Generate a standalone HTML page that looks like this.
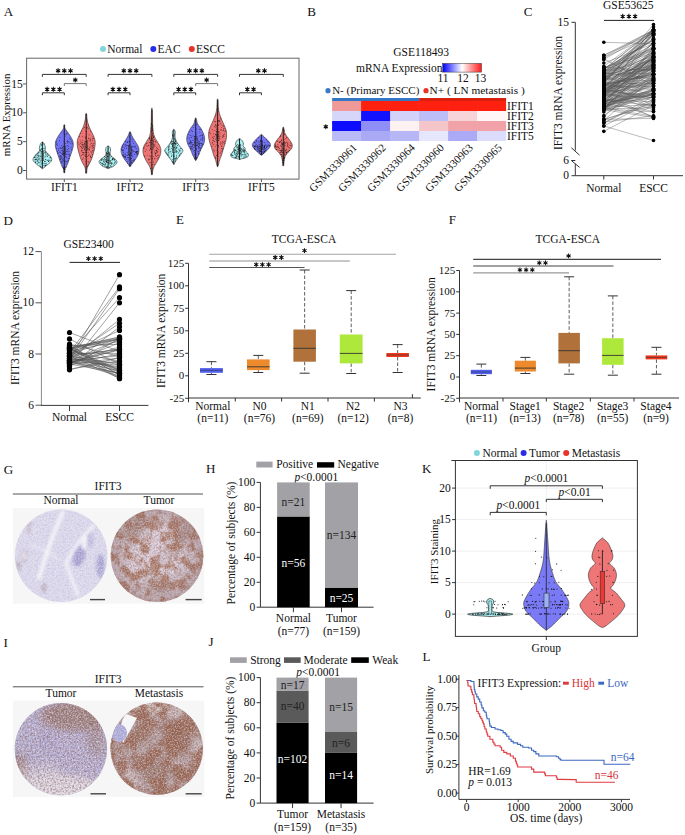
<!DOCTYPE html>
<html><head><meta charset="utf-8"><style>
html,body{margin:0;padding:0;background:#fff;}
svg{display:block;font-family:"Liberation Serif",serif;}
</style></head><body>
<svg width="685" height="835" viewBox="0 0 685 835">
<rect width="685" height="835" fill="#fff"/>
<text x="3.70" y="15.53" font-size="13.06" text-anchor="start" fill="#111" >A</text>
<rect x="26.60" y="58.20" width="272.40" height="120.90" fill="none" stroke="#666" stroke-width="1" />
<line x1="23.10" y1="170.50" x2="26.60" y2="170.50" stroke="#555" stroke-width="1" />
<text x="22.80" y="174.13" font-size="11.49" text-anchor="end" fill="#111" >0</text>
<line x1="23.10" y1="141.65" x2="26.60" y2="141.65" stroke="#555" stroke-width="1" />
<text x="22.80" y="145.28" font-size="11.49" text-anchor="end" fill="#111" >5</text>
<line x1="23.10" y1="112.80" x2="26.60" y2="112.80" stroke="#555" stroke-width="1" />
<text x="22.80" y="116.43" font-size="11.49" text-anchor="end" fill="#111" >10</text>
<line x1="23.10" y1="83.95" x2="26.60" y2="83.95" stroke="#555" stroke-width="1" />
<text x="22.80" y="87.58" font-size="11.49" text-anchor="end" fill="#111" >15</text>
<text transform="translate(10.40,114.90) rotate(-90)" x="0" y="0" font-size="10.97" text-anchor="middle" fill="#111">mRNA Expression</text>
<line x1="64.30" y1="179.10" x2="64.30" y2="182.10" stroke="#555" stroke-width="1" />
<text x="64.30" y="191.23" font-size="11.49" text-anchor="middle" fill="#111" >IFIT1</text>
<line x1="130.00" y1="179.10" x2="130.00" y2="182.10" stroke="#555" stroke-width="1" />
<text x="130.00" y="191.23" font-size="11.49" text-anchor="middle" fill="#111" >IFIT2</text>
<line x1="195.70" y1="179.10" x2="195.70" y2="182.10" stroke="#555" stroke-width="1" />
<text x="195.70" y="191.23" font-size="11.49" text-anchor="middle" fill="#111" >IFIT3</text>
<line x1="261.40" y1="179.10" x2="261.40" y2="182.10" stroke="#555" stroke-width="1" />
<text x="261.40" y="191.23" font-size="11.49" text-anchor="middle" fill="#111" >IFIT5</text>
<circle cx="103.00" cy="49.00" r="3" fill="#7fd6de" stroke="none" stroke-width="0"/>
<text x="107.30" y="52.63" font-size="11.49" text-anchor="start" fill="#111" >Normal</text>
<circle cx="153.30" cy="49.00" r="3" fill="#2b2bea" stroke="none" stroke-width="0"/>
<text x="157.60" y="52.63" font-size="11.49" text-anchor="start" fill="#111" >EAC</text>
<circle cx="191.80" cy="49.00" r="3" fill="#e8332a" stroke="none" stroke-width="0"/>
<text x="196.10" y="52.63" font-size="11.49" text-anchor="start" fill="#111" >ESCC</text>
<path d="M42.70,142.00 C43.08,142.33 43.95,143.00 44.40,144.00 C44.85,145.00 45.23,146.83 45.40,148.00 C45.57,149.17 44.90,150.00 45.40,151.00 C45.90,152.00 47.40,152.83 48.40,154.00 C49.40,155.17 50.90,156.83 51.40,158.00 C51.90,159.17 51.90,160.00 51.40,161.00 C50.90,162.00 49.40,163.08 48.40,164.00 C47.40,164.92 46.35,165.75 45.40,166.50 C44.45,167.25 43.25,168.17 42.70,168.50 C42.15,168.83 42.65,168.83 42.10,168.50 C41.55,168.17 40.35,167.25 39.40,166.50 C38.45,165.75 37.40,164.92 36.40,164.00 C35.40,163.08 33.90,162.00 33.40,161.00 C32.90,160.00 32.90,159.17 33.40,158.00 C33.90,156.83 35.40,155.17 36.40,154.00 C37.40,152.83 38.90,152.00 39.40,151.00 C39.90,150.00 39.23,149.17 39.40,148.00 C39.57,146.83 39.95,145.00 40.40,144.00 C40.85,143.00 41.72,142.33 42.10,142.00 C42.48,141.67 42.32,141.67 42.70,142.00 Z" fill="#a8f0f2" stroke="#333" stroke-width="0.6" />
<g fill="#111"><circle cx="44.7" cy="156.9" r="0.45"/><circle cx="35.1" cy="161.0" r="0.45"/><circle cx="37.9" cy="153.3" r="0.45"/><circle cx="42.5" cy="157.1" r="0.45"/><circle cx="37.3" cy="163.7" r="0.45"/><circle cx="35.4" cy="159.6" r="0.45"/><circle cx="40.3" cy="149.4" r="0.45"/><circle cx="38.6" cy="162.8" r="0.45"/><circle cx="42.8" cy="149.3" r="0.45"/><circle cx="41.8" cy="149.0" r="0.45"/><circle cx="48.5" cy="159.9" r="0.45"/><circle cx="38.8" cy="158.0" r="0.45"/><circle cx="39.1" cy="159.9" r="0.45"/><circle cx="47.8" cy="160.3" r="0.45"/><circle cx="44.7" cy="161.2" r="0.45"/><circle cx="41.1" cy="164.6" r="0.45"/><circle cx="35.9" cy="156.4" r="0.45"/><circle cx="37.5" cy="157.7" r="0.45"/><circle cx="39.8" cy="155.9" r="0.45"/><circle cx="43.2" cy="153.2" r="0.45"/><circle cx="45.7" cy="154.0" r="0.45"/><circle cx="45.8" cy="159.5" r="0.45"/><circle cx="42.8" cy="158.5" r="0.45"/><circle cx="45.7" cy="165.2" r="0.45"/><circle cx="50.4" cy="157.7" r="0.45"/><circle cx="38.1" cy="153.9" r="0.45"/><circle cx="40.4" cy="150.5" r="0.45"/><circle cx="42.2" cy="162.6" r="0.45"/><circle cx="44.3" cy="165.9" r="0.45"/><circle cx="43.6" cy="160.2" r="0.45"/><circle cx="45.5" cy="161.5" r="0.45"/><circle cx="43.6" cy="155.0" r="0.45"/><circle cx="45.7" cy="153.1" r="0.45"/><circle cx="48.4" cy="155.4" r="0.45"/><circle cx="39.9" cy="150.5" r="0.45"/><circle cx="45.8" cy="159.5" r="0.45"/><circle cx="44.2" cy="148.2" r="0.45"/><circle cx="41.5" cy="144.9" r="0.45"/><circle cx="38.5" cy="152.3" r="0.45"/><circle cx="41.9" cy="163.4" r="0.45"/><circle cx="34.9" cy="159.6" r="0.45"/><circle cx="47.0" cy="160.6" r="0.45"/><circle cx="40.5" cy="161.0" r="0.45"/><circle cx="48.6" cy="161.2" r="0.45"/><circle cx="43.0" cy="163.3" r="0.45"/><circle cx="48.9" cy="161.1" r="0.45"/><circle cx="39.3" cy="162.7" r="0.45"/><circle cx="41.9" cy="148.7" r="0.45"/><circle cx="45.3" cy="151.3" r="0.45"/><circle cx="40.7" cy="166.8" r="0.45"/><circle cx="37.8" cy="160.0" r="0.45"/><circle cx="42.2" cy="161.7" r="0.45"/><circle cx="36.2" cy="154.7" r="0.45"/><circle cx="41.2" cy="156.1" r="0.45"/><circle cx="47.2" cy="153.6" r="0.45"/><circle cx="44.8" cy="163.3" r="0.45"/><circle cx="43.4" cy="150.9" r="0.45"/><circle cx="35.1" cy="157.5" r="0.45"/><circle cx="45.2" cy="165.7" r="0.45"/><circle cx="45.1" cy="152.8" r="0.45"/><circle cx="37.8" cy="154.1" r="0.45"/><circle cx="44.5" cy="161.6" r="0.45"/><circle cx="37.4" cy="160.1" r="0.45"/><circle cx="36.6" cy="159.0" r="0.45"/><circle cx="34.3" cy="157.3" r="0.45"/><circle cx="36.4" cy="159.7" r="0.45"/><circle cx="35.5" cy="162.3" r="0.45"/><circle cx="48.6" cy="161.2" r="0.45"/><circle cx="38.9" cy="156.0" r="0.45"/><circle cx="40.2" cy="156.3" r="0.45"/><circle cx="47.6" cy="156.5" r="0.45"/><circle cx="50.8" cy="160.3" r="0.45"/><circle cx="39.0" cy="152.3" r="0.45"/><circle cx="35.6" cy="159.5" r="0.45"/><circle cx="47.1" cy="156.0" r="0.45"/><circle cx="37.1" cy="161.7" r="0.45"/><circle cx="42.9" cy="160.1" r="0.45"/><circle cx="35.4" cy="162.3" r="0.45"/><circle cx="42.7" cy="163.5" r="0.45"/><circle cx="45.4" cy="156.8" r="0.45"/><circle cx="36.8" cy="157.9" r="0.45"/><circle cx="45.9" cy="163.3" r="0.45"/><circle cx="41.4" cy="149.2" r="0.45"/><circle cx="38.3" cy="156.4" r="0.45"/><circle cx="46.4" cy="164.0" r="0.45"/><circle cx="43.6" cy="144.0" r="0.45"/><circle cx="38.2" cy="161.9" r="0.45"/><circle cx="42.5" cy="150.3" r="0.45"/><circle cx="34.7" cy="157.5" r="0.45"/><circle cx="38.6" cy="159.3" r="0.45"/><circle cx="50.1" cy="157.8" r="0.45"/><circle cx="42.1" cy="166.4" r="0.45"/><circle cx="46.0" cy="152.2" r="0.45"/><circle cx="38.6" cy="155.8" r="0.45"/><circle cx="37.2" cy="161.1" r="0.45"/><circle cx="49.2" cy="160.3" r="0.45"/><circle cx="45.2" cy="165.4" r="0.45"/><circle cx="44.1" cy="150.6" r="0.45"/><circle cx="35.3" cy="159.2" r="0.45"/><circle cx="44.6" cy="152.1" r="0.45"/><circle cx="43.8" cy="148.4" r="0.45"/><circle cx="46.1" cy="155.0" r="0.45"/><circle cx="39.5" cy="158.7" r="0.45"/><circle cx="41.0" cy="162.7" r="0.45"/><circle cx="42.0" cy="144.8" r="0.45"/><circle cx="40.4" cy="166.3" r="0.45"/><circle cx="37.4" cy="155.5" r="0.45"/><circle cx="45.2" cy="164.9" r="0.45"/><circle cx="41.4" cy="167.6" r="0.45"/><circle cx="43.8" cy="165.1" r="0.45"/><circle cx="41.8" cy="145.1" r="0.45"/><circle cx="35.8" cy="155.6" r="0.45"/><circle cx="50.1" cy="157.4" r="0.45"/><circle cx="47.6" cy="154.4" r="0.45"/><circle cx="41.8" cy="153.0" r="0.45"/><circle cx="39.8" cy="165.1" r="0.45"/><circle cx="40.9" cy="151.1" r="0.45"/></g>
<line x1="42.40" y1="142.00" x2="42.40" y2="168.50" stroke="#1a1a1a" stroke-width="0.95" />
<rect x="41.10" y="151.57" width="2.60" height="9.00" fill="none" stroke="#222" stroke-width="0.5" />
<path d="M64.70,125.00 C64.87,125.50 64.55,127.00 64.90,128.00 C65.25,129.00 65.90,129.67 66.80,131.00 C67.70,132.33 69.30,134.33 70.30,136.00 C71.30,137.67 72.30,139.42 72.80,141.00 C73.30,142.58 73.38,144.00 73.30,145.50 C73.22,147.00 72.80,148.25 72.30,150.00 C71.80,151.75 70.97,154.00 70.30,156.00 C69.63,158.00 68.97,160.17 68.30,162.00 C67.63,163.83 66.83,165.83 66.30,167.00 C65.77,168.17 65.37,168.07 65.10,169.00 C64.83,169.93 64.90,172.00 64.70,172.60 C64.50,173.20 64.10,173.20 63.90,172.60 C63.70,172.00 63.77,169.93 63.50,169.00 C63.23,168.07 62.83,168.17 62.30,167.00 C61.77,165.83 60.97,163.83 60.30,162.00 C59.63,160.17 58.97,158.00 58.30,156.00 C57.63,154.00 56.80,151.75 56.30,150.00 C55.80,148.25 55.38,147.00 55.30,145.50 C55.22,144.00 55.30,142.58 55.80,141.00 C56.30,139.42 57.30,137.67 58.30,136.00 C59.30,134.33 60.90,132.33 61.80,131.00 C62.70,129.67 63.35,129.00 63.70,128.00 C64.05,127.00 63.73,125.50 63.90,125.00 C64.07,124.50 64.53,124.50 64.70,125.00 Z" fill="#7474f6" stroke="#333" stroke-width="0.6" />
<g fill="#111"><circle cx="65.6" cy="149.9" r="0.45"/><circle cx="62.0" cy="158.6" r="0.45"/><circle cx="71.0" cy="147.4" r="0.45"/><circle cx="62.5" cy="154.3" r="0.45"/><circle cx="70.3" cy="139.6" r="0.45"/><circle cx="63.3" cy="155.1" r="0.45"/><circle cx="64.6" cy="161.6" r="0.45"/><circle cx="64.7" cy="146.2" r="0.45"/><circle cx="61.9" cy="162.0" r="0.45"/><circle cx="57.7" cy="153.0" r="0.45"/><circle cx="64.0" cy="153.6" r="0.45"/><circle cx="68.1" cy="146.2" r="0.45"/><circle cx="64.6" cy="143.9" r="0.45"/><circle cx="65.2" cy="148.9" r="0.45"/><circle cx="65.1" cy="152.8" r="0.45"/><circle cx="60.2" cy="147.4" r="0.45"/><circle cx="64.4" cy="149.0" r="0.45"/><circle cx="64.5" cy="167.9" r="0.45"/><circle cx="63.5" cy="153.1" r="0.45"/><circle cx="64.8" cy="130.8" r="0.45"/><circle cx="67.3" cy="140.4" r="0.45"/><circle cx="63.6" cy="151.4" r="0.45"/><circle cx="71.4" cy="141.2" r="0.45"/><circle cx="67.4" cy="149.5" r="0.45"/><circle cx="63.7" cy="168.0" r="0.45"/><circle cx="65.0" cy="135.9" r="0.45"/><circle cx="63.7" cy="168.9" r="0.45"/><circle cx="57.8" cy="145.4" r="0.45"/><circle cx="60.2" cy="148.3" r="0.45"/><circle cx="58.7" cy="153.1" r="0.45"/><circle cx="70.9" cy="143.7" r="0.45"/><circle cx="60.0" cy="137.2" r="0.45"/><circle cx="58.7" cy="148.8" r="0.45"/><circle cx="69.4" cy="138.1" r="0.45"/><circle cx="68.8" cy="158.4" r="0.45"/><circle cx="62.8" cy="150.4" r="0.45"/><circle cx="68.5" cy="154.1" r="0.45"/><circle cx="64.5" cy="157.1" r="0.45"/><circle cx="62.9" cy="160.4" r="0.45"/><circle cx="67.0" cy="154.6" r="0.45"/><circle cx="59.9" cy="159.7" r="0.45"/><circle cx="56.4" cy="142.1" r="0.45"/><circle cx="61.6" cy="148.4" r="0.45"/><circle cx="57.0" cy="143.7" r="0.45"/><circle cx="72.4" cy="143.8" r="0.45"/><circle cx="60.3" cy="157.9" r="0.45"/><circle cx="64.1" cy="127.1" r="0.45"/><circle cx="63.6" cy="167.8" r="0.45"/><circle cx="60.0" cy="155.9" r="0.45"/><circle cx="66.8" cy="133.3" r="0.45"/><circle cx="62.4" cy="161.6" r="0.45"/><circle cx="64.7" cy="164.4" r="0.45"/><circle cx="64.6" cy="169.0" r="0.45"/><circle cx="66.6" cy="154.6" r="0.45"/><circle cx="63.3" cy="153.5" r="0.45"/><circle cx="64.4" cy="172.0" r="0.45"/><circle cx="66.7" cy="161.7" r="0.45"/><circle cx="63.2" cy="168.0" r="0.45"/><circle cx="67.2" cy="161.2" r="0.45"/><circle cx="65.2" cy="143.5" r="0.45"/><circle cx="69.6" cy="154.3" r="0.45"/><circle cx="64.7" cy="151.2" r="0.45"/><circle cx="61.4" cy="156.8" r="0.45"/><circle cx="59.2" cy="156.2" r="0.45"/><circle cx="60.8" cy="155.4" r="0.45"/><circle cx="68.4" cy="148.7" r="0.45"/><circle cx="62.3" cy="159.3" r="0.45"/><circle cx="61.7" cy="145.8" r="0.45"/><circle cx="57.5" cy="151.8" r="0.45"/><circle cx="67.6" cy="151.8" r="0.45"/><circle cx="65.0" cy="153.5" r="0.45"/><circle cx="69.3" cy="155.8" r="0.45"/><circle cx="61.3" cy="161.8" r="0.45"/><circle cx="64.2" cy="156.1" r="0.45"/><circle cx="69.8" cy="142.6" r="0.45"/><circle cx="67.4" cy="142.9" r="0.45"/><circle cx="68.9" cy="158.8" r="0.45"/><circle cx="67.7" cy="141.9" r="0.45"/><circle cx="64.8" cy="166.8" r="0.45"/><circle cx="56.8" cy="144.5" r="0.45"/><circle cx="60.3" cy="156.8" r="0.45"/><circle cx="63.2" cy="165.9" r="0.45"/><circle cx="61.0" cy="158.5" r="0.45"/><circle cx="65.5" cy="167.6" r="0.45"/><circle cx="65.7" cy="161.0" r="0.45"/><circle cx="61.2" cy="150.4" r="0.45"/><circle cx="63.9" cy="158.7" r="0.45"/><circle cx="61.8" cy="157.5" r="0.45"/><circle cx="68.3" cy="160.4" r="0.45"/><circle cx="62.7" cy="163.6" r="0.45"/><circle cx="71.4" cy="149.7" r="0.45"/><circle cx="56.4" cy="148.5" r="0.45"/><circle cx="63.3" cy="160.1" r="0.45"/><circle cx="59.6" cy="140.7" r="0.45"/><circle cx="64.4" cy="153.6" r="0.45"/><circle cx="60.5" cy="159.3" r="0.45"/><circle cx="62.9" cy="152.0" r="0.45"/><circle cx="61.8" cy="153.8" r="0.45"/><circle cx="60.6" cy="152.3" r="0.45"/><circle cx="68.4" cy="141.8" r="0.45"/><circle cx="67.0" cy="145.8" r="0.45"/><circle cx="62.5" cy="147.7" r="0.45"/><circle cx="63.1" cy="132.7" r="0.45"/><circle cx="66.7" cy="157.2" r="0.45"/><circle cx="66.4" cy="151.3" r="0.45"/><circle cx="64.9" cy="169.2" r="0.45"/><circle cx="65.7" cy="156.7" r="0.45"/><circle cx="58.8" cy="150.0" r="0.45"/><circle cx="64.5" cy="134.5" r="0.45"/><circle cx="66.9" cy="133.7" r="0.45"/><circle cx="69.0" cy="151.3" r="0.45"/><circle cx="66.0" cy="134.4" r="0.45"/><circle cx="67.4" cy="141.7" r="0.45"/><circle cx="59.2" cy="152.1" r="0.45"/><circle cx="62.6" cy="154.2" r="0.45"/><circle cx="64.6" cy="166.1" r="0.45"/><circle cx="65.2" cy="162.9" r="0.45"/><circle cx="64.1" cy="141.7" r="0.45"/><circle cx="56.2" cy="141.6" r="0.45"/></g>
<line x1="64.30" y1="125.00" x2="64.30" y2="172.60" stroke="#1a1a1a" stroke-width="0.95" />
<rect x="63.00" y="146.18" width="2.60" height="9.00" fill="none" stroke="#222" stroke-width="0.5" />
<path d="M86.60,114.00 C86.83,115.00 86.77,117.83 87.20,120.00 C87.63,122.17 88.37,124.83 89.20,127.00 C90.03,129.17 91.28,131.00 92.20,133.00 C93.12,135.00 94.20,137.33 94.70,139.00 C95.20,140.67 95.20,141.50 95.20,143.00 C95.20,144.50 95.03,146.17 94.70,148.00 C94.37,149.83 93.78,152.00 93.20,154.00 C92.62,156.00 91.95,158.17 91.20,160.00 C90.45,161.83 89.37,163.67 88.70,165.00 C88.03,166.33 87.55,166.67 87.20,168.00 C86.85,169.33 86.83,172.17 86.60,173.00 C86.37,173.83 86.03,173.83 85.80,173.00 C85.57,172.17 85.55,169.33 85.20,168.00 C84.85,166.67 84.37,166.33 83.70,165.00 C83.03,163.67 81.95,161.83 81.20,160.00 C80.45,158.17 79.78,156.00 79.20,154.00 C78.62,152.00 78.03,149.83 77.70,148.00 C77.37,146.17 77.20,144.50 77.20,143.00 C77.20,141.50 77.20,140.67 77.70,139.00 C78.20,137.33 79.28,135.00 80.20,133.00 C81.12,131.00 82.37,129.17 83.20,127.00 C84.03,124.83 84.77,122.17 85.20,120.00 C85.63,117.83 85.57,115.00 85.80,114.00 C86.03,113.00 86.37,113.00 86.60,114.00 Z" fill="#f07373" stroke="#333" stroke-width="0.6" />
<g fill="#111"><circle cx="86.2" cy="152.3" r="0.45"/><circle cx="86.4" cy="127.8" r="0.45"/><circle cx="90.2" cy="144.1" r="0.45"/><circle cx="82.0" cy="142.8" r="0.45"/><circle cx="89.1" cy="154.8" r="0.45"/><circle cx="81.8" cy="150.7" r="0.45"/><circle cx="86.1" cy="144.4" r="0.45"/><circle cx="86.1" cy="114.4" r="0.45"/><circle cx="88.2" cy="128.8" r="0.45"/><circle cx="88.0" cy="148.9" r="0.45"/><circle cx="80.2" cy="143.5" r="0.45"/><circle cx="82.0" cy="142.8" r="0.45"/><circle cx="87.3" cy="146.1" r="0.45"/><circle cx="79.3" cy="136.5" r="0.45"/><circle cx="88.4" cy="155.2" r="0.45"/><circle cx="89.1" cy="150.0" r="0.45"/><circle cx="86.5" cy="142.1" r="0.45"/><circle cx="85.7" cy="137.8" r="0.45"/><circle cx="92.7" cy="140.7" r="0.45"/><circle cx="81.3" cy="147.7" r="0.45"/><circle cx="78.0" cy="142.7" r="0.45"/><circle cx="88.5" cy="125.4" r="0.45"/><circle cx="85.5" cy="152.1" r="0.45"/><circle cx="93.6" cy="145.6" r="0.45"/><circle cx="82.5" cy="154.5" r="0.45"/><circle cx="86.6" cy="140.8" r="0.45"/><circle cx="93.9" cy="143.3" r="0.45"/><circle cx="86.3" cy="161.2" r="0.45"/><circle cx="88.9" cy="162.7" r="0.45"/><circle cx="92.9" cy="144.0" r="0.45"/><circle cx="86.0" cy="138.3" r="0.45"/><circle cx="86.1" cy="147.5" r="0.45"/><circle cx="85.4" cy="146.7" r="0.45"/><circle cx="83.6" cy="144.4" r="0.45"/><circle cx="83.6" cy="152.7" r="0.45"/><circle cx="90.3" cy="146.9" r="0.45"/><circle cx="91.8" cy="145.9" r="0.45"/><circle cx="87.0" cy="166.1" r="0.45"/><circle cx="88.1" cy="165.0" r="0.45"/><circle cx="84.4" cy="143.7" r="0.45"/><circle cx="91.7" cy="157.5" r="0.45"/><circle cx="85.1" cy="137.0" r="0.45"/><circle cx="82.5" cy="140.6" r="0.45"/><circle cx="91.0" cy="151.7" r="0.45"/><circle cx="82.8" cy="148.1" r="0.45"/><circle cx="83.2" cy="154.7" r="0.45"/><circle cx="86.4" cy="143.0" r="0.45"/><circle cx="93.0" cy="150.7" r="0.45"/><circle cx="90.6" cy="157.1" r="0.45"/><circle cx="91.9" cy="152.8" r="0.45"/><circle cx="90.4" cy="131.1" r="0.45"/><circle cx="83.0" cy="128.6" r="0.45"/><circle cx="90.1" cy="140.8" r="0.45"/><circle cx="87.1" cy="127.7" r="0.45"/><circle cx="83.2" cy="152.5" r="0.45"/><circle cx="85.8" cy="172.2" r="0.45"/><circle cx="85.8" cy="154.7" r="0.45"/><circle cx="90.2" cy="141.0" r="0.45"/><circle cx="92.3" cy="154.8" r="0.45"/><circle cx="82.9" cy="145.4" r="0.45"/><circle cx="86.5" cy="163.7" r="0.45"/><circle cx="80.6" cy="140.9" r="0.45"/><circle cx="81.9" cy="150.9" r="0.45"/><circle cx="83.2" cy="158.0" r="0.45"/><circle cx="92.7" cy="138.8" r="0.45"/><circle cx="82.6" cy="159.4" r="0.45"/><circle cx="81.1" cy="146.2" r="0.45"/><circle cx="81.2" cy="155.6" r="0.45"/><circle cx="82.5" cy="152.3" r="0.45"/><circle cx="92.6" cy="145.7" r="0.45"/><circle cx="88.1" cy="161.8" r="0.45"/><circle cx="86.5" cy="136.1" r="0.45"/><circle cx="84.5" cy="152.9" r="0.45"/><circle cx="82.4" cy="144.3" r="0.45"/><circle cx="93.3" cy="150.1" r="0.45"/><circle cx="87.7" cy="156.3" r="0.45"/><circle cx="90.5" cy="156.4" r="0.45"/><circle cx="82.2" cy="148.5" r="0.45"/><circle cx="85.0" cy="155.7" r="0.45"/><circle cx="86.8" cy="118.9" r="0.45"/><circle cx="90.6" cy="156.3" r="0.45"/><circle cx="89.4" cy="149.5" r="0.45"/><circle cx="92.7" cy="146.9" r="0.45"/><circle cx="81.4" cy="131.0" r="0.45"/><circle cx="84.5" cy="149.1" r="0.45"/><circle cx="87.5" cy="166.3" r="0.45"/><circle cx="93.0" cy="136.7" r="0.45"/><circle cx="80.5" cy="146.6" r="0.45"/><circle cx="86.5" cy="152.2" r="0.45"/><circle cx="89.1" cy="134.9" r="0.45"/><circle cx="86.6" cy="120.9" r="0.45"/><circle cx="87.0" cy="147.7" r="0.45"/><circle cx="80.8" cy="133.5" r="0.45"/><circle cx="92.9" cy="148.2" r="0.45"/><circle cx="88.4" cy="138.1" r="0.45"/><circle cx="82.0" cy="144.5" r="0.45"/><circle cx="88.1" cy="152.3" r="0.45"/><circle cx="79.0" cy="144.7" r="0.45"/><circle cx="86.6" cy="141.0" r="0.45"/><circle cx="82.3" cy="136.4" r="0.45"/><circle cx="87.9" cy="140.7" r="0.45"/><circle cx="85.7" cy="156.5" r="0.45"/><circle cx="93.7" cy="147.2" r="0.45"/><circle cx="86.0" cy="131.4" r="0.45"/><circle cx="84.6" cy="127.2" r="0.45"/><circle cx="89.5" cy="147.1" r="0.45"/><circle cx="86.2" cy="145.6" r="0.45"/><circle cx="88.9" cy="148.8" r="0.45"/><circle cx="88.8" cy="138.5" r="0.45"/><circle cx="92.5" cy="150.9" r="0.45"/><circle cx="83.6" cy="147.0" r="0.45"/><circle cx="85.0" cy="149.6" r="0.45"/><circle cx="91.3" cy="143.3" r="0.45"/><circle cx="90.1" cy="139.4" r="0.45"/><circle cx="93.6" cy="138.5" r="0.45"/><circle cx="83.1" cy="146.3" r="0.45"/><circle cx="82.0" cy="150.1" r="0.45"/><circle cx="90.4" cy="138.8" r="0.45"/></g>
<line x1="86.20" y1="114.00" x2="86.20" y2="173.00" stroke="#1a1a1a" stroke-width="0.95" />
<rect x="84.90" y="141.45" width="2.60" height="9.00" fill="none" stroke="#222" stroke-width="0.5" />
<path d="M108.40,146.00 C108.78,146.25 109.73,146.83 110.10,147.50 C110.47,148.17 110.60,149.08 110.60,150.00 C110.60,150.92 110.02,152.00 110.10,153.00 C110.18,154.00 110.27,155.00 111.10,156.00 C111.93,157.00 114.10,158.08 115.10,159.00 C116.10,159.92 116.93,160.67 117.10,161.50 C117.27,162.33 116.77,163.17 116.10,164.00 C115.43,164.83 114.38,165.77 113.10,166.50 C111.82,167.23 109.28,168.08 108.40,168.40 C107.52,168.72 108.68,168.72 107.80,168.40 C106.92,168.08 104.38,167.23 103.10,166.50 C101.82,165.77 100.77,164.83 100.10,164.00 C99.43,163.17 98.93,162.33 99.10,161.50 C99.27,160.67 100.10,159.92 101.10,159.00 C102.10,158.08 104.27,157.00 105.10,156.00 C105.93,155.00 106.02,154.00 106.10,153.00 C106.18,152.00 105.60,150.92 105.60,150.00 C105.60,149.08 105.73,148.17 106.10,147.50 C106.47,146.83 107.42,146.25 107.80,146.00 C108.18,145.75 108.02,145.75 108.40,146.00 Z" fill="#a8f0f2" stroke="#333" stroke-width="0.6" />
<g fill="#111"><circle cx="108.1" cy="157.1" r="0.45"/><circle cx="106.7" cy="161.4" r="0.45"/><circle cx="110.7" cy="163.1" r="0.45"/><circle cx="106.4" cy="162.6" r="0.45"/><circle cx="104.1" cy="159.4" r="0.45"/><circle cx="100.8" cy="162.6" r="0.45"/><circle cx="101.7" cy="159.8" r="0.45"/><circle cx="109.6" cy="152.7" r="0.45"/><circle cx="110.5" cy="166.1" r="0.45"/><circle cx="105.6" cy="160.0" r="0.45"/><circle cx="111.7" cy="164.3" r="0.45"/><circle cx="107.1" cy="166.7" r="0.45"/><circle cx="105.9" cy="161.5" r="0.45"/><circle cx="101.7" cy="158.9" r="0.45"/><circle cx="104.5" cy="162.6" r="0.45"/><circle cx="106.5" cy="153.5" r="0.45"/><circle cx="105.8" cy="163.2" r="0.45"/><circle cx="112.6" cy="159.5" r="0.45"/><circle cx="100.7" cy="162.3" r="0.45"/><circle cx="108.0" cy="155.9" r="0.45"/><circle cx="106.9" cy="153.2" r="0.45"/><circle cx="107.4" cy="167.4" r="0.45"/><circle cx="106.6" cy="161.1" r="0.45"/><circle cx="112.5" cy="159.5" r="0.45"/><circle cx="101.0" cy="160.3" r="0.45"/><circle cx="102.4" cy="158.9" r="0.45"/><circle cx="112.0" cy="163.2" r="0.45"/><circle cx="112.9" cy="158.5" r="0.45"/><circle cx="113.4" cy="158.3" r="0.45"/><circle cx="109.9" cy="163.2" r="0.45"/><circle cx="105.5" cy="159.7" r="0.45"/><circle cx="106.8" cy="167.3" r="0.45"/><circle cx="109.7" cy="167.7" r="0.45"/><circle cx="110.2" cy="160.4" r="0.45"/><circle cx="103.7" cy="161.1" r="0.45"/><circle cx="107.7" cy="159.9" r="0.45"/><circle cx="107.1" cy="157.2" r="0.45"/><circle cx="108.0" cy="160.2" r="0.45"/><circle cx="113.7" cy="164.9" r="0.45"/><circle cx="111.8" cy="163.5" r="0.45"/><circle cx="109.6" cy="167.6" r="0.45"/><circle cx="105.3" cy="161.1" r="0.45"/><circle cx="107.3" cy="154.1" r="0.45"/><circle cx="105.9" cy="155.1" r="0.45"/><circle cx="105.0" cy="166.2" r="0.45"/><circle cx="101.5" cy="160.3" r="0.45"/><circle cx="104.5" cy="156.8" r="0.45"/><circle cx="111.4" cy="156.4" r="0.45"/><circle cx="113.1" cy="158.9" r="0.45"/><circle cx="101.7" cy="163.7" r="0.45"/><circle cx="102.2" cy="159.9" r="0.45"/><circle cx="107.9" cy="153.2" r="0.45"/><circle cx="104.1" cy="160.3" r="0.45"/><circle cx="109.0" cy="154.8" r="0.45"/><circle cx="112.0" cy="163.3" r="0.45"/><circle cx="102.3" cy="164.0" r="0.45"/><circle cx="109.8" cy="154.8" r="0.45"/><circle cx="106.5" cy="158.6" r="0.45"/><circle cx="110.8" cy="165.8" r="0.45"/><circle cx="103.8" cy="161.3" r="0.45"/><circle cx="102.7" cy="163.4" r="0.45"/><circle cx="105.7" cy="164.6" r="0.45"/><circle cx="107.4" cy="156.3" r="0.45"/><circle cx="105.0" cy="165.5" r="0.45"/><circle cx="112.6" cy="159.9" r="0.45"/><circle cx="106.5" cy="152.4" r="0.45"/><circle cx="108.0" cy="148.9" r="0.45"/><circle cx="114.5" cy="163.8" r="0.45"/><circle cx="106.3" cy="152.4" r="0.45"/><circle cx="103.7" cy="159.6" r="0.45"/><circle cx="115.9" cy="162.4" r="0.45"/><circle cx="107.5" cy="151.2" r="0.45"/><circle cx="110.0" cy="155.0" r="0.45"/><circle cx="110.3" cy="156.9" r="0.45"/><circle cx="115.6" cy="161.3" r="0.45"/><circle cx="109.7" cy="164.9" r="0.45"/><circle cx="103.8" cy="163.9" r="0.45"/><circle cx="104.5" cy="158.5" r="0.45"/><circle cx="104.0" cy="162.0" r="0.45"/><circle cx="106.6" cy="154.9" r="0.45"/><circle cx="104.8" cy="156.4" r="0.45"/><circle cx="105.5" cy="157.1" r="0.45"/><circle cx="106.2" cy="166.2" r="0.45"/><circle cx="108.9" cy="162.5" r="0.45"/><circle cx="106.7" cy="167.8" r="0.45"/><circle cx="108.9" cy="163.8" r="0.45"/><circle cx="110.3" cy="162.9" r="0.45"/><circle cx="111.3" cy="162.5" r="0.45"/><circle cx="106.6" cy="161.7" r="0.45"/><circle cx="114.4" cy="159.4" r="0.45"/><circle cx="105.2" cy="164.0" r="0.45"/><circle cx="107.5" cy="156.4" r="0.45"/><circle cx="112.5" cy="158.5" r="0.45"/><circle cx="103.8" cy="164.5" r="0.45"/><circle cx="111.5" cy="160.1" r="0.45"/><circle cx="114.3" cy="160.3" r="0.45"/><circle cx="106.9" cy="160.7" r="0.45"/><circle cx="114.5" cy="162.2" r="0.45"/><circle cx="107.9" cy="156.1" r="0.45"/><circle cx="108.9" cy="160.6" r="0.45"/><circle cx="110.4" cy="160.9" r="0.45"/><circle cx="110.2" cy="161.8" r="0.45"/><circle cx="106.4" cy="159.2" r="0.45"/><circle cx="105.9" cy="157.7" r="0.45"/><circle cx="108.4" cy="160.1" r="0.45"/><circle cx="107.9" cy="162.1" r="0.45"/><circle cx="112.3" cy="159.2" r="0.45"/><circle cx="102.2" cy="163.1" r="0.45"/><circle cx="114.4" cy="159.6" r="0.45"/><circle cx="102.6" cy="165.3" r="0.45"/><circle cx="114.0" cy="159.4" r="0.45"/><circle cx="108.6" cy="152.8" r="0.45"/><circle cx="111.2" cy="166.5" r="0.45"/><circle cx="104.1" cy="164.4" r="0.45"/><circle cx="107.3" cy="166.8" r="0.45"/></g>
<line x1="108.10" y1="146.00" x2="108.10" y2="168.40" stroke="#1a1a1a" stroke-width="0.95" />
<rect x="106.80" y="153.32" width="2.60" height="9.00" fill="none" stroke="#222" stroke-width="0.5" />
<path d="M130.40,132.00 C130.80,132.67 131.23,134.50 132.00,136.00 C132.77,137.50 134.00,139.33 135.00,141.00 C136.00,142.67 137.33,144.50 138.00,146.00 C138.67,147.50 139.00,148.50 139.00,150.00 C139.00,151.50 138.67,153.33 138.00,155.00 C137.33,156.67 136.00,158.50 135.00,160.00 C134.00,161.50 132.77,162.93 132.00,164.00 C131.23,165.07 130.80,166.00 130.40,166.40 C130.00,166.80 130.00,166.80 129.60,166.40 C129.20,166.00 128.77,165.07 128.00,164.00 C127.23,162.93 126.00,161.50 125.00,160.00 C124.00,158.50 122.67,156.67 122.00,155.00 C121.33,153.33 121.00,151.50 121.00,150.00 C121.00,148.50 121.33,147.50 122.00,146.00 C122.67,144.50 124.00,142.67 125.00,141.00 C126.00,139.33 127.23,137.50 128.00,136.00 C128.77,134.50 129.20,132.67 129.60,132.00 C130.00,131.33 130.00,131.33 130.40,132.00 Z" fill="#7474f6" stroke="#333" stroke-width="0.6" />
<g fill="#111"><circle cx="126.8" cy="159.6" r="0.45"/><circle cx="127.1" cy="141.6" r="0.45"/><circle cx="128.3" cy="145.5" r="0.45"/><circle cx="125.2" cy="157.1" r="0.45"/><circle cx="136.4" cy="152.4" r="0.45"/><circle cx="127.8" cy="163.3" r="0.45"/><circle cx="125.4" cy="141.5" r="0.45"/><circle cx="135.4" cy="147.8" r="0.45"/><circle cx="130.5" cy="159.1" r="0.45"/><circle cx="131.4" cy="158.5" r="0.45"/><circle cx="131.4" cy="149.7" r="0.45"/><circle cx="129.2" cy="158.9" r="0.45"/><circle cx="129.0" cy="148.1" r="0.45"/><circle cx="122.8" cy="145.9" r="0.45"/><circle cx="125.9" cy="146.3" r="0.45"/><circle cx="134.1" cy="146.8" r="0.45"/><circle cx="125.0" cy="153.6" r="0.45"/><circle cx="129.6" cy="144.7" r="0.45"/><circle cx="128.9" cy="155.0" r="0.45"/><circle cx="123.7" cy="154.4" r="0.45"/><circle cx="123.8" cy="144.5" r="0.45"/><circle cx="132.1" cy="155.1" r="0.45"/><circle cx="131.9" cy="161.9" r="0.45"/><circle cx="130.1" cy="157.7" r="0.45"/><circle cx="128.8" cy="159.9" r="0.45"/><circle cx="136.9" cy="154.9" r="0.45"/><circle cx="133.9" cy="161.1" r="0.45"/><circle cx="131.4" cy="162.4" r="0.45"/><circle cx="137.5" cy="154.0" r="0.45"/><circle cx="129.9" cy="148.1" r="0.45"/><circle cx="124.6" cy="148.1" r="0.45"/><circle cx="123.9" cy="156.0" r="0.45"/><circle cx="129.3" cy="136.8" r="0.45"/><circle cx="136.4" cy="152.4" r="0.45"/><circle cx="126.3" cy="148.2" r="0.45"/><circle cx="130.0" cy="153.7" r="0.45"/><circle cx="136.9" cy="148.7" r="0.45"/><circle cx="130.1" cy="153.6" r="0.45"/><circle cx="127.7" cy="157.4" r="0.45"/><circle cx="125.4" cy="156.4" r="0.45"/><circle cx="136.9" cy="153.2" r="0.45"/><circle cx="125.0" cy="145.9" r="0.45"/><circle cx="132.1" cy="139.0" r="0.45"/><circle cx="131.5" cy="158.5" r="0.45"/><circle cx="128.3" cy="157.8" r="0.45"/><circle cx="130.9" cy="158.3" r="0.45"/><circle cx="135.8" cy="145.9" r="0.45"/><circle cx="130.3" cy="165.4" r="0.45"/><circle cx="127.4" cy="142.5" r="0.45"/><circle cx="134.8" cy="159.8" r="0.45"/><circle cx="134.1" cy="146.5" r="0.45"/><circle cx="129.0" cy="149.2" r="0.45"/><circle cx="124.3" cy="157.2" r="0.45"/><circle cx="132.0" cy="162.4" r="0.45"/><circle cx="137.9" cy="152.0" r="0.45"/><circle cx="130.6" cy="162.0" r="0.45"/><circle cx="121.7" cy="149.1" r="0.45"/><circle cx="122.7" cy="147.1" r="0.45"/><circle cx="129.2" cy="157.8" r="0.45"/><circle cx="130.1" cy="159.9" r="0.45"/><circle cx="125.9" cy="155.1" r="0.45"/><circle cx="132.6" cy="150.0" r="0.45"/><circle cx="127.7" cy="152.7" r="0.45"/><circle cx="123.6" cy="152.3" r="0.45"/><circle cx="131.4" cy="149.1" r="0.45"/><circle cx="131.2" cy="156.0" r="0.45"/><circle cx="129.6" cy="154.9" r="0.45"/><circle cx="127.3" cy="161.4" r="0.45"/><circle cx="125.4" cy="156.9" r="0.45"/><circle cx="123.1" cy="150.2" r="0.45"/><circle cx="133.4" cy="143.2" r="0.45"/><circle cx="129.0" cy="141.6" r="0.45"/><circle cx="132.4" cy="152.1" r="0.45"/><circle cx="131.0" cy="153.2" r="0.45"/><circle cx="129.1" cy="146.4" r="0.45"/><circle cx="134.0" cy="160.2" r="0.45"/><circle cx="136.6" cy="151.7" r="0.45"/><circle cx="122.8" cy="147.0" r="0.45"/><circle cx="126.2" cy="145.3" r="0.45"/><circle cx="122.6" cy="150.8" r="0.45"/><circle cx="130.8" cy="152.4" r="0.45"/><circle cx="137.3" cy="151.1" r="0.45"/><circle cx="131.6" cy="155.1" r="0.45"/><circle cx="130.1" cy="155.8" r="0.45"/><circle cx="125.7" cy="144.3" r="0.45"/><circle cx="127.9" cy="142.4" r="0.45"/><circle cx="136.4" cy="151.5" r="0.45"/><circle cx="134.4" cy="154.3" r="0.45"/><circle cx="135.6" cy="152.0" r="0.45"/><circle cx="134.1" cy="151.4" r="0.45"/><circle cx="129.5" cy="141.1" r="0.45"/><circle cx="125.8" cy="154.7" r="0.45"/><circle cx="123.6" cy="156.1" r="0.45"/><circle cx="127.6" cy="155.3" r="0.45"/><circle cx="135.6" cy="152.2" r="0.45"/><circle cx="132.2" cy="141.6" r="0.45"/><circle cx="128.9" cy="151.3" r="0.45"/><circle cx="132.4" cy="160.9" r="0.45"/><circle cx="132.2" cy="146.9" r="0.45"/><circle cx="137.7" cy="151.4" r="0.45"/><circle cx="122.7" cy="155.1" r="0.45"/><circle cx="129.7" cy="166.1" r="0.45"/><circle cx="137.1" cy="153.2" r="0.45"/><circle cx="131.1" cy="163.5" r="0.45"/><circle cx="127.5" cy="145.6" r="0.45"/><circle cx="129.3" cy="164.8" r="0.45"/><circle cx="131.7" cy="160.3" r="0.45"/><circle cx="132.6" cy="146.9" r="0.45"/><circle cx="133.3" cy="159.9" r="0.45"/><circle cx="133.3" cy="151.2" r="0.45"/><circle cx="132.9" cy="156.8" r="0.45"/><circle cx="131.1" cy="146.4" r="0.45"/><circle cx="132.1" cy="150.5" r="0.45"/><circle cx="124.4" cy="156.6" r="0.45"/><circle cx="123.1" cy="155.5" r="0.45"/><circle cx="123.3" cy="150.2" r="0.45"/><circle cx="125.7" cy="157.9" r="0.45"/><circle cx="122.1" cy="149.5" r="0.45"/></g>
<line x1="130.00" y1="132.00" x2="130.00" y2="166.40" stroke="#1a1a1a" stroke-width="0.95" />
<rect x="128.70" y="145.92" width="2.60" height="9.00" fill="none" stroke="#222" stroke-width="0.5" />
<path d="M152.30,109.80 C152.50,112.33 152.43,120.80 152.70,125.00 C152.97,129.20 153.20,132.33 153.90,135.00 C154.60,137.67 155.90,139.17 156.90,141.00 C157.90,142.83 159.23,144.33 159.90,146.00 C160.57,147.67 160.90,149.33 160.90,151.00 C160.90,152.67 160.57,154.17 159.90,156.00 C159.23,157.83 157.90,160.17 156.90,162.00 C155.90,163.83 154.60,165.50 153.90,167.00 C153.20,168.50 152.97,169.73 152.70,171.00 C152.43,172.27 152.50,174.00 152.30,174.60 C152.10,175.20 151.70,175.20 151.50,174.60 C151.30,174.00 151.37,172.27 151.10,171.00 C150.83,169.73 150.60,168.50 149.90,167.00 C149.20,165.50 147.90,163.83 146.90,162.00 C145.90,160.17 144.57,157.83 143.90,156.00 C143.23,154.17 142.90,152.67 142.90,151.00 C142.90,149.33 143.23,147.67 143.90,146.00 C144.57,144.33 145.90,142.83 146.90,141.00 C147.90,139.17 149.20,137.67 149.90,135.00 C150.60,132.33 150.83,129.20 151.10,125.00 C151.37,120.80 151.30,112.33 151.50,109.80 C151.70,107.27 152.10,107.27 152.30,109.80 Z" fill="#f07373" stroke="#333" stroke-width="0.6" />
<g fill="#111"><circle cx="152.8" cy="164.4" r="0.45"/><circle cx="155.2" cy="150.4" r="0.45"/><circle cx="153.2" cy="144.8" r="0.45"/><circle cx="150.7" cy="140.4" r="0.45"/><circle cx="158.0" cy="155.1" r="0.45"/><circle cx="151.3" cy="123.3" r="0.45"/><circle cx="154.8" cy="164.6" r="0.45"/><circle cx="151.3" cy="124.0" r="0.45"/><circle cx="144.7" cy="146.9" r="0.45"/><circle cx="157.8" cy="151.3" r="0.45"/><circle cx="157.3" cy="152.2" r="0.45"/><circle cx="152.2" cy="128.2" r="0.45"/><circle cx="146.8" cy="143.8" r="0.45"/><circle cx="156.3" cy="151.0" r="0.45"/><circle cx="150.7" cy="148.4" r="0.45"/><circle cx="144.7" cy="156.1" r="0.45"/><circle cx="154.9" cy="144.8" r="0.45"/><circle cx="149.9" cy="155.8" r="0.45"/><circle cx="151.9" cy="130.8" r="0.45"/><circle cx="144.8" cy="155.9" r="0.45"/><circle cx="151.7" cy="130.7" r="0.45"/><circle cx="151.7" cy="124.6" r="0.45"/><circle cx="155.2" cy="153.9" r="0.45"/><circle cx="153.8" cy="136.4" r="0.45"/><circle cx="147.1" cy="143.1" r="0.45"/><circle cx="143.8" cy="148.6" r="0.45"/><circle cx="149.9" cy="138.0" r="0.45"/><circle cx="144.0" cy="147.9" r="0.45"/><circle cx="152.7" cy="130.2" r="0.45"/><circle cx="147.1" cy="146.1" r="0.45"/><circle cx="153.0" cy="133.2" r="0.45"/><circle cx="148.4" cy="145.6" r="0.45"/><circle cx="147.5" cy="155.1" r="0.45"/><circle cx="153.9" cy="141.5" r="0.45"/><circle cx="152.9" cy="138.9" r="0.45"/><circle cx="145.9" cy="145.3" r="0.45"/><circle cx="156.7" cy="149.9" r="0.45"/><circle cx="152.1" cy="125.7" r="0.45"/><circle cx="151.3" cy="137.1" r="0.45"/><circle cx="157.9" cy="155.5" r="0.45"/><circle cx="150.5" cy="168.5" r="0.45"/><circle cx="148.3" cy="159.2" r="0.45"/><circle cx="151.9" cy="142.9" r="0.45"/><circle cx="151.8" cy="173.0" r="0.45"/><circle cx="151.3" cy="152.3" r="0.45"/><circle cx="152.1" cy="138.9" r="0.45"/><circle cx="154.1" cy="145.8" r="0.45"/><circle cx="151.7" cy="123.5" r="0.45"/><circle cx="155.4" cy="141.7" r="0.45"/><circle cx="154.6" cy="151.9" r="0.45"/><circle cx="151.1" cy="144.8" r="0.45"/><circle cx="153.5" cy="137.3" r="0.45"/><circle cx="151.6" cy="139.3" r="0.45"/><circle cx="156.0" cy="142.0" r="0.45"/><circle cx="148.9" cy="145.8" r="0.45"/><circle cx="155.2" cy="153.6" r="0.45"/><circle cx="146.2" cy="149.4" r="0.45"/><circle cx="150.0" cy="139.0" r="0.45"/><circle cx="149.7" cy="137.9" r="0.45"/><circle cx="149.8" cy="159.2" r="0.45"/><circle cx="154.9" cy="158.3" r="0.45"/><circle cx="151.4" cy="171.8" r="0.45"/><circle cx="151.2" cy="165.0" r="0.45"/><circle cx="152.6" cy="168.1" r="0.45"/><circle cx="151.1" cy="142.9" r="0.45"/><circle cx="145.2" cy="151.3" r="0.45"/><circle cx="149.3" cy="162.6" r="0.45"/><circle cx="150.8" cy="142.6" r="0.45"/><circle cx="156.5" cy="147.4" r="0.45"/><circle cx="153.0" cy="139.9" r="0.45"/><circle cx="151.8" cy="130.9" r="0.45"/><circle cx="150.5" cy="156.3" r="0.45"/><circle cx="154.9" cy="158.9" r="0.45"/><circle cx="153.0" cy="156.7" r="0.45"/><circle cx="153.5" cy="137.7" r="0.45"/><circle cx="153.2" cy="137.0" r="0.45"/><circle cx="158.2" cy="149.6" r="0.45"/><circle cx="157.6" cy="148.2" r="0.45"/><circle cx="152.2" cy="125.3" r="0.45"/><circle cx="151.0" cy="136.2" r="0.45"/><circle cx="152.4" cy="134.1" r="0.45"/><circle cx="156.1" cy="156.2" r="0.45"/><circle cx="155.4" cy="153.0" r="0.45"/><circle cx="151.4" cy="138.5" r="0.45"/><circle cx="151.6" cy="138.0" r="0.45"/><circle cx="152.7" cy="135.6" r="0.45"/><circle cx="153.9" cy="136.0" r="0.45"/><circle cx="156.5" cy="152.9" r="0.45"/><circle cx="150.9" cy="162.4" r="0.45"/><circle cx="151.5" cy="110.1" r="0.45"/><circle cx="152.6" cy="147.4" r="0.45"/><circle cx="158.1" cy="157.2" r="0.45"/><circle cx="152.0" cy="164.4" r="0.45"/><circle cx="152.4" cy="158.8" r="0.45"/><circle cx="155.3" cy="155.3" r="0.45"/><circle cx="152.5" cy="126.7" r="0.45"/><circle cx="152.2" cy="143.8" r="0.45"/><circle cx="151.6" cy="118.6" r="0.45"/><circle cx="153.6" cy="162.0" r="0.45"/><circle cx="151.1" cy="128.0" r="0.45"/><circle cx="157.9" cy="158.9" r="0.45"/><circle cx="149.4" cy="142.5" r="0.45"/><circle cx="150.3" cy="148.7" r="0.45"/><circle cx="150.9" cy="158.6" r="0.45"/><circle cx="154.9" cy="146.3" r="0.45"/><circle cx="149.8" cy="139.1" r="0.45"/><circle cx="155.8" cy="153.3" r="0.45"/><circle cx="148.7" cy="159.9" r="0.45"/><circle cx="154.3" cy="139.4" r="0.45"/><circle cx="149.4" cy="138.2" r="0.45"/><circle cx="156.6" cy="150.8" r="0.45"/><circle cx="151.4" cy="151.9" r="0.45"/><circle cx="152.0" cy="128.1" r="0.45"/><circle cx="149.4" cy="150.2" r="0.45"/><circle cx="152.7" cy="129.8" r="0.45"/><circle cx="151.8" cy="126.9" r="0.45"/></g>
<line x1="151.90" y1="109.80" x2="151.90" y2="174.60" stroke="#1a1a1a" stroke-width="0.95" />
<rect x="150.60" y="140.44" width="2.60" height="9.00" fill="none" stroke="#222" stroke-width="0.5" />
<path d="M174.30,129.60 C174.63,130.00 175.18,130.93 175.30,132.00 C175.42,133.07 174.92,134.67 175.00,136.00 C175.08,137.33 175.17,138.50 175.80,140.00 C176.43,141.50 177.63,143.33 178.80,145.00 C179.97,146.67 182.30,148.67 182.80,150.00 C183.30,151.33 182.47,151.83 181.80,153.00 C181.13,154.17 179.80,155.67 178.80,157.00 C177.80,158.33 176.58,159.78 175.80,161.00 C175.02,162.22 174.48,163.75 174.10,164.30 C173.72,164.85 173.88,164.85 173.50,164.30 C173.12,163.75 172.58,162.22 171.80,161.00 C171.02,159.78 169.80,158.33 168.80,157.00 C167.80,155.67 166.47,154.17 165.80,153.00 C165.13,151.83 164.30,151.33 164.80,150.00 C165.30,148.67 167.63,146.67 168.80,145.00 C169.97,143.33 171.17,141.50 171.80,140.00 C172.43,138.50 172.52,137.33 172.60,136.00 C172.68,134.67 172.18,133.07 172.30,132.00 C172.42,130.93 172.97,130.00 173.30,129.60 C173.63,129.20 173.97,129.20 174.30,129.60 Z" fill="#a8f0f2" stroke="#333" stroke-width="0.6" />
<g fill="#111"><circle cx="168.8" cy="147.5" r="0.45"/><circle cx="176.3" cy="158.4" r="0.45"/><circle cx="172.5" cy="141.7" r="0.45"/><circle cx="173.3" cy="160.7" r="0.45"/><circle cx="168.5" cy="149.8" r="0.45"/><circle cx="169.3" cy="157.3" r="0.45"/><circle cx="169.8" cy="149.0" r="0.45"/><circle cx="172.1" cy="144.4" r="0.45"/><circle cx="174.7" cy="142.7" r="0.45"/><circle cx="176.4" cy="150.9" r="0.45"/><circle cx="175.1" cy="139.6" r="0.45"/><circle cx="172.6" cy="162.1" r="0.45"/><circle cx="176.5" cy="157.0" r="0.45"/><circle cx="172.9" cy="136.6" r="0.45"/><circle cx="167.6" cy="154.8" r="0.45"/><circle cx="171.2" cy="141.4" r="0.45"/><circle cx="172.4" cy="159.6" r="0.45"/><circle cx="168.8" cy="146.9" r="0.45"/><circle cx="178.0" cy="153.1" r="0.45"/><circle cx="171.7" cy="153.9" r="0.45"/><circle cx="175.9" cy="158.6" r="0.45"/><circle cx="172.9" cy="162.3" r="0.45"/><circle cx="176.3" cy="157.3" r="0.45"/><circle cx="175.2" cy="143.9" r="0.45"/><circle cx="175.8" cy="159.6" r="0.45"/><circle cx="171.8" cy="142.4" r="0.45"/><circle cx="176.8" cy="146.9" r="0.45"/><circle cx="173.4" cy="142.0" r="0.45"/><circle cx="171.4" cy="156.5" r="0.45"/><circle cx="171.6" cy="144.0" r="0.45"/><circle cx="168.4" cy="155.1" r="0.45"/><circle cx="173.4" cy="156.2" r="0.45"/><circle cx="173.8" cy="154.9" r="0.45"/><circle cx="174.2" cy="156.3" r="0.45"/><circle cx="179.5" cy="150.5" r="0.45"/><circle cx="173.3" cy="149.3" r="0.45"/><circle cx="175.3" cy="140.5" r="0.45"/><circle cx="172.4" cy="146.0" r="0.45"/><circle cx="172.7" cy="134.5" r="0.45"/><circle cx="174.8" cy="158.6" r="0.45"/><circle cx="175.5" cy="148.9" r="0.45"/><circle cx="176.6" cy="148.7" r="0.45"/><circle cx="179.3" cy="155.6" r="0.45"/><circle cx="173.9" cy="147.4" r="0.45"/><circle cx="172.7" cy="135.2" r="0.45"/><circle cx="177.3" cy="151.4" r="0.45"/><circle cx="177.5" cy="145.5" r="0.45"/><circle cx="172.4" cy="145.5" r="0.45"/><circle cx="175.3" cy="141.6" r="0.45"/><circle cx="169.1" cy="151.3" r="0.45"/><circle cx="174.2" cy="143.3" r="0.45"/><circle cx="178.8" cy="152.8" r="0.45"/><circle cx="172.7" cy="146.5" r="0.45"/><circle cx="173.8" cy="162.5" r="0.45"/><circle cx="181.1" cy="148.8" r="0.45"/><circle cx="175.0" cy="158.1" r="0.45"/><circle cx="170.9" cy="151.6" r="0.45"/><circle cx="172.1" cy="143.9" r="0.45"/><circle cx="175.4" cy="141.5" r="0.45"/><circle cx="169.5" cy="144.9" r="0.45"/><circle cx="174.4" cy="147.5" r="0.45"/><circle cx="172.8" cy="135.7" r="0.45"/><circle cx="168.6" cy="149.7" r="0.45"/><circle cx="180.8" cy="150.7" r="0.45"/><circle cx="175.6" cy="142.1" r="0.45"/><circle cx="177.0" cy="143.5" r="0.45"/><circle cx="174.7" cy="142.6" r="0.45"/><circle cx="175.4" cy="143.7" r="0.45"/><circle cx="172.3" cy="141.3" r="0.45"/><circle cx="175.2" cy="144.0" r="0.45"/><circle cx="172.5" cy="138.6" r="0.45"/><circle cx="169.0" cy="153.0" r="0.45"/><circle cx="175.1" cy="161.6" r="0.45"/><circle cx="176.2" cy="152.7" r="0.45"/><circle cx="175.3" cy="141.2" r="0.45"/><circle cx="174.2" cy="159.4" r="0.45"/><circle cx="172.5" cy="149.7" r="0.45"/><circle cx="171.8" cy="155.8" r="0.45"/><circle cx="175.9" cy="140.9" r="0.45"/><circle cx="167.8" cy="154.1" r="0.45"/><circle cx="168.3" cy="148.2" r="0.45"/><circle cx="178.7" cy="149.1" r="0.45"/><circle cx="173.7" cy="136.1" r="0.45"/><circle cx="170.4" cy="142.9" r="0.45"/><circle cx="176.9" cy="142.9" r="0.45"/><circle cx="179.1" cy="156.0" r="0.45"/><circle cx="171.0" cy="142.9" r="0.45"/><circle cx="176.2" cy="151.0" r="0.45"/><circle cx="165.8" cy="150.9" r="0.45"/><circle cx="166.9" cy="153.8" r="0.45"/><circle cx="180.7" cy="148.5" r="0.45"/><circle cx="168.8" cy="146.7" r="0.45"/><circle cx="166.3" cy="152.4" r="0.45"/><circle cx="176.6" cy="147.3" r="0.45"/><circle cx="168.6" cy="150.5" r="0.45"/><circle cx="172.2" cy="161.2" r="0.45"/><circle cx="179.5" cy="151.6" r="0.45"/><circle cx="174.6" cy="139.1" r="0.45"/><circle cx="175.4" cy="158.4" r="0.45"/><circle cx="173.3" cy="154.9" r="0.45"/><circle cx="179.7" cy="154.8" r="0.45"/><circle cx="176.8" cy="147.8" r="0.45"/><circle cx="176.3" cy="151.1" r="0.45"/><circle cx="179.2" cy="150.0" r="0.45"/><circle cx="176.6" cy="155.2" r="0.45"/><circle cx="168.7" cy="152.8" r="0.45"/><circle cx="168.4" cy="155.1" r="0.45"/><circle cx="172.7" cy="143.8" r="0.45"/><circle cx="175.1" cy="143.3" r="0.45"/><circle cx="169.6" cy="146.6" r="0.45"/><circle cx="176.1" cy="151.9" r="0.45"/><circle cx="174.8" cy="143.6" r="0.45"/><circle cx="176.2" cy="144.0" r="0.45"/><circle cx="180.4" cy="153.3" r="0.45"/><circle cx="170.5" cy="151.9" r="0.45"/><circle cx="171.5" cy="141.2" r="0.45"/><circle cx="175.2" cy="160.6" r="0.45"/><circle cx="171.4" cy="148.2" r="0.45"/><circle cx="174.6" cy="134.9" r="0.45"/><circle cx="174.1" cy="138.2" r="0.45"/></g>
<line x1="173.80" y1="129.60" x2="173.80" y2="164.30" stroke="#1a1a1a" stroke-width="0.95" />
<rect x="172.50" y="143.69" width="2.60" height="9.00" fill="none" stroke="#222" stroke-width="0.5" />
<path d="M196.10,118.40 C196.50,119.33 196.93,122.40 197.70,124.00 C198.47,125.60 199.70,126.33 200.70,128.00 C201.70,129.67 203.03,132.17 203.70,134.00 C204.37,135.83 204.70,137.33 204.70,139.00 C204.70,140.67 204.37,142.17 203.70,144.00 C203.03,145.83 201.53,148.17 200.70,150.00 C199.87,151.83 199.28,153.67 198.70,155.00 C198.12,156.33 197.63,157.12 197.20,158.00 C196.77,158.88 196.42,159.92 196.10,160.30 C195.78,160.68 195.62,160.68 195.30,160.30 C194.98,159.92 194.63,158.88 194.20,158.00 C193.77,157.12 193.28,156.33 192.70,155.00 C192.12,153.67 191.53,151.83 190.70,150.00 C189.87,148.17 188.37,145.83 187.70,144.00 C187.03,142.17 186.70,140.67 186.70,139.00 C186.70,137.33 187.03,135.83 187.70,134.00 C188.37,132.17 189.70,129.67 190.70,128.00 C191.70,126.33 192.93,125.60 193.70,124.00 C194.47,122.40 194.90,119.33 195.30,118.40 C195.70,117.47 195.70,117.47 196.10,118.40 Z" fill="#7474f6" stroke="#333" stroke-width="0.6" />
<g fill="#111"><circle cx="202.3" cy="139.2" r="0.45"/><circle cx="194.6" cy="150.6" r="0.45"/><circle cx="202.3" cy="137.8" r="0.45"/><circle cx="199.8" cy="131.9" r="0.45"/><circle cx="191.9" cy="142.2" r="0.45"/><circle cx="194.5" cy="142.8" r="0.45"/><circle cx="199.8" cy="129.2" r="0.45"/><circle cx="188.7" cy="134.4" r="0.45"/><circle cx="199.2" cy="150.0" r="0.45"/><circle cx="196.5" cy="129.1" r="0.45"/><circle cx="200.8" cy="139.9" r="0.45"/><circle cx="196.1" cy="158.5" r="0.45"/><circle cx="191.4" cy="149.0" r="0.45"/><circle cx="196.6" cy="138.4" r="0.45"/><circle cx="199.5" cy="144.0" r="0.45"/><circle cx="202.8" cy="137.0" r="0.45"/><circle cx="198.4" cy="143.5" r="0.45"/><circle cx="195.5" cy="153.7" r="0.45"/><circle cx="199.5" cy="144.1" r="0.45"/><circle cx="198.9" cy="148.5" r="0.45"/><circle cx="200.9" cy="138.9" r="0.45"/><circle cx="199.9" cy="143.2" r="0.45"/><circle cx="201.8" cy="143.5" r="0.45"/><circle cx="198.4" cy="153.3" r="0.45"/><circle cx="197.0" cy="132.9" r="0.45"/><circle cx="190.6" cy="141.0" r="0.45"/><circle cx="198.7" cy="144.2" r="0.45"/><circle cx="194.0" cy="147.3" r="0.45"/><circle cx="196.0" cy="134.5" r="0.45"/><circle cx="189.7" cy="139.0" r="0.45"/><circle cx="194.5" cy="150.3" r="0.45"/><circle cx="198.1" cy="151.7" r="0.45"/><circle cx="192.3" cy="149.7" r="0.45"/><circle cx="196.0" cy="136.0" r="0.45"/><circle cx="187.7" cy="137.9" r="0.45"/><circle cx="200.0" cy="147.7" r="0.45"/><circle cx="192.6" cy="131.5" r="0.45"/><circle cx="200.0" cy="143.3" r="0.45"/><circle cx="196.8" cy="124.2" r="0.45"/><circle cx="198.4" cy="151.4" r="0.45"/><circle cx="190.7" cy="148.6" r="0.45"/><circle cx="190.8" cy="140.9" r="0.45"/><circle cx="188.8" cy="143.8" r="0.45"/><circle cx="196.5" cy="145.5" r="0.45"/><circle cx="200.5" cy="148.7" r="0.45"/><circle cx="202.2" cy="135.6" r="0.45"/><circle cx="194.9" cy="152.8" r="0.45"/><circle cx="190.9" cy="146.8" r="0.45"/><circle cx="196.4" cy="148.6" r="0.45"/><circle cx="198.0" cy="140.7" r="0.45"/><circle cx="195.0" cy="154.4" r="0.45"/><circle cx="194.8" cy="139.0" r="0.45"/><circle cx="198.9" cy="154.0" r="0.45"/><circle cx="191.9" cy="142.8" r="0.45"/><circle cx="193.5" cy="144.7" r="0.45"/><circle cx="196.9" cy="157.2" r="0.45"/><circle cx="189.7" cy="131.9" r="0.45"/><circle cx="197.7" cy="145.3" r="0.45"/><circle cx="201.0" cy="129.5" r="0.45"/><circle cx="198.9" cy="146.8" r="0.45"/><circle cx="202.4" cy="144.0" r="0.45"/><circle cx="197.3" cy="139.2" r="0.45"/><circle cx="199.8" cy="136.0" r="0.45"/><circle cx="193.0" cy="148.2" r="0.45"/><circle cx="191.0" cy="146.9" r="0.45"/><circle cx="191.4" cy="137.3" r="0.45"/><circle cx="190.1" cy="142.9" r="0.45"/><circle cx="199.2" cy="141.8" r="0.45"/><circle cx="190.7" cy="141.2" r="0.45"/><circle cx="192.2" cy="146.7" r="0.45"/><circle cx="196.9" cy="157.7" r="0.45"/><circle cx="190.0" cy="135.6" r="0.45"/><circle cx="203.0" cy="138.8" r="0.45"/><circle cx="201.0" cy="143.6" r="0.45"/><circle cx="193.1" cy="136.0" r="0.45"/><circle cx="200.8" cy="135.7" r="0.45"/><circle cx="191.4" cy="130.7" r="0.45"/><circle cx="191.5" cy="144.0" r="0.45"/><circle cx="196.0" cy="154.8" r="0.45"/><circle cx="191.3" cy="147.0" r="0.45"/><circle cx="194.6" cy="146.9" r="0.45"/><circle cx="190.0" cy="137.6" r="0.45"/><circle cx="192.9" cy="140.2" r="0.45"/><circle cx="194.8" cy="158.2" r="0.45"/><circle cx="202.0" cy="135.0" r="0.45"/><circle cx="189.7" cy="142.8" r="0.45"/><circle cx="201.3" cy="145.2" r="0.45"/><circle cx="198.4" cy="142.0" r="0.45"/><circle cx="192.6" cy="144.7" r="0.45"/><circle cx="193.7" cy="151.6" r="0.45"/><circle cx="202.8" cy="144.7" r="0.45"/><circle cx="200.5" cy="150.0" r="0.45"/><circle cx="192.8" cy="145.7" r="0.45"/><circle cx="202.2" cy="140.6" r="0.45"/><circle cx="194.5" cy="155.0" r="0.45"/><circle cx="201.6" cy="147.1" r="0.45"/><circle cx="195.2" cy="157.5" r="0.45"/><circle cx="190.2" cy="143.9" r="0.45"/><circle cx="195.8" cy="158.2" r="0.45"/><circle cx="190.8" cy="142.5" r="0.45"/><circle cx="194.1" cy="125.4" r="0.45"/><circle cx="196.4" cy="149.7" r="0.45"/><circle cx="199.4" cy="145.8" r="0.45"/><circle cx="198.4" cy="146.4" r="0.45"/><circle cx="189.3" cy="143.5" r="0.45"/><circle cx="197.2" cy="145.6" r="0.45"/><circle cx="191.0" cy="135.6" r="0.45"/><circle cx="197.5" cy="142.5" r="0.45"/><circle cx="197.1" cy="138.3" r="0.45"/><circle cx="193.1" cy="127.6" r="0.45"/><circle cx="195.2" cy="154.8" r="0.45"/><circle cx="198.3" cy="147.8" r="0.45"/><circle cx="195.0" cy="156.7" r="0.45"/><circle cx="199.7" cy="147.6" r="0.45"/><circle cx="190.5" cy="148.8" r="0.45"/><circle cx="202.1" cy="135.0" r="0.45"/></g>
<line x1="195.70" y1="118.40" x2="195.70" y2="160.30" stroke="#1a1a1a" stroke-width="0.95" />
<rect x="194.40" y="136.45" width="2.60" height="9.00" fill="none" stroke="#222" stroke-width="0.5" />
<path d="M218.00,100.00 C218.23,101.67 218.17,107.17 218.60,110.00 C219.03,112.83 219.77,114.67 220.60,117.00 C221.43,119.33 222.68,121.83 223.60,124.00 C224.52,126.17 225.60,128.00 226.10,130.00 C226.60,132.00 226.68,134.00 226.60,136.00 C226.52,138.00 226.10,140.00 225.60,142.00 C225.10,144.00 224.27,145.83 223.60,148.00 C222.93,150.17 222.27,153.00 221.60,155.00 C220.93,157.00 220.10,158.50 219.60,160.00 C219.10,161.50 218.87,162.93 218.60,164.00 C218.33,165.07 218.23,166.00 218.00,166.40 C217.77,166.80 217.43,166.80 217.20,166.40 C216.97,166.00 216.87,165.07 216.60,164.00 C216.33,162.93 216.10,161.50 215.60,160.00 C215.10,158.50 214.27,157.00 213.60,155.00 C212.93,153.00 212.27,150.17 211.60,148.00 C210.93,145.83 210.10,144.00 209.60,142.00 C209.10,140.00 208.68,138.00 208.60,136.00 C208.52,134.00 208.60,132.00 209.10,130.00 C209.60,128.00 210.68,126.17 211.60,124.00 C212.52,121.83 213.77,119.33 214.60,117.00 C215.43,114.67 216.17,112.83 216.60,110.00 C217.03,107.17 216.97,101.67 217.20,100.00 C217.43,98.33 217.77,98.33 218.00,100.00 Z" fill="#f07373" stroke="#333" stroke-width="0.6" />
<g fill="#111"><circle cx="217.2" cy="109.6" r="0.45"/><circle cx="212.6" cy="140.1" r="0.45"/><circle cx="212.6" cy="142.4" r="0.45"/><circle cx="216.0" cy="125.1" r="0.45"/><circle cx="217.9" cy="135.1" r="0.45"/><circle cx="216.7" cy="135.5" r="0.45"/><circle cx="221.0" cy="129.5" r="0.45"/><circle cx="223.0" cy="135.5" r="0.45"/><circle cx="220.5" cy="144.0" r="0.45"/><circle cx="215.9" cy="127.5" r="0.45"/><circle cx="223.9" cy="136.2" r="0.45"/><circle cx="225.0" cy="131.5" r="0.45"/><circle cx="217.9" cy="120.3" r="0.45"/><circle cx="218.2" cy="136.7" r="0.45"/><circle cx="213.3" cy="140.7" r="0.45"/><circle cx="213.5" cy="138.7" r="0.45"/><circle cx="222.4" cy="141.8" r="0.45"/><circle cx="220.6" cy="142.1" r="0.45"/><circle cx="212.5" cy="137.3" r="0.45"/><circle cx="218.2" cy="154.1" r="0.45"/><circle cx="218.0" cy="138.2" r="0.45"/><circle cx="223.8" cy="134.4" r="0.45"/><circle cx="221.1" cy="130.3" r="0.45"/><circle cx="217.5" cy="142.7" r="0.45"/><circle cx="217.6" cy="138.1" r="0.45"/><circle cx="216.0" cy="134.9" r="0.45"/><circle cx="212.3" cy="142.9" r="0.45"/><circle cx="216.1" cy="114.1" r="0.45"/><circle cx="218.3" cy="121.8" r="0.45"/><circle cx="223.2" cy="136.0" r="0.45"/><circle cx="224.1" cy="128.2" r="0.45"/><circle cx="221.9" cy="125.6" r="0.45"/><circle cx="217.9" cy="145.1" r="0.45"/><circle cx="218.3" cy="111.1" r="0.45"/><circle cx="216.4" cy="155.5" r="0.45"/><circle cx="216.5" cy="136.9" r="0.45"/><circle cx="223.0" cy="148.2" r="0.45"/><circle cx="221.6" cy="146.0" r="0.45"/><circle cx="218.2" cy="108.6" r="0.45"/><circle cx="222.0" cy="151.3" r="0.45"/><circle cx="224.3" cy="141.5" r="0.45"/><circle cx="219.9" cy="136.3" r="0.45"/><circle cx="216.2" cy="150.1" r="0.45"/><circle cx="216.5" cy="131.3" r="0.45"/><circle cx="217.7" cy="135.2" r="0.45"/><circle cx="224.3" cy="143.4" r="0.45"/><circle cx="222.2" cy="137.1" r="0.45"/><circle cx="220.2" cy="153.6" r="0.45"/><circle cx="223.5" cy="128.9" r="0.45"/><circle cx="219.9" cy="138.8" r="0.45"/><circle cx="213.7" cy="133.9" r="0.45"/><circle cx="218.3" cy="131.6" r="0.45"/><circle cx="223.3" cy="126.6" r="0.45"/><circle cx="217.9" cy="128.9" r="0.45"/><circle cx="216.6" cy="129.2" r="0.45"/><circle cx="215.2" cy="146.6" r="0.45"/><circle cx="220.0" cy="132.9" r="0.45"/><circle cx="222.5" cy="149.2" r="0.45"/><circle cx="217.8" cy="148.4" r="0.45"/><circle cx="218.2" cy="134.5" r="0.45"/><circle cx="214.2" cy="151.0" r="0.45"/><circle cx="214.4" cy="141.2" r="0.45"/><circle cx="216.2" cy="141.1" r="0.45"/><circle cx="210.7" cy="133.8" r="0.45"/><circle cx="218.2" cy="145.8" r="0.45"/><circle cx="218.5" cy="145.9" r="0.45"/><circle cx="218.9" cy="120.8" r="0.45"/><circle cx="217.0" cy="142.5" r="0.45"/><circle cx="217.9" cy="156.1" r="0.45"/><circle cx="215.3" cy="124.9" r="0.45"/><circle cx="214.2" cy="126.5" r="0.45"/><circle cx="215.7" cy="139.0" r="0.45"/><circle cx="218.4" cy="151.9" r="0.45"/><circle cx="221.6" cy="148.6" r="0.45"/><circle cx="213.2" cy="137.1" r="0.45"/><circle cx="215.5" cy="121.7" r="0.45"/><circle cx="225.5" cy="130.8" r="0.45"/><circle cx="212.2" cy="129.8" r="0.45"/><circle cx="215.3" cy="158.1" r="0.45"/><circle cx="212.1" cy="146.1" r="0.45"/><circle cx="216.2" cy="125.9" r="0.45"/><circle cx="215.6" cy="116.1" r="0.45"/><circle cx="213.8" cy="144.2" r="0.45"/><circle cx="215.6" cy="157.2" r="0.45"/><circle cx="214.9" cy="130.7" r="0.45"/><circle cx="218.9" cy="124.2" r="0.45"/><circle cx="220.8" cy="152.1" r="0.45"/><circle cx="221.1" cy="143.1" r="0.45"/><circle cx="219.9" cy="121.7" r="0.45"/><circle cx="222.4" cy="137.1" r="0.45"/><circle cx="219.5" cy="121.1" r="0.45"/><circle cx="223.2" cy="142.2" r="0.45"/><circle cx="209.4" cy="132.7" r="0.45"/><circle cx="217.6" cy="137.9" r="0.45"/><circle cx="220.9" cy="118.7" r="0.45"/><circle cx="220.8" cy="123.8" r="0.45"/><circle cx="223.6" cy="130.2" r="0.45"/><circle cx="217.0" cy="126.1" r="0.45"/><circle cx="217.0" cy="128.1" r="0.45"/><circle cx="215.8" cy="134.3" r="0.45"/><circle cx="218.3" cy="125.3" r="0.45"/><circle cx="221.7" cy="127.4" r="0.45"/><circle cx="222.5" cy="144.0" r="0.45"/><circle cx="214.6" cy="121.8" r="0.45"/><circle cx="214.3" cy="136.2" r="0.45"/><circle cx="218.6" cy="146.9" r="0.45"/><circle cx="213.3" cy="149.9" r="0.45"/><circle cx="221.8" cy="146.5" r="0.45"/><circle cx="223.1" cy="130.6" r="0.45"/><circle cx="216.6" cy="144.9" r="0.45"/><circle cx="224.5" cy="133.9" r="0.45"/><circle cx="218.6" cy="140.3" r="0.45"/><circle cx="217.6" cy="136.5" r="0.45"/><circle cx="217.9" cy="156.3" r="0.45"/><circle cx="223.8" cy="125.2" r="0.45"/><circle cx="219.1" cy="120.3" r="0.45"/><circle cx="215.7" cy="134.4" r="0.45"/><circle cx="215.8" cy="125.0" r="0.45"/><circle cx="222.2" cy="150.1" r="0.45"/></g>
<line x1="217.60" y1="100.00" x2="217.60" y2="166.40" stroke="#1a1a1a" stroke-width="0.95" />
<rect x="216.30" y="131.52" width="2.60" height="9.00" fill="none" stroke="#222" stroke-width="0.5" />
<path d="M240.00,138.80 C240.58,139.17 241.92,140.13 242.50,141.00 C243.08,141.87 243.42,143.17 243.50,144.00 C243.58,144.83 242.75,145.33 243.00,146.00 C243.25,146.67 244.58,147.17 245.00,148.00 C245.42,148.83 245.08,150.17 245.50,151.00 C245.92,151.83 247.00,152.25 247.50,153.00 C248.00,153.75 248.67,154.75 248.50,155.50 C248.33,156.25 247.95,156.88 246.50,157.50 C245.05,158.12 241.02,158.92 239.80,159.20 C238.58,159.48 240.42,159.48 239.20,159.20 C237.98,158.92 233.95,158.12 232.50,157.50 C231.05,156.88 230.67,156.25 230.50,155.50 C230.33,154.75 231.00,153.75 231.50,153.00 C232.00,152.25 233.08,151.83 233.50,151.00 C233.92,150.17 233.58,148.83 234.00,148.00 C234.42,147.17 235.75,146.67 236.00,146.00 C236.25,145.33 235.42,144.83 235.50,144.00 C235.58,143.17 235.92,141.87 236.50,141.00 C237.08,140.13 238.42,139.17 239.00,138.80 C239.58,138.43 239.42,138.43 240.00,138.80 Z" fill="#a8f0f2" stroke="#333" stroke-width="0.6" />
<g fill="#111"><circle cx="235.1" cy="149.8" r="0.45"/><circle cx="238.3" cy="147.5" r="0.45"/><circle cx="240.2" cy="147.7" r="0.45"/><circle cx="245.9" cy="155.1" r="0.45"/><circle cx="238.6" cy="156.6" r="0.45"/><circle cx="240.9" cy="151.0" r="0.45"/><circle cx="240.0" cy="155.7" r="0.45"/><circle cx="243.6" cy="151.9" r="0.45"/><circle cx="247.0" cy="153.7" r="0.45"/><circle cx="245.0" cy="155.1" r="0.45"/><circle cx="243.9" cy="150.0" r="0.45"/><circle cx="242.0" cy="151.8" r="0.45"/><circle cx="244.8" cy="157.3" r="0.45"/><circle cx="239.1" cy="140.8" r="0.45"/><circle cx="239.7" cy="153.9" r="0.45"/><circle cx="239.6" cy="154.8" r="0.45"/><circle cx="241.5" cy="153.0" r="0.45"/><circle cx="241.2" cy="154.4" r="0.45"/><circle cx="240.5" cy="144.2" r="0.45"/><circle cx="244.1" cy="156.1" r="0.45"/><circle cx="236.5" cy="153.1" r="0.45"/><circle cx="236.9" cy="151.9" r="0.45"/><circle cx="243.8" cy="151.7" r="0.45"/><circle cx="237.0" cy="146.8" r="0.45"/><circle cx="239.5" cy="148.9" r="0.45"/><circle cx="241.1" cy="149.0" r="0.45"/><circle cx="239.9" cy="150.9" r="0.45"/><circle cx="238.3" cy="157.3" r="0.45"/><circle cx="234.5" cy="151.9" r="0.45"/><circle cx="233.0" cy="155.8" r="0.45"/><circle cx="234.9" cy="157.7" r="0.45"/><circle cx="244.7" cy="154.4" r="0.45"/><circle cx="241.2" cy="156.4" r="0.45"/><circle cx="232.5" cy="152.5" r="0.45"/><circle cx="242.6" cy="150.6" r="0.45"/><circle cx="237.9" cy="149.1" r="0.45"/><circle cx="235.9" cy="157.8" r="0.45"/><circle cx="244.7" cy="151.8" r="0.45"/><circle cx="240.8" cy="153.9" r="0.45"/><circle cx="238.3" cy="149.4" r="0.45"/><circle cx="232.0" cy="155.6" r="0.45"/><circle cx="246.8" cy="156.2" r="0.45"/><circle cx="238.9" cy="148.6" r="0.45"/><circle cx="234.5" cy="149.7" r="0.45"/><circle cx="244.3" cy="149.9" r="0.45"/><circle cx="245.9" cy="154.2" r="0.45"/><circle cx="242.9" cy="149.2" r="0.45"/><circle cx="244.6" cy="150.2" r="0.45"/><circle cx="239.4" cy="157.2" r="0.45"/><circle cx="237.7" cy="154.9" r="0.45"/><circle cx="242.0" cy="151.1" r="0.45"/><circle cx="244.9" cy="152.6" r="0.45"/><circle cx="239.2" cy="155.5" r="0.45"/><circle cx="234.7" cy="152.8" r="0.45"/><circle cx="238.0" cy="149.1" r="0.45"/><circle cx="236.2" cy="156.2" r="0.45"/><circle cx="239.9" cy="150.1" r="0.45"/><circle cx="238.1" cy="151.2" r="0.45"/><circle cx="235.2" cy="150.8" r="0.45"/><circle cx="244.4" cy="152.9" r="0.45"/><circle cx="236.1" cy="150.2" r="0.45"/><circle cx="236.0" cy="154.5" r="0.45"/><circle cx="241.7" cy="152.1" r="0.45"/><circle cx="237.1" cy="153.1" r="0.45"/><circle cx="232.6" cy="155.6" r="0.45"/><circle cx="236.3" cy="157.3" r="0.45"/><circle cx="238.6" cy="153.1" r="0.45"/><circle cx="243.2" cy="150.2" r="0.45"/><circle cx="237.3" cy="152.8" r="0.45"/><circle cx="241.9" cy="149.7" r="0.45"/><circle cx="237.4" cy="144.6" r="0.45"/><circle cx="239.8" cy="159.2" r="0.45"/><circle cx="239.0" cy="149.1" r="0.45"/><circle cx="234.7" cy="151.9" r="0.45"/><circle cx="244.2" cy="151.1" r="0.45"/><circle cx="240.4" cy="148.9" r="0.45"/><circle cx="240.7" cy="149.9" r="0.45"/><circle cx="234.9" cy="154.3" r="0.45"/><circle cx="239.7" cy="153.5" r="0.45"/><circle cx="240.0" cy="150.5" r="0.45"/><circle cx="238.2" cy="151.1" r="0.45"/><circle cx="239.9" cy="159.0" r="0.45"/><circle cx="238.3" cy="148.8" r="0.45"/><circle cx="234.8" cy="150.5" r="0.45"/><circle cx="236.4" cy="155.5" r="0.45"/><circle cx="239.7" cy="159.1" r="0.45"/><circle cx="237.3" cy="156.1" r="0.45"/><circle cx="239.5" cy="155.3" r="0.45"/><circle cx="237.1" cy="151.6" r="0.45"/><circle cx="235.2" cy="153.4" r="0.45"/><circle cx="236.2" cy="156.5" r="0.45"/><circle cx="238.1" cy="156.6" r="0.45"/><circle cx="243.4" cy="157.9" r="0.45"/><circle cx="243.3" cy="148.2" r="0.45"/><circle cx="231.9" cy="154.2" r="0.45"/><circle cx="242.4" cy="154.4" r="0.45"/><circle cx="238.5" cy="150.0" r="0.45"/><circle cx="241.2" cy="148.7" r="0.45"/><circle cx="243.5" cy="151.0" r="0.45"/><circle cx="237.9" cy="149.1" r="0.45"/><circle cx="235.2" cy="150.2" r="0.45"/><circle cx="244.1" cy="150.1" r="0.45"/><circle cx="234.0" cy="151.4" r="0.45"/><circle cx="236.4" cy="145.6" r="0.45"/><circle cx="236.4" cy="153.4" r="0.45"/><circle cx="237.6" cy="154.3" r="0.45"/><circle cx="241.9" cy="155.4" r="0.45"/><circle cx="234.7" cy="152.9" r="0.45"/><circle cx="243.1" cy="154.8" r="0.45"/><circle cx="237.2" cy="147.5" r="0.45"/><circle cx="238.4" cy="146.3" r="0.45"/><circle cx="231.4" cy="154.5" r="0.45"/><circle cx="235.9" cy="155.6" r="0.45"/><circle cx="236.4" cy="145.9" r="0.45"/><circle cx="231.8" cy="155.4" r="0.45"/><circle cx="237.0" cy="147.6" r="0.45"/><circle cx="235.7" cy="157.5" r="0.45"/><circle cx="245.7" cy="156.6" r="0.45"/></g>
<line x1="239.50" y1="138.80" x2="239.50" y2="159.20" stroke="#1a1a1a" stroke-width="0.95" />
<rect x="238.20" y="145.02" width="2.60" height="9.00" fill="none" stroke="#222" stroke-width="0.5" />
<path d="M261.80,134.70 C262.37,135.08 263.47,136.12 264.40,137.00 C265.33,137.88 266.48,139.00 267.40,140.00 C268.32,141.00 269.40,142.00 269.90,143.00 C270.40,144.00 270.65,145.00 270.40,146.00 C270.15,147.00 269.23,148.00 268.40,149.00 C267.57,150.00 266.48,151.00 265.40,152.00 C264.32,153.00 262.65,154.50 261.90,155.00 C261.15,155.50 261.65,155.50 260.90,155.00 C260.15,154.50 258.48,153.00 257.40,152.00 C256.32,151.00 255.23,150.00 254.40,149.00 C253.57,148.00 252.65,147.00 252.40,146.00 C252.15,145.00 252.40,144.00 252.90,143.00 C253.40,142.00 254.48,141.00 255.40,140.00 C256.32,139.00 257.47,137.88 258.40,137.00 C259.33,136.12 260.43,135.08 261.00,134.70 C261.57,134.32 261.23,134.32 261.80,134.70 Z" fill="#7474f6" stroke="#333" stroke-width="0.6" />
<g fill="#111"><circle cx="264.3" cy="147.8" r="0.45"/><circle cx="259.6" cy="146.1" r="0.45"/><circle cx="258.1" cy="147.7" r="0.45"/><circle cx="256.6" cy="140.2" r="0.45"/><circle cx="264.8" cy="151.9" r="0.45"/><circle cx="264.6" cy="146.4" r="0.45"/><circle cx="263.4" cy="147.3" r="0.45"/><circle cx="260.8" cy="140.2" r="0.45"/><circle cx="261.1" cy="153.8" r="0.45"/><circle cx="261.5" cy="150.0" r="0.45"/><circle cx="264.5" cy="149.8" r="0.45"/><circle cx="254.1" cy="146.9" r="0.45"/><circle cx="257.3" cy="145.7" r="0.45"/><circle cx="262.0" cy="140.8" r="0.45"/><circle cx="261.6" cy="153.5" r="0.45"/><circle cx="257.4" cy="146.7" r="0.45"/><circle cx="260.6" cy="151.4" r="0.45"/><circle cx="257.6" cy="149.2" r="0.45"/><circle cx="264.7" cy="147.0" r="0.45"/><circle cx="263.4" cy="149.9" r="0.45"/><circle cx="261.6" cy="148.1" r="0.45"/><circle cx="260.9" cy="150.9" r="0.45"/><circle cx="259.6" cy="151.3" r="0.45"/><circle cx="267.8" cy="146.4" r="0.45"/><circle cx="259.9" cy="151.1" r="0.45"/><circle cx="263.8" cy="151.9" r="0.45"/><circle cx="256.9" cy="141.3" r="0.45"/><circle cx="264.2" cy="145.8" r="0.45"/><circle cx="265.8" cy="144.2" r="0.45"/><circle cx="267.0" cy="145.2" r="0.45"/><circle cx="259.9" cy="150.4" r="0.45"/><circle cx="258.1" cy="150.1" r="0.45"/><circle cx="258.5" cy="150.9" r="0.45"/><circle cx="264.1" cy="149.1" r="0.45"/><circle cx="258.4" cy="146.0" r="0.45"/><circle cx="261.0" cy="148.5" r="0.45"/><circle cx="254.2" cy="146.2" r="0.45"/><circle cx="255.6" cy="149.7" r="0.45"/><circle cx="260.6" cy="154.6" r="0.45"/><circle cx="264.7" cy="147.5" r="0.45"/><circle cx="259.3" cy="153.0" r="0.45"/><circle cx="261.2" cy="147.2" r="0.45"/><circle cx="262.1" cy="145.4" r="0.45"/><circle cx="254.8" cy="148.9" r="0.45"/><circle cx="262.1" cy="153.0" r="0.45"/><circle cx="268.7" cy="145.0" r="0.45"/><circle cx="257.1" cy="146.1" r="0.45"/><circle cx="255.3" cy="145.3" r="0.45"/><circle cx="261.9" cy="154.8" r="0.45"/><circle cx="258.7" cy="149.1" r="0.45"/><circle cx="265.3" cy="150.1" r="0.45"/><circle cx="263.5" cy="153.2" r="0.45"/><circle cx="264.3" cy="151.3" r="0.45"/><circle cx="262.1" cy="154.1" r="0.45"/><circle cx="266.7" cy="146.6" r="0.45"/><circle cx="259.4" cy="150.1" r="0.45"/><circle cx="259.2" cy="144.4" r="0.45"/><circle cx="264.2" cy="151.6" r="0.45"/><circle cx="262.4" cy="147.9" r="0.45"/><circle cx="263.1" cy="149.0" r="0.45"/><circle cx="265.6" cy="150.5" r="0.45"/><circle cx="268.0" cy="142.1" r="0.45"/><circle cx="255.9" cy="143.1" r="0.45"/><circle cx="258.5" cy="148.0" r="0.45"/><circle cx="264.5" cy="146.4" r="0.45"/><circle cx="256.1" cy="147.0" r="0.45"/><circle cx="258.4" cy="137.8" r="0.45"/><circle cx="257.6" cy="151.6" r="0.45"/><circle cx="265.2" cy="145.4" r="0.45"/><circle cx="254.7" cy="148.8" r="0.45"/><circle cx="263.5" cy="152.2" r="0.45"/><circle cx="260.4" cy="141.1" r="0.45"/><circle cx="261.6" cy="146.6" r="0.45"/><circle cx="261.1" cy="153.7" r="0.45"/><circle cx="264.2" cy="145.5" r="0.45"/><circle cx="264.2" cy="151.6" r="0.45"/><circle cx="259.0" cy="149.9" r="0.45"/><circle cx="260.5" cy="146.5" r="0.45"/><circle cx="256.3" cy="144.4" r="0.45"/><circle cx="254.5" cy="146.4" r="0.45"/><circle cx="269.4" cy="145.8" r="0.45"/><circle cx="264.6" cy="151.9" r="0.45"/><circle cx="266.3" cy="139.6" r="0.45"/><circle cx="254.7" cy="142.4" r="0.45"/><circle cx="264.2" cy="142.8" r="0.45"/><circle cx="262.6" cy="145.2" r="0.45"/><circle cx="269.1" cy="145.7" r="0.45"/><circle cx="258.5" cy="142.0" r="0.45"/><circle cx="259.2" cy="148.6" r="0.45"/><circle cx="257.1" cy="148.6" r="0.45"/><circle cx="264.2" cy="147.2" r="0.45"/><circle cx="264.1" cy="146.2" r="0.45"/><circle cx="259.6" cy="148.4" r="0.45"/><circle cx="261.9" cy="144.2" r="0.45"/><circle cx="262.5" cy="145.8" r="0.45"/><circle cx="256.0" cy="146.3" r="0.45"/><circle cx="266.5" cy="149.1" r="0.45"/><circle cx="267.6" cy="146.0" r="0.45"/><circle cx="257.6" cy="147.3" r="0.45"/><circle cx="259.5" cy="152.0" r="0.45"/><circle cx="261.3" cy="150.7" r="0.45"/><circle cx="262.6" cy="145.1" r="0.45"/><circle cx="255.2" cy="146.9" r="0.45"/><circle cx="255.0" cy="142.5" r="0.45"/><circle cx="260.0" cy="147.4" r="0.45"/><circle cx="264.3" cy="151.8" r="0.45"/><circle cx="262.0" cy="149.8" r="0.45"/><circle cx="255.0" cy="146.3" r="0.45"/><circle cx="267.9" cy="141.2" r="0.45"/><circle cx="266.4" cy="147.5" r="0.45"/><circle cx="259.6" cy="146.0" r="0.45"/><circle cx="261.8" cy="152.7" r="0.45"/><circle cx="265.4" cy="148.2" r="0.45"/><circle cx="253.9" cy="145.7" r="0.45"/><circle cx="254.4" cy="148.2" r="0.45"/><circle cx="262.2" cy="151.8" r="0.45"/><circle cx="264.3" cy="148.6" r="0.45"/><circle cx="260.7" cy="151.2" r="0.45"/></g>
<line x1="261.40" y1="134.70" x2="261.40" y2="155.00" stroke="#1a1a1a" stroke-width="0.95" />
<rect x="260.10" y="140.87" width="2.60" height="9.00" fill="none" stroke="#222" stroke-width="0.5" />
<path d="M283.70,127.60 C284.02,128.50 284.20,131.43 284.80,133.00 C285.40,134.57 286.38,135.67 287.30,137.00 C288.22,138.33 289.47,139.67 290.30,141.00 C291.13,142.33 292.13,143.67 292.30,145.00 C292.47,146.33 291.97,147.83 291.30,149.00 C290.63,150.17 289.30,150.83 288.30,152.00 C287.30,153.17 285.97,154.67 285.30,156.00 C284.63,157.33 284.57,158.43 284.30,160.00 C284.03,161.57 283.93,164.50 283.70,165.40 C283.47,166.30 283.13,166.30 282.90,165.40 C282.67,164.50 282.57,161.57 282.30,160.00 C282.03,158.43 281.97,157.33 281.30,156.00 C280.63,154.67 279.30,153.17 278.30,152.00 C277.30,150.83 275.97,150.17 275.30,149.00 C274.63,147.83 274.13,146.33 274.30,145.00 C274.47,143.67 275.47,142.33 276.30,141.00 C277.13,139.67 278.38,138.33 279.30,137.00 C280.22,135.67 281.20,134.57 281.80,133.00 C282.40,131.43 282.58,128.50 282.90,127.60 C283.22,126.70 283.38,126.70 283.70,127.60 Z" fill="#f07373" stroke="#333" stroke-width="0.6" />
<g fill="#111"><circle cx="284.4" cy="157.6" r="0.45"/><circle cx="284.2" cy="142.7" r="0.45"/><circle cx="282.9" cy="162.8" r="0.45"/><circle cx="286.8" cy="141.9" r="0.45"/><circle cx="286.0" cy="142.5" r="0.45"/><circle cx="283.9" cy="160.3" r="0.45"/><circle cx="284.6" cy="154.7" r="0.45"/><circle cx="285.9" cy="154.6" r="0.45"/><circle cx="284.9" cy="149.1" r="0.45"/><circle cx="276.9" cy="147.3" r="0.45"/><circle cx="280.6" cy="136.5" r="0.45"/><circle cx="290.5" cy="145.4" r="0.45"/><circle cx="278.3" cy="146.9" r="0.45"/><circle cx="282.4" cy="144.3" r="0.45"/><circle cx="281.1" cy="154.7" r="0.45"/><circle cx="276.9" cy="141.0" r="0.45"/><circle cx="282.7" cy="159.9" r="0.45"/><circle cx="283.4" cy="158.2" r="0.45"/><circle cx="281.4" cy="146.6" r="0.45"/><circle cx="282.7" cy="160.7" r="0.45"/><circle cx="284.0" cy="156.2" r="0.45"/><circle cx="287.9" cy="142.9" r="0.45"/><circle cx="281.4" cy="150.7" r="0.45"/><circle cx="278.1" cy="149.1" r="0.45"/><circle cx="284.6" cy="134.1" r="0.45"/><circle cx="276.5" cy="149.3" r="0.45"/><circle cx="284.2" cy="155.3" r="0.45"/><circle cx="283.1" cy="162.2" r="0.45"/><circle cx="289.2" cy="145.1" r="0.45"/><circle cx="281.9" cy="150.2" r="0.45"/><circle cx="281.8" cy="156.8" r="0.45"/><circle cx="280.9" cy="142.1" r="0.45"/><circle cx="284.0" cy="152.9" r="0.45"/><circle cx="282.9" cy="165.2" r="0.45"/><circle cx="283.0" cy="153.0" r="0.45"/><circle cx="283.6" cy="155.8" r="0.45"/><circle cx="275.3" cy="144.1" r="0.45"/><circle cx="283.8" cy="154.1" r="0.45"/><circle cx="282.7" cy="148.7" r="0.45"/><circle cx="289.0" cy="150.8" r="0.45"/><circle cx="284.5" cy="153.6" r="0.45"/><circle cx="280.6" cy="150.7" r="0.45"/><circle cx="279.6" cy="148.2" r="0.45"/><circle cx="283.5" cy="158.3" r="0.45"/><circle cx="284.3" cy="130.8" r="0.45"/><circle cx="275.6" cy="146.2" r="0.45"/><circle cx="286.4" cy="137.5" r="0.45"/><circle cx="287.9" cy="144.7" r="0.45"/><circle cx="281.3" cy="142.3" r="0.45"/><circle cx="280.3" cy="141.5" r="0.45"/><circle cx="286.3" cy="153.8" r="0.45"/><circle cx="284.2" cy="134.8" r="0.45"/><circle cx="287.4" cy="145.2" r="0.45"/><circle cx="283.3" cy="161.6" r="0.45"/><circle cx="284.2" cy="144.9" r="0.45"/><circle cx="281.8" cy="144.2" r="0.45"/><circle cx="282.6" cy="155.9" r="0.45"/><circle cx="287.9" cy="152.0" r="0.45"/><circle cx="279.6" cy="142.3" r="0.45"/><circle cx="279.9" cy="150.3" r="0.45"/><circle cx="275.4" cy="147.1" r="0.45"/><circle cx="286.4" cy="152.8" r="0.45"/><circle cx="284.3" cy="141.6" r="0.45"/><circle cx="281.4" cy="151.9" r="0.45"/><circle cx="281.0" cy="150.9" r="0.45"/><circle cx="281.5" cy="151.9" r="0.45"/><circle cx="290.1" cy="148.1" r="0.45"/><circle cx="281.4" cy="140.0" r="0.45"/><circle cx="282.2" cy="158.3" r="0.45"/><circle cx="277.9" cy="144.7" r="0.45"/><circle cx="283.1" cy="129.9" r="0.45"/><circle cx="286.0" cy="138.7" r="0.45"/><circle cx="280.6" cy="135.8" r="0.45"/><circle cx="283.2" cy="156.1" r="0.45"/><circle cx="281.8" cy="154.4" r="0.45"/><circle cx="275.3" cy="145.9" r="0.45"/><circle cx="285.1" cy="152.6" r="0.45"/><circle cx="281.7" cy="154.6" r="0.45"/><circle cx="285.0" cy="145.4" r="0.45"/><circle cx="286.5" cy="152.5" r="0.45"/><circle cx="287.1" cy="146.5" r="0.45"/><circle cx="291.1" cy="145.5" r="0.45"/><circle cx="288.3" cy="147.0" r="0.45"/><circle cx="289.2" cy="147.7" r="0.45"/><circle cx="278.3" cy="147.3" r="0.45"/><circle cx="283.6" cy="152.9" r="0.45"/><circle cx="284.7" cy="157.2" r="0.45"/><circle cx="279.2" cy="141.9" r="0.45"/><circle cx="285.7" cy="143.7" r="0.45"/><circle cx="283.1" cy="160.6" r="0.45"/><circle cx="276.1" cy="146.5" r="0.45"/><circle cx="282.0" cy="143.3" r="0.45"/><circle cx="283.0" cy="159.7" r="0.45"/><circle cx="283.3" cy="152.5" r="0.45"/><circle cx="282.7" cy="144.7" r="0.45"/><circle cx="275.2" cy="146.1" r="0.45"/><circle cx="284.6" cy="158.2" r="0.45"/><circle cx="275.7" cy="145.1" r="0.45"/><circle cx="281.2" cy="140.3" r="0.45"/><circle cx="277.7" cy="141.5" r="0.45"/><circle cx="285.9" cy="151.8" r="0.45"/><circle cx="280.0" cy="153.0" r="0.45"/><circle cx="283.6" cy="152.6" r="0.45"/><circle cx="284.6" cy="142.2" r="0.45"/><circle cx="284.4" cy="139.1" r="0.45"/><circle cx="280.5" cy="145.8" r="0.45"/><circle cx="286.4" cy="149.2" r="0.45"/><circle cx="287.5" cy="143.7" r="0.45"/><circle cx="286.6" cy="150.6" r="0.45"/><circle cx="290.6" cy="143.1" r="0.45"/><circle cx="283.7" cy="143.7" r="0.45"/><circle cx="288.1" cy="151.3" r="0.45"/><circle cx="283.0" cy="150.2" r="0.45"/><circle cx="285.3" cy="150.3" r="0.45"/><circle cx="289.3" cy="150.6" r="0.45"/><circle cx="279.3" cy="142.4" r="0.45"/><circle cx="276.7" cy="149.6" r="0.45"/><circle cx="277.3" cy="146.2" r="0.45"/><circle cx="283.5" cy="157.8" r="0.45"/><circle cx="280.6" cy="152.8" r="0.45"/></g>
<line x1="283.30" y1="127.60" x2="283.30" y2="165.40" stroke="#1a1a1a" stroke-width="0.95" />
<rect x="282.00" y="143.39" width="2.60" height="9.00" fill="none" stroke="#222" stroke-width="0.5" />
<path d="M42.40,76.80 L42.40,74.40 L86.20,74.40 L86.20,76.80" fill="none" stroke="#333" stroke-width="1" />
<path d="M42.40,95.20 L42.40,92.80 L64.30,92.80 L64.30,95.20" fill="none" stroke="#333" stroke-width="1" />
<path d="M58.10,68.35L58.10,73.25M55.98,69.58L60.22,72.02M55.98,72.02L60.22,69.58M64.30,68.35L64.30,73.25M62.18,69.58L66.42,72.02M62.18,72.02L66.42,69.58M70.50,68.35L70.50,73.25M68.38,69.58L72.62,72.02M68.38,72.02L72.62,69.58" stroke="#111" stroke-width="1.05" fill="none"/><circle cx="58.10" cy="70.80" r="1.15" fill="#111"/><circle cx="64.30" cy="70.80" r="1.15" fill="#111"/><circle cx="70.50" cy="70.80" r="1.15" fill="#111"/>
<path d="M47.15,86.75L47.15,91.65M45.03,87.98L49.27,90.42M45.03,90.42L49.27,87.98M53.35,86.75L53.35,91.65M51.23,87.98L55.47,90.42M51.23,90.42L55.47,87.98M59.55,86.75L59.55,91.65M57.43,87.98L61.67,90.42M57.43,90.42L61.67,87.98" stroke="#111" stroke-width="1.05" fill="none"/><circle cx="47.15" cy="89.20" r="1.15" fill="#111"/><circle cx="53.35" cy="89.20" r="1.15" fill="#111"/><circle cx="59.55" cy="89.20" r="1.15" fill="#111"/>
<path d="M64.30,86.00 L64.30,83.60 L86.20,83.60 L86.20,86.00" fill="none" stroke="#777" stroke-width="1" />
<path d="M75.25,77.55L75.25,82.45M73.13,78.78L77.37,81.22M73.13,81.22L77.37,78.78" stroke="#111" stroke-width="1.05" fill="none"/><circle cx="75.25" cy="80.00" r="1.15" fill="#111"/>
<path d="M108.10,76.80 L108.10,74.40 L151.90,74.40 L151.90,76.80" fill="none" stroke="#333" stroke-width="1" />
<path d="M108.10,95.20 L108.10,92.80 L130.00,92.80 L130.00,95.20" fill="none" stroke="#333" stroke-width="1" />
<path d="M123.80,68.35L123.80,73.25M121.68,69.58L125.92,72.02M121.68,72.02L125.92,69.58M130.00,68.35L130.00,73.25M127.88,69.58L132.12,72.02M127.88,72.02L132.12,69.58M136.20,68.35L136.20,73.25M134.08,69.58L138.32,72.02M134.08,72.02L138.32,69.58" stroke="#111" stroke-width="1.05" fill="none"/><circle cx="123.80" cy="70.80" r="1.15" fill="#111"/><circle cx="130.00" cy="70.80" r="1.15" fill="#111"/><circle cx="136.20" cy="70.80" r="1.15" fill="#111"/>
<path d="M112.85,86.75L112.85,91.65M110.73,87.98L114.97,90.42M110.73,90.42L114.97,87.98M119.05,86.75L119.05,91.65M116.93,87.98L121.17,90.42M116.93,90.42L121.17,87.98M125.25,86.75L125.25,91.65M123.13,87.98L127.37,90.42M123.13,90.42L127.37,87.98" stroke="#111" stroke-width="1.05" fill="none"/><circle cx="112.85" cy="89.20" r="1.15" fill="#111"/><circle cx="119.05" cy="89.20" r="1.15" fill="#111"/><circle cx="125.25" cy="89.20" r="1.15" fill="#111"/>
<path d="M173.80,76.80 L173.80,74.40 L217.60,74.40 L217.60,76.80" fill="none" stroke="#333" stroke-width="1" />
<path d="M173.80,95.20 L173.80,92.80 L195.70,92.80 L195.70,95.20" fill="none" stroke="#333" stroke-width="1" />
<path d="M189.50,68.35L189.50,73.25M187.38,69.58L191.62,72.02M187.38,72.02L191.62,69.58M195.70,68.35L195.70,73.25M193.58,69.58L197.82,72.02M193.58,72.02L197.82,69.58M201.90,68.35L201.90,73.25M199.78,69.58L204.02,72.02M199.78,72.02L204.02,69.58" stroke="#111" stroke-width="1.05" fill="none"/><circle cx="189.50" cy="70.80" r="1.15" fill="#111"/><circle cx="195.70" cy="70.80" r="1.15" fill="#111"/><circle cx="201.90" cy="70.80" r="1.15" fill="#111"/>
<path d="M178.55,86.75L178.55,91.65M176.43,87.98L180.67,90.42M176.43,90.42L180.67,87.98M184.75,86.75L184.75,91.65M182.63,87.98L186.87,90.42M182.63,90.42L186.87,87.98M190.95,86.75L190.95,91.65M188.83,87.98L193.07,90.42M188.83,90.42L193.07,87.98" stroke="#111" stroke-width="1.05" fill="none"/><circle cx="178.55" cy="89.20" r="1.15" fill="#111"/><circle cx="184.75" cy="89.20" r="1.15" fill="#111"/><circle cx="190.95" cy="89.20" r="1.15" fill="#111"/>
<path d="M195.70,86.00 L195.70,83.60 L217.60,83.60 L217.60,86.00" fill="none" stroke="#777" stroke-width="1" />
<path d="M206.65,77.55L206.65,82.45M204.53,78.78L208.77,81.22M204.53,81.22L208.77,78.78" stroke="#111" stroke-width="1.05" fill="none"/><circle cx="206.65" cy="80.00" r="1.15" fill="#111"/>
<path d="M239.50,76.80 L239.50,74.40 L283.30,74.40 L283.30,76.80" fill="none" stroke="#333" stroke-width="1" />
<path d="M239.50,95.20 L239.50,92.80 L261.40,92.80 L261.40,95.20" fill="none" stroke="#333" stroke-width="1" />
<path d="M258.30,68.35L258.30,73.25M256.18,69.58L260.42,72.02M256.18,72.02L260.42,69.58M264.50,68.35L264.50,73.25M262.38,69.58L266.62,72.02M262.38,72.02L266.62,69.58" stroke="#111" stroke-width="1.05" fill="none"/><circle cx="258.30" cy="70.80" r="1.15" fill="#111"/><circle cx="264.50" cy="70.80" r="1.15" fill="#111"/>
<path d="M247.35,86.75L247.35,91.65M245.23,87.98L249.47,90.42M245.23,90.42L249.47,87.98M253.55,86.75L253.55,91.65M251.43,87.98L255.67,90.42M251.43,90.42L255.67,87.98" stroke="#111" stroke-width="1.05" fill="none"/><circle cx="247.35" cy="89.20" r="1.15" fill="#111"/><circle cx="253.55" cy="89.20" r="1.15" fill="#111"/>
<text x="307.20" y="15.78" font-size="13.06" text-anchor="start" fill="#111" >B</text>
<text x="421.20" y="55.53" font-size="11.49" text-anchor="middle" fill="#111" >GSE118493</text>
<text x="356.00" y="71.93" font-size="11.49" text-anchor="start" fill="#111" >mRNA Expression</text>
<defs><linearGradient id="hm" x1="0" x2="1" y1="0" y2="0"><stop offset="0" stop-color="#0000ff"/><stop offset="0.5" stop-color="#ffffff"/><stop offset="1" stop-color="#ff1a1a"/></linearGradient></defs>
<rect x="442.70" y="63.40" width="38.80" height="8.70" fill="url(#hm)" stroke="#333" stroke-width="0.5" />
<text x="443.00" y="82.13" font-size="11.49" text-anchor="middle" fill="#111" >11</text>
<text x="462.90" y="82.13" font-size="11.49" text-anchor="middle" fill="#111" >12</text>
<text x="480.60" y="82.13" font-size="11.49" text-anchor="middle" fill="#111" >13</text>
<circle cx="328.00" cy="90.70" r="2.6" fill="#3b78c6" stroke="none" stroke-width="0"/>
<text x="332.20" y="94.17" font-size="10.97" text-anchor="start" fill="#111" >N- (Primary ESCC)</text>
<circle cx="426.00" cy="90.70" r="2.6" fill="#e8332a" stroke="none" stroke-width="0"/>
<text x="429.60" y="94.28" font-size="11.34" text-anchor="start" fill="#111" >N+ ( LN metastasis )</text>
<rect x="332.10" y="98.00" width="87.00" height="3.00" fill="#3377c4" stroke="none" stroke-width="0" />
<rect x="419.10" y="98.00" width="87.00" height="3.00" fill="#d8200f" stroke="none" stroke-width="0" />
<rect x="332.10" y="101.00" width="29.60" height="10.50" fill="#f09999" stroke="none" stroke-width="0" />
<rect x="361.10" y="101.00" width="29.60" height="10.50" fill="#ff2010" stroke="none" stroke-width="0" />
<rect x="390.10" y="101.00" width="29.60" height="10.50" fill="#ff2010" stroke="none" stroke-width="0" />
<rect x="419.10" y="101.00" width="29.60" height="10.50" fill="#ff2010" stroke="none" stroke-width="0" />
<rect x="448.10" y="101.00" width="29.60" height="10.50" fill="#ff2010" stroke="none" stroke-width="0" />
<rect x="477.10" y="101.00" width="29.00" height="10.50" fill="#ff2010" stroke="none" stroke-width="0" />
<rect x="332.10" y="111.00" width="29.60" height="10.50" fill="#d6d6fb" stroke="none" stroke-width="0" />
<rect x="361.10" y="111.00" width="29.60" height="10.50" fill="#1212ff" stroke="none" stroke-width="0" />
<rect x="390.10" y="111.00" width="29.60" height="10.50" fill="#d2d2fb" stroke="none" stroke-width="0" />
<rect x="419.10" y="111.00" width="29.60" height="10.50" fill="#bdbdf8" stroke="none" stroke-width="0" />
<rect x="448.10" y="111.00" width="29.60" height="10.50" fill="#f6d4d8" stroke="none" stroke-width="0" />
<rect x="477.10" y="111.00" width="29.00" height="10.50" fill="#fff7f7" stroke="none" stroke-width="0" />
<rect x="332.10" y="121.00" width="29.60" height="10.50" fill="#0c0cff" stroke="none" stroke-width="0" />
<rect x="361.10" y="121.00" width="29.60" height="10.50" fill="#8e8ef6" stroke="none" stroke-width="0" />
<rect x="390.10" y="121.00" width="29.60" height="10.50" fill="#fcf2f2" stroke="none" stroke-width="0" />
<rect x="419.10" y="121.00" width="29.60" height="10.50" fill="#f4c6ca" stroke="none" stroke-width="0" />
<rect x="448.10" y="121.00" width="29.60" height="10.50" fill="#f0a2a8" stroke="none" stroke-width="0" />
<rect x="477.10" y="121.00" width="29.00" height="10.50" fill="#f0a2a8" stroke="none" stroke-width="0" />
<rect x="332.10" y="131.00" width="29.60" height="10.00" fill="#babaf8" stroke="none" stroke-width="0" />
<rect x="361.10" y="131.00" width="29.60" height="10.00" fill="#a9a9f6" stroke="none" stroke-width="0" />
<rect x="390.10" y="131.00" width="29.60" height="10.00" fill="#b7b7f7" stroke="none" stroke-width="0" />
<rect x="419.10" y="131.00" width="29.60" height="10.00" fill="#e6e6fd" stroke="none" stroke-width="0" />
<rect x="448.10" y="131.00" width="29.60" height="10.00" fill="#aaaaf6" stroke="none" stroke-width="0" />
<rect x="477.10" y="131.00" width="29.00" height="10.00" fill="#dcdcfc" stroke="none" stroke-width="0" />
<text x="507.00" y="109.63" font-size="11.49" text-anchor="start" fill="#111" >IFIT1</text>
<text x="507.00" y="119.63" font-size="11.49" text-anchor="start" fill="#111" >IFIT2</text>
<text x="507.00" y="129.63" font-size="11.49" text-anchor="start" fill="#111" >IFIT3</text>
<text x="507.00" y="139.63" font-size="11.49" text-anchor="start" fill="#111" >IFIT5</text>
<path d="M325.80,124.25L325.80,129.15M323.68,125.48L327.92,127.92M323.68,127.92L327.92,125.48" stroke="#111" stroke-width="1.05" fill="none"/><circle cx="325.80" cy="126.70" r="1.15" fill="#111"/>
<text transform="translate(357.60,148.30) rotate(-45)" font-size="11" text-anchor="end" fill="#111">GSM3330961</text>
<text transform="translate(386.60,148.30) rotate(-45)" font-size="11" text-anchor="end" fill="#111">GSM3330962</text>
<text transform="translate(415.60,148.30) rotate(-45)" font-size="11" text-anchor="end" fill="#111">GSM3330964</text>
<text transform="translate(444.60,148.30) rotate(-45)" font-size="11" text-anchor="end" fill="#111">GSM3330960</text>
<text transform="translate(473.60,148.30) rotate(-45)" font-size="11" text-anchor="end" fill="#111">GSM3330963</text>
<text transform="translate(502.60,148.30) rotate(-45)" font-size="11" text-anchor="end" fill="#111">GSM3330965</text>
<text x="523.70" y="16.23" font-size="13.06" text-anchor="start" fill="#111" >C</text>
<text x="628.20" y="9.13" font-size="11.49" text-anchor="middle" fill="#111" >GSE53625</text>
<path d="M622.70,13.85L622.70,18.75M620.58,15.08L624.82,17.53M620.58,17.53L624.82,15.08M628.90,13.85L628.90,18.75M626.78,15.08L631.02,17.53M626.78,17.53L631.02,15.08M635.10,13.85L635.10,18.75M632.98,15.08L637.22,17.53M632.98,17.53L637.22,15.08" stroke="#111" stroke-width="1.05" fill="none"/><circle cx="622.70" cy="16.30" r="1.15" fill="#111"/><circle cx="628.90" cy="16.30" r="1.15" fill="#111"/><circle cx="635.10" cy="16.30" r="1.15" fill="#111"/>
<line x1="604.00" y1="20.40" x2="654.00" y2="20.40" stroke="#222" stroke-width="1" />
<line x1="575.30" y1="22.30" x2="575.30" y2="150.50" stroke="#333" stroke-width="1" />
<line x1="571.30" y1="147.70" x2="579.60" y2="155.20" stroke="#333" stroke-width="1" />
<line x1="571.30" y1="160.50" x2="579.60" y2="167.40" stroke="#333" stroke-width="1" />
<line x1="575.30" y1="163.80" x2="575.30" y2="175.70" stroke="#333" stroke-width="1" />
<line x1="571.50" y1="22.30" x2="575.30" y2="22.30" stroke="#333" stroke-width="1" />
<line x1="571.50" y1="160.50" x2="575.30" y2="160.50" stroke="#333" stroke-width="1" />
<line x1="571.50" y1="175.70" x2="575.30" y2="175.70" stroke="#333" stroke-width="1" />
<text x="569.00" y="25.93" font-size="11.49" text-anchor="end" fill="#111" >15</text>
<text x="569.00" y="164.13" font-size="11.49" text-anchor="end" fill="#111" >6</text>
<text x="569.00" y="179.33" font-size="11.49" text-anchor="end" fill="#111" >0</text>
<line x1="575.30" y1="175.70" x2="683.00" y2="175.70" stroke="#333" stroke-width="1" />
<line x1="603.80" y1="175.70" x2="603.80" y2="179.50" stroke="#333" stroke-width="1" />
<line x1="653.50" y1="175.70" x2="653.50" y2="179.50" stroke="#333" stroke-width="1" />
<text x="603.80" y="191.73" font-size="11.49" text-anchor="middle" fill="#111" >Normal</text>
<text x="653.50" y="191.73" font-size="11.49" text-anchor="middle" fill="#111" >ESCC</text>
<text transform="translate(561.80,93.00) rotate(-90)" x="0" y="0" font-size="11.49" text-anchor="middle" fill="#111">IFIT3 mRNA expression</text>
<g stroke="#5a5a5a" stroke-width="0.42"><line x1="603.8" y1="77.80" x2="653.5" y2="64.61"/><line x1="603.8" y1="85.74" x2="653.5" y2="56.10"/><line x1="603.8" y1="94.08" x2="653.5" y2="117.30"/><line x1="603.8" y1="89.46" x2="653.5" y2="65.53"/><line x1="603.8" y1="89.41" x2="653.5" y2="83.53"/><line x1="603.8" y1="73.47" x2="653.5" y2="56.01"/><line x1="603.8" y1="100.68" x2="653.5" y2="94.02"/><line x1="603.8" y1="86.10" x2="653.5" y2="86.38"/><line x1="603.8" y1="106.28" x2="653.5" y2="49.18"/><line x1="603.8" y1="71.96" x2="653.5" y2="32.42"/><line x1="603.8" y1="71.14" x2="653.5" y2="40.12"/><line x1="603.8" y1="116.45" x2="653.5" y2="74.30"/><line x1="603.8" y1="73.01" x2="653.5" y2="43.94"/><line x1="603.8" y1="120.50" x2="653.5" y2="77.44"/><line x1="603.8" y1="71.12" x2="653.5" y2="60.30"/><line x1="603.8" y1="89.52" x2="653.5" y2="55.12"/><line x1="603.8" y1="92.69" x2="653.5" y2="52.30"/><line x1="603.8" y1="90.21" x2="653.5" y2="57.39"/><line x1="603.8" y1="90.15" x2="653.5" y2="97.68"/><line x1="603.8" y1="106.23" x2="653.5" y2="29.98"/><line x1="603.8" y1="87.27" x2="653.5" y2="42.92"/><line x1="603.8" y1="74.48" x2="653.5" y2="29.98"/><line x1="603.8" y1="83.17" x2="653.5" y2="74.29"/><line x1="603.8" y1="91.14" x2="653.5" y2="106.89"/><line x1="603.8" y1="94.22" x2="653.5" y2="57.38"/><line x1="603.8" y1="122.91" x2="653.5" y2="99.28"/><line x1="603.8" y1="79.15" x2="653.5" y2="34.46"/><line x1="603.8" y1="105.22" x2="653.5" y2="97.39"/><line x1="603.8" y1="119.37" x2="653.5" y2="118.39"/><line x1="603.8" y1="83.46" x2="653.5" y2="29.98"/><line x1="603.8" y1="108.50" x2="653.5" y2="62.84"/><line x1="603.8" y1="85.05" x2="653.5" y2="74.30"/><line x1="603.8" y1="58.71" x2="653.5" y2="85.73"/><line x1="603.8" y1="92.43" x2="653.5" y2="68.38"/><line x1="603.8" y1="59.65" x2="653.5" y2="29.98"/><line x1="603.8" y1="57.65" x2="653.5" y2="35.17"/><line x1="603.8" y1="76.79" x2="653.5" y2="31.38"/><line x1="603.8" y1="83.78" x2="653.5" y2="57.10"/><line x1="603.8" y1="94.16" x2="653.5" y2="81.81"/><line x1="603.8" y1="109.77" x2="653.5" y2="53.43"/><line x1="603.8" y1="98.08" x2="653.5" y2="116.92"/><line x1="603.8" y1="87.48" x2="653.5" y2="68.14"/><line x1="603.8" y1="88.79" x2="653.5" y2="34.95"/><line x1="603.8" y1="93.00" x2="653.5" y2="77.99"/><line x1="603.8" y1="102.57" x2="653.5" y2="83.02"/><line x1="603.8" y1="97.97" x2="653.5" y2="74.18"/><line x1="603.8" y1="55.32" x2="653.5" y2="29.98"/><line x1="603.8" y1="104.22" x2="653.5" y2="48.21"/><line x1="603.8" y1="78.51" x2="653.5" y2="43.30"/><line x1="603.8" y1="80.74" x2="653.5" y2="45.47"/><line x1="603.8" y1="81.34" x2="653.5" y2="35.03"/><line x1="603.8" y1="76.38" x2="653.5" y2="31.22"/><line x1="603.8" y1="98.92" x2="653.5" y2="78.99"/><line x1="603.8" y1="102.32" x2="653.5" y2="64.46"/><line x1="603.8" y1="79.00" x2="653.5" y2="67.73"/><line x1="603.8" y1="82.68" x2="653.5" y2="29.98"/><line x1="603.8" y1="72.93" x2="653.5" y2="73.82"/><line x1="603.8" y1="92.80" x2="653.5" y2="60.96"/><line x1="603.8" y1="91.95" x2="653.5" y2="64.76"/><line x1="603.8" y1="73.78" x2="653.5" y2="47.67"/><line x1="603.8" y1="107.84" x2="653.5" y2="74.50"/><line x1="603.8" y1="92.88" x2="653.5" y2="70.78"/><line x1="603.8" y1="99.89" x2="653.5" y2="105.78"/><line x1="603.8" y1="110.06" x2="653.5" y2="96.70"/><line x1="603.8" y1="107.41" x2="653.5" y2="104.30"/><line x1="603.8" y1="94.54" x2="653.5" y2="93.56"/><line x1="603.8" y1="98.08" x2="653.5" y2="59.91"/><line x1="603.8" y1="76.44" x2="653.5" y2="59.69"/><line x1="603.8" y1="103.28" x2="653.5" y2="70.31"/><line x1="603.8" y1="57.18" x2="653.5" y2="29.98"/><line x1="603.8" y1="70.42" x2="653.5" y2="49.58"/><line x1="603.8" y1="80.88" x2="653.5" y2="67.49"/><line x1="603.8" y1="102.88" x2="653.5" y2="94.90"/><line x1="603.8" y1="90.83" x2="653.5" y2="58.11"/><line x1="603.8" y1="69.39" x2="653.5" y2="29.98"/><line x1="603.8" y1="84.30" x2="653.5" y2="105.38"/><line x1="603.8" y1="68.91" x2="653.5" y2="39.90"/><line x1="603.8" y1="101.39" x2="653.5" y2="56.72"/><line x1="603.8" y1="104.17" x2="653.5" y2="89.26"/><line x1="603.8" y1="90.77" x2="653.5" y2="70.95"/><line x1="603.8" y1="92.14" x2="653.5" y2="109.79"/><line x1="603.8" y1="111.95" x2="653.5" y2="93.62"/><line x1="603.8" y1="80.20" x2="653.5" y2="60.69"/><line x1="603.8" y1="108.82" x2="653.5" y2="111.86"/><line x1="603.8" y1="108.97" x2="653.5" y2="68.10"/><line x1="603.8" y1="106.15" x2="653.5" y2="71.62"/><line x1="603.8" y1="108.95" x2="653.5" y2="107.78"/><line x1="603.8" y1="100.89" x2="653.5" y2="56.62"/><line x1="603.8" y1="101.94" x2="653.5" y2="85.62"/><line x1="603.8" y1="100.58" x2="653.5" y2="90.40"/><line x1="603.8" y1="76.81" x2="653.5" y2="68.63"/><line x1="603.8" y1="94.74" x2="653.5" y2="97.73"/><line x1="603.8" y1="102.16" x2="653.5" y2="80.21"/><line x1="603.8" y1="69.36" x2="653.5" y2="29.98"/><line x1="603.8" y1="109.83" x2="653.5" y2="94.06"/><line x1="603.8" y1="119.14" x2="653.5" y2="105.22"/><line x1="603.8" y1="90.75" x2="653.5" y2="59.00"/><line x1="603.8" y1="83.97" x2="653.5" y2="83.19"/><line x1="603.8" y1="109.70" x2="653.5" y2="117.54"/><line x1="603.8" y1="67.12" x2="653.5" y2="71.01"/><line x1="603.8" y1="76.92" x2="653.5" y2="51.90"/><line x1="603.8" y1="77.44" x2="653.5" y2="88.28"/><line x1="603.8" y1="85.06" x2="653.5" y2="57.35"/><line x1="603.8" y1="91.49" x2="653.5" y2="62.58"/><line x1="603.8" y1="108.62" x2="653.5" y2="61.52"/><line x1="603.8" y1="108.14" x2="653.5" y2="90.99"/><line x1="603.8" y1="78.30" x2="653.5" y2="48.22"/><line x1="603.8" y1="67.75" x2="653.5" y2="48.35"/><line x1="603.8" y1="108.06" x2="653.5" y2="81.24"/><line x1="603.8" y1="83.68" x2="653.5" y2="94.62"/><line x1="603.8" y1="77.77" x2="653.5" y2="34.36"/><line x1="603.8" y1="103.91" x2="653.5" y2="66.66"/><line x1="603.8" y1="90.27" x2="653.5" y2="51.88"/><line x1="603.8" y1="99.49" x2="653.5" y2="63.65"/><line x1="603.8" y1="81.20" x2="653.5" y2="59.80"/><line x1="603.8" y1="96.21" x2="653.5" y2="79.08"/><line x1="603.8" y1="80.79" x2="653.5" y2="33.31"/><line x1="603.8" y1="93.51" x2="653.5" y2="56.76"/><line x1="603.8" y1="89.93" x2="653.5" y2="33.61"/><line x1="603.8" y1="73.08" x2="653.5" y2="38.29"/><line x1="603.8" y1="84.90" x2="653.5" y2="74.92"/><line x1="603.8" y1="115.54" x2="653.5" y2="79.76"/><line x1="603.8" y1="102.35" x2="653.5" y2="94.87"/><line x1="603.8" y1="75.44" x2="653.5" y2="49.82"/><line x1="603.8" y1="107.71" x2="653.5" y2="65.27"/><line x1="603.8" y1="95.83" x2="653.5" y2="56.99"/><line x1="603.8" y1="108.15" x2="653.5" y2="116.29"/><line x1="603.8" y1="100.51" x2="653.5" y2="65.38"/><line x1="603.8" y1="122.18" x2="653.5" y2="115.83"/><line x1="603.8" y1="67.58" x2="653.5" y2="53.03"/><line x1="603.8" y1="107.23" x2="653.5" y2="66.83"/><line x1="603.8" y1="94.24" x2="653.5" y2="67.81"/><line x1="603.8" y1="90.85" x2="653.5" y2="89.62"/><line x1="603.8" y1="109.18" x2="653.5" y2="92.84"/><line x1="603.8" y1="70.39" x2="653.5" y2="69.19"/><line x1="603.8" y1="71.10" x2="653.5" y2="47.01"/><line x1="603.8" y1="108.06" x2="653.5" y2="83.10"/><line x1="603.8" y1="82.93" x2="653.5" y2="79.78"/><line x1="603.8" y1="122.91" x2="653.5" y2="96.27"/><line x1="603.8" y1="108.02" x2="653.5" y2="79.81"/><line x1="603.8" y1="120.00" x2="653.5" y2="102.69"/><line x1="603.8" y1="103.52" x2="653.5" y2="111.22"/><line x1="603.8" y1="95.02" x2="653.5" y2="71.85"/><line x1="603.8" y1="99.75" x2="653.5" y2="101.84"/><line x1="603.8" y1="88.25" x2="653.5" y2="100.95"/><line x1="603.8" y1="83.43" x2="653.5" y2="54.29"/><line x1="603.8" y1="66.35" x2="653.5" y2="29.98"/><line x1="603.8" y1="86.12" x2="653.5" y2="61.23"/><line x1="603.8" y1="91.01" x2="653.5" y2="95.79"/><line x1="603.8" y1="69.57" x2="653.5" y2="39.77"/><line x1="603.8" y1="95.69" x2="653.5" y2="97.12"/><line x1="603.8" y1="69.26" x2="653.5" y2="39.36"/><line x1="603.8" y1="109.12" x2="653.5" y2="76.61"/><line x1="603.8" y1="63.12" x2="653.5" y2="43.58"/><line x1="603.8" y1="85.45" x2="653.5" y2="73.24"/><line x1="603.8" y1="100.80" x2="653.5" y2="60.81"/><line x1="603.8" y1="55.32" x2="653.5" y2="33.18"/><line x1="603.8" y1="93.27" x2="653.5" y2="58.50"/><line x1="603.8" y1="95.97" x2="653.5" y2="62.41"/><line x1="603.8" y1="79.06" x2="653.5" y2="78.04"/><line x1="603.8" y1="107.42" x2="653.5" y2="88.83"/><line x1="603.8" y1="79.00" x2="653.5" y2="53.86"/><line x1="603.8" y1="72.91" x2="653.5" y2="78.60"/><line x1="603.8" y1="84.07" x2="653.5" y2="75.70"/><line x1="603.8" y1="89.93" x2="653.5" y2="63.96"/><line x1="603.8" y1="105.89" x2="653.5" y2="90.18"/><line x1="603.8" y1="108.77" x2="653.5" y2="83.84"/><line x1="603.8" y1="104.09" x2="653.5" y2="93.33"/><line x1="603.8" y1="88.16" x2="653.5" y2="80.36"/><line x1="603.8" y1="74.30" x2="653.5" y2="66.21"/><line x1="603.8" y1="78.76" x2="653.5" y2="53.52"/><line x1="603.8" y1="106.83" x2="653.5" y2="90.93"/><line x1="603.8" y1="103.89" x2="653.5" y2="90.65"/><line x1="603.8" y1="95.46" x2="653.5" y2="41.63"/><line x1="603.8" y1="97.66" x2="653.5" y2="48.48"/><line x1="603.8" y1="84.76" x2="653.5" y2="89.12"/><line x1="603.8" y1="42.27" x2="653.5" y2="43.80"/><line x1="603.8" y1="125.98" x2="653.5" y2="100.64"/><line x1="603.8" y1="131.36" x2="653.5" y2="105.24"/><line x1="603.8" y1="125.98" x2="653.5" y2="140.57"/><line x1="603.8" y1="83.74" x2="653.5" y2="24.60"/><line x1="603.8" y1="96.03" x2="653.5" y2="26.91"/></g>
<g fill="#000"><circle cx="603.8" cy="77.80" r="1.8"/><circle cx="653.5" cy="64.61" r="1.8"/><circle cx="603.8" cy="85.74" r="1.8"/><circle cx="653.5" cy="56.10" r="1.8"/><circle cx="603.8" cy="94.08" r="1.8"/><circle cx="653.5" cy="117.30" r="1.8"/><circle cx="603.8" cy="89.46" r="1.8"/><circle cx="653.5" cy="65.53" r="1.8"/><circle cx="603.8" cy="89.41" r="1.8"/><circle cx="653.5" cy="83.53" r="1.8"/><circle cx="603.8" cy="73.47" r="1.8"/><circle cx="653.5" cy="56.01" r="1.8"/><circle cx="603.8" cy="100.68" r="1.8"/><circle cx="653.5" cy="94.02" r="1.8"/><circle cx="603.8" cy="86.10" r="1.8"/><circle cx="653.5" cy="86.38" r="1.8"/><circle cx="603.8" cy="106.28" r="1.8"/><circle cx="653.5" cy="49.18" r="1.8"/><circle cx="603.8" cy="71.96" r="1.8"/><circle cx="653.5" cy="32.42" r="1.8"/><circle cx="603.8" cy="71.14" r="1.8"/><circle cx="653.5" cy="40.12" r="1.8"/><circle cx="603.8" cy="116.45" r="1.8"/><circle cx="653.5" cy="74.30" r="1.8"/><circle cx="603.8" cy="73.01" r="1.8"/><circle cx="653.5" cy="43.94" r="1.8"/><circle cx="603.8" cy="120.50" r="1.8"/><circle cx="653.5" cy="77.44" r="1.8"/><circle cx="603.8" cy="71.12" r="1.8"/><circle cx="653.5" cy="60.30" r="1.8"/><circle cx="603.8" cy="89.52" r="1.8"/><circle cx="653.5" cy="55.12" r="1.8"/><circle cx="603.8" cy="92.69" r="1.8"/><circle cx="653.5" cy="52.30" r="1.8"/><circle cx="603.8" cy="90.21" r="1.8"/><circle cx="653.5" cy="57.39" r="1.8"/><circle cx="603.8" cy="90.15" r="1.8"/><circle cx="653.5" cy="97.68" r="1.8"/><circle cx="603.8" cy="106.23" r="1.8"/><circle cx="653.5" cy="29.98" r="1.8"/><circle cx="603.8" cy="87.27" r="1.8"/><circle cx="653.5" cy="42.92" r="1.8"/><circle cx="603.8" cy="74.48" r="1.8"/><circle cx="653.5" cy="29.98" r="1.8"/><circle cx="603.8" cy="83.17" r="1.8"/><circle cx="653.5" cy="74.29" r="1.8"/><circle cx="603.8" cy="91.14" r="1.8"/><circle cx="653.5" cy="106.89" r="1.8"/><circle cx="603.8" cy="94.22" r="1.8"/><circle cx="653.5" cy="57.38" r="1.8"/><circle cx="603.8" cy="122.91" r="1.8"/><circle cx="653.5" cy="99.28" r="1.8"/><circle cx="603.8" cy="79.15" r="1.8"/><circle cx="653.5" cy="34.46" r="1.8"/><circle cx="603.8" cy="105.22" r="1.8"/><circle cx="653.5" cy="97.39" r="1.8"/><circle cx="603.8" cy="119.37" r="1.8"/><circle cx="653.5" cy="118.39" r="1.8"/><circle cx="603.8" cy="83.46" r="1.8"/><circle cx="653.5" cy="29.98" r="1.8"/><circle cx="603.8" cy="108.50" r="1.8"/><circle cx="653.5" cy="62.84" r="1.8"/><circle cx="603.8" cy="85.05" r="1.8"/><circle cx="653.5" cy="74.30" r="1.8"/><circle cx="603.8" cy="58.71" r="1.8"/><circle cx="653.5" cy="85.73" r="1.8"/><circle cx="603.8" cy="92.43" r="1.8"/><circle cx="653.5" cy="68.38" r="1.8"/><circle cx="603.8" cy="59.65" r="1.8"/><circle cx="653.5" cy="29.98" r="1.8"/><circle cx="603.8" cy="57.65" r="1.8"/><circle cx="653.5" cy="35.17" r="1.8"/><circle cx="603.8" cy="76.79" r="1.8"/><circle cx="653.5" cy="31.38" r="1.8"/><circle cx="603.8" cy="83.78" r="1.8"/><circle cx="653.5" cy="57.10" r="1.8"/><circle cx="603.8" cy="94.16" r="1.8"/><circle cx="653.5" cy="81.81" r="1.8"/><circle cx="603.8" cy="109.77" r="1.8"/><circle cx="653.5" cy="53.43" r="1.8"/><circle cx="603.8" cy="98.08" r="1.8"/><circle cx="653.5" cy="116.92" r="1.8"/><circle cx="603.8" cy="87.48" r="1.8"/><circle cx="653.5" cy="68.14" r="1.8"/><circle cx="603.8" cy="88.79" r="1.8"/><circle cx="653.5" cy="34.95" r="1.8"/><circle cx="603.8" cy="93.00" r="1.8"/><circle cx="653.5" cy="77.99" r="1.8"/><circle cx="603.8" cy="102.57" r="1.8"/><circle cx="653.5" cy="83.02" r="1.8"/><circle cx="603.8" cy="97.97" r="1.8"/><circle cx="653.5" cy="74.18" r="1.8"/><circle cx="603.8" cy="55.32" r="1.8"/><circle cx="653.5" cy="29.98" r="1.8"/><circle cx="603.8" cy="104.22" r="1.8"/><circle cx="653.5" cy="48.21" r="1.8"/><circle cx="603.8" cy="78.51" r="1.8"/><circle cx="653.5" cy="43.30" r="1.8"/><circle cx="603.8" cy="80.74" r="1.8"/><circle cx="653.5" cy="45.47" r="1.8"/><circle cx="603.8" cy="81.34" r="1.8"/><circle cx="653.5" cy="35.03" r="1.8"/><circle cx="603.8" cy="76.38" r="1.8"/><circle cx="653.5" cy="31.22" r="1.8"/><circle cx="603.8" cy="98.92" r="1.8"/><circle cx="653.5" cy="78.99" r="1.8"/><circle cx="603.8" cy="102.32" r="1.8"/><circle cx="653.5" cy="64.46" r="1.8"/><circle cx="603.8" cy="79.00" r="1.8"/><circle cx="653.5" cy="67.73" r="1.8"/><circle cx="603.8" cy="82.68" r="1.8"/><circle cx="653.5" cy="29.98" r="1.8"/><circle cx="603.8" cy="72.93" r="1.8"/><circle cx="653.5" cy="73.82" r="1.8"/><circle cx="603.8" cy="92.80" r="1.8"/><circle cx="653.5" cy="60.96" r="1.8"/><circle cx="603.8" cy="91.95" r="1.8"/><circle cx="653.5" cy="64.76" r="1.8"/><circle cx="603.8" cy="73.78" r="1.8"/><circle cx="653.5" cy="47.67" r="1.8"/><circle cx="603.8" cy="107.84" r="1.8"/><circle cx="653.5" cy="74.50" r="1.8"/><circle cx="603.8" cy="92.88" r="1.8"/><circle cx="653.5" cy="70.78" r="1.8"/><circle cx="603.8" cy="99.89" r="1.8"/><circle cx="653.5" cy="105.78" r="1.8"/><circle cx="603.8" cy="110.06" r="1.8"/><circle cx="653.5" cy="96.70" r="1.8"/><circle cx="603.8" cy="107.41" r="1.8"/><circle cx="653.5" cy="104.30" r="1.8"/><circle cx="603.8" cy="94.54" r="1.8"/><circle cx="653.5" cy="93.56" r="1.8"/><circle cx="603.8" cy="98.08" r="1.8"/><circle cx="653.5" cy="59.91" r="1.8"/><circle cx="603.8" cy="76.44" r="1.8"/><circle cx="653.5" cy="59.69" r="1.8"/><circle cx="603.8" cy="103.28" r="1.8"/><circle cx="653.5" cy="70.31" r="1.8"/><circle cx="603.8" cy="57.18" r="1.8"/><circle cx="653.5" cy="29.98" r="1.8"/><circle cx="603.8" cy="70.42" r="1.8"/><circle cx="653.5" cy="49.58" r="1.8"/><circle cx="603.8" cy="80.88" r="1.8"/><circle cx="653.5" cy="67.49" r="1.8"/><circle cx="603.8" cy="102.88" r="1.8"/><circle cx="653.5" cy="94.90" r="1.8"/><circle cx="603.8" cy="90.83" r="1.8"/><circle cx="653.5" cy="58.11" r="1.8"/><circle cx="603.8" cy="69.39" r="1.8"/><circle cx="653.5" cy="29.98" r="1.8"/><circle cx="603.8" cy="84.30" r="1.8"/><circle cx="653.5" cy="105.38" r="1.8"/><circle cx="603.8" cy="68.91" r="1.8"/><circle cx="653.5" cy="39.90" r="1.8"/><circle cx="603.8" cy="101.39" r="1.8"/><circle cx="653.5" cy="56.72" r="1.8"/><circle cx="603.8" cy="104.17" r="1.8"/><circle cx="653.5" cy="89.26" r="1.8"/><circle cx="603.8" cy="90.77" r="1.8"/><circle cx="653.5" cy="70.95" r="1.8"/><circle cx="603.8" cy="92.14" r="1.8"/><circle cx="653.5" cy="109.79" r="1.8"/><circle cx="603.8" cy="111.95" r="1.8"/><circle cx="653.5" cy="93.62" r="1.8"/><circle cx="603.8" cy="80.20" r="1.8"/><circle cx="653.5" cy="60.69" r="1.8"/><circle cx="603.8" cy="108.82" r="1.8"/><circle cx="653.5" cy="111.86" r="1.8"/><circle cx="603.8" cy="108.97" r="1.8"/><circle cx="653.5" cy="68.10" r="1.8"/><circle cx="603.8" cy="106.15" r="1.8"/><circle cx="653.5" cy="71.62" r="1.8"/><circle cx="603.8" cy="108.95" r="1.8"/><circle cx="653.5" cy="107.78" r="1.8"/><circle cx="603.8" cy="100.89" r="1.8"/><circle cx="653.5" cy="56.62" r="1.8"/><circle cx="603.8" cy="101.94" r="1.8"/><circle cx="653.5" cy="85.62" r="1.8"/><circle cx="603.8" cy="100.58" r="1.8"/><circle cx="653.5" cy="90.40" r="1.8"/><circle cx="603.8" cy="76.81" r="1.8"/><circle cx="653.5" cy="68.63" r="1.8"/><circle cx="603.8" cy="94.74" r="1.8"/><circle cx="653.5" cy="97.73" r="1.8"/><circle cx="603.8" cy="102.16" r="1.8"/><circle cx="653.5" cy="80.21" r="1.8"/><circle cx="603.8" cy="69.36" r="1.8"/><circle cx="653.5" cy="29.98" r="1.8"/><circle cx="603.8" cy="109.83" r="1.8"/><circle cx="653.5" cy="94.06" r="1.8"/><circle cx="603.8" cy="119.14" r="1.8"/><circle cx="653.5" cy="105.22" r="1.8"/><circle cx="603.8" cy="90.75" r="1.8"/><circle cx="653.5" cy="59.00" r="1.8"/><circle cx="603.8" cy="83.97" r="1.8"/><circle cx="653.5" cy="83.19" r="1.8"/><circle cx="603.8" cy="109.70" r="1.8"/><circle cx="653.5" cy="117.54" r="1.8"/><circle cx="603.8" cy="67.12" r="1.8"/><circle cx="653.5" cy="71.01" r="1.8"/><circle cx="603.8" cy="76.92" r="1.8"/><circle cx="653.5" cy="51.90" r="1.8"/><circle cx="603.8" cy="77.44" r="1.8"/><circle cx="653.5" cy="88.28" r="1.8"/><circle cx="603.8" cy="85.06" r="1.8"/><circle cx="653.5" cy="57.35" r="1.8"/><circle cx="603.8" cy="91.49" r="1.8"/><circle cx="653.5" cy="62.58" r="1.8"/><circle cx="603.8" cy="108.62" r="1.8"/><circle cx="653.5" cy="61.52" r="1.8"/><circle cx="603.8" cy="108.14" r="1.8"/><circle cx="653.5" cy="90.99" r="1.8"/><circle cx="603.8" cy="78.30" r="1.8"/><circle cx="653.5" cy="48.22" r="1.8"/><circle cx="603.8" cy="67.75" r="1.8"/><circle cx="653.5" cy="48.35" r="1.8"/><circle cx="603.8" cy="108.06" r="1.8"/><circle cx="653.5" cy="81.24" r="1.8"/><circle cx="603.8" cy="83.68" r="1.8"/><circle cx="653.5" cy="94.62" r="1.8"/><circle cx="603.8" cy="77.77" r="1.8"/><circle cx="653.5" cy="34.36" r="1.8"/><circle cx="603.8" cy="103.91" r="1.8"/><circle cx="653.5" cy="66.66" r="1.8"/><circle cx="603.8" cy="90.27" r="1.8"/><circle cx="653.5" cy="51.88" r="1.8"/><circle cx="603.8" cy="99.49" r="1.8"/><circle cx="653.5" cy="63.65" r="1.8"/><circle cx="603.8" cy="81.20" r="1.8"/><circle cx="653.5" cy="59.80" r="1.8"/><circle cx="603.8" cy="96.21" r="1.8"/><circle cx="653.5" cy="79.08" r="1.8"/><circle cx="603.8" cy="80.79" r="1.8"/><circle cx="653.5" cy="33.31" r="1.8"/><circle cx="603.8" cy="93.51" r="1.8"/><circle cx="653.5" cy="56.76" r="1.8"/><circle cx="603.8" cy="89.93" r="1.8"/><circle cx="653.5" cy="33.61" r="1.8"/><circle cx="603.8" cy="73.08" r="1.8"/><circle cx="653.5" cy="38.29" r="1.8"/><circle cx="603.8" cy="84.90" r="1.8"/><circle cx="653.5" cy="74.92" r="1.8"/><circle cx="603.8" cy="115.54" r="1.8"/><circle cx="653.5" cy="79.76" r="1.8"/><circle cx="603.8" cy="102.35" r="1.8"/><circle cx="653.5" cy="94.87" r="1.8"/><circle cx="603.8" cy="75.44" r="1.8"/><circle cx="653.5" cy="49.82" r="1.8"/><circle cx="603.8" cy="107.71" r="1.8"/><circle cx="653.5" cy="65.27" r="1.8"/><circle cx="603.8" cy="95.83" r="1.8"/><circle cx="653.5" cy="56.99" r="1.8"/><circle cx="603.8" cy="108.15" r="1.8"/><circle cx="653.5" cy="116.29" r="1.8"/><circle cx="603.8" cy="100.51" r="1.8"/><circle cx="653.5" cy="65.38" r="1.8"/><circle cx="603.8" cy="122.18" r="1.8"/><circle cx="653.5" cy="115.83" r="1.8"/><circle cx="603.8" cy="67.58" r="1.8"/><circle cx="653.5" cy="53.03" r="1.8"/><circle cx="603.8" cy="107.23" r="1.8"/><circle cx="653.5" cy="66.83" r="1.8"/><circle cx="603.8" cy="94.24" r="1.8"/><circle cx="653.5" cy="67.81" r="1.8"/><circle cx="603.8" cy="90.85" r="1.8"/><circle cx="653.5" cy="89.62" r="1.8"/><circle cx="603.8" cy="109.18" r="1.8"/><circle cx="653.5" cy="92.84" r="1.8"/><circle cx="603.8" cy="70.39" r="1.8"/><circle cx="653.5" cy="69.19" r="1.8"/><circle cx="603.8" cy="71.10" r="1.8"/><circle cx="653.5" cy="47.01" r="1.8"/><circle cx="603.8" cy="108.06" r="1.8"/><circle cx="653.5" cy="83.10" r="1.8"/><circle cx="603.8" cy="82.93" r="1.8"/><circle cx="653.5" cy="79.78" r="1.8"/><circle cx="603.8" cy="122.91" r="1.8"/><circle cx="653.5" cy="96.27" r="1.8"/><circle cx="603.8" cy="108.02" r="1.8"/><circle cx="653.5" cy="79.81" r="1.8"/><circle cx="603.8" cy="120.00" r="1.8"/><circle cx="653.5" cy="102.69" r="1.8"/><circle cx="603.8" cy="103.52" r="1.8"/><circle cx="653.5" cy="111.22" r="1.8"/><circle cx="603.8" cy="95.02" r="1.8"/><circle cx="653.5" cy="71.85" r="1.8"/><circle cx="603.8" cy="99.75" r="1.8"/><circle cx="653.5" cy="101.84" r="1.8"/><circle cx="603.8" cy="88.25" r="1.8"/><circle cx="653.5" cy="100.95" r="1.8"/><circle cx="603.8" cy="83.43" r="1.8"/><circle cx="653.5" cy="54.29" r="1.8"/><circle cx="603.8" cy="66.35" r="1.8"/><circle cx="653.5" cy="29.98" r="1.8"/><circle cx="603.8" cy="86.12" r="1.8"/><circle cx="653.5" cy="61.23" r="1.8"/><circle cx="603.8" cy="91.01" r="1.8"/><circle cx="653.5" cy="95.79" r="1.8"/><circle cx="603.8" cy="69.57" r="1.8"/><circle cx="653.5" cy="39.77" r="1.8"/><circle cx="603.8" cy="95.69" r="1.8"/><circle cx="653.5" cy="97.12" r="1.8"/><circle cx="603.8" cy="69.26" r="1.8"/><circle cx="653.5" cy="39.36" r="1.8"/><circle cx="603.8" cy="109.12" r="1.8"/><circle cx="653.5" cy="76.61" r="1.8"/><circle cx="603.8" cy="63.12" r="1.8"/><circle cx="653.5" cy="43.58" r="1.8"/><circle cx="603.8" cy="85.45" r="1.8"/><circle cx="653.5" cy="73.24" r="1.8"/><circle cx="603.8" cy="100.80" r="1.8"/><circle cx="653.5" cy="60.81" r="1.8"/><circle cx="603.8" cy="55.32" r="1.8"/><circle cx="653.5" cy="33.18" r="1.8"/><circle cx="603.8" cy="93.27" r="1.8"/><circle cx="653.5" cy="58.50" r="1.8"/><circle cx="603.8" cy="95.97" r="1.8"/><circle cx="653.5" cy="62.41" r="1.8"/><circle cx="603.8" cy="79.06" r="1.8"/><circle cx="653.5" cy="78.04" r="1.8"/><circle cx="603.8" cy="107.42" r="1.8"/><circle cx="653.5" cy="88.83" r="1.8"/><circle cx="603.8" cy="79.00" r="1.8"/><circle cx="653.5" cy="53.86" r="1.8"/><circle cx="603.8" cy="72.91" r="1.8"/><circle cx="653.5" cy="78.60" r="1.8"/><circle cx="603.8" cy="84.07" r="1.8"/><circle cx="653.5" cy="75.70" r="1.8"/><circle cx="603.8" cy="89.93" r="1.8"/><circle cx="653.5" cy="63.96" r="1.8"/><circle cx="603.8" cy="105.89" r="1.8"/><circle cx="653.5" cy="90.18" r="1.8"/><circle cx="603.8" cy="108.77" r="1.8"/><circle cx="653.5" cy="83.84" r="1.8"/><circle cx="603.8" cy="104.09" r="1.8"/><circle cx="653.5" cy="93.33" r="1.8"/><circle cx="603.8" cy="88.16" r="1.8"/><circle cx="653.5" cy="80.36" r="1.8"/><circle cx="603.8" cy="74.30" r="1.8"/><circle cx="653.5" cy="66.21" r="1.8"/><circle cx="603.8" cy="78.76" r="1.8"/><circle cx="653.5" cy="53.52" r="1.8"/><circle cx="603.8" cy="106.83" r="1.8"/><circle cx="653.5" cy="90.93" r="1.8"/><circle cx="603.8" cy="103.89" r="1.8"/><circle cx="653.5" cy="90.65" r="1.8"/><circle cx="603.8" cy="95.46" r="1.8"/><circle cx="653.5" cy="41.63" r="1.8"/><circle cx="603.8" cy="97.66" r="1.8"/><circle cx="653.5" cy="48.48" r="1.8"/><circle cx="603.8" cy="84.76" r="1.8"/><circle cx="653.5" cy="89.12" r="1.8"/><circle cx="603.8" cy="42.27" r="1.8"/><circle cx="653.5" cy="43.80" r="1.8"/><circle cx="603.8" cy="125.98" r="1.8"/><circle cx="653.5" cy="100.64" r="1.8"/><circle cx="603.8" cy="131.36" r="1.8"/><circle cx="653.5" cy="105.24" r="1.8"/><circle cx="603.8" cy="125.98" r="1.8"/><circle cx="653.5" cy="140.57" r="1.8"/><circle cx="603.8" cy="83.74" r="1.8"/><circle cx="653.5" cy="24.60" r="1.8"/><circle cx="603.8" cy="96.03" r="1.8"/><circle cx="653.5" cy="26.91" r="1.8"/></g>
<text x="3.60" y="225.03" font-size="13.06" text-anchor="start" fill="#111" >D</text>
<text x="88.60" y="248.23" font-size="11.49" text-anchor="middle" fill="#111" >GSE23400</text>
<path d="M88.40,256.15L88.40,261.05M86.28,257.38L90.52,259.83M86.28,259.83L90.52,257.38M94.60,256.15L94.60,261.05M92.48,257.38L96.72,259.83M92.48,259.83L96.72,257.38M100.80,256.15L100.80,261.05M98.68,257.38L102.92,259.83M98.68,259.83L102.92,257.38" stroke="#111" stroke-width="1.05" fill="none"/><circle cx="88.40" cy="258.60" r="1.15" fill="#111"/><circle cx="94.60" cy="258.60" r="1.15" fill="#111"/><circle cx="100.80" cy="258.60" r="1.15" fill="#111"/>
<line x1="69.60" y1="262.40" x2="120.00" y2="262.40" stroke="#222" stroke-width="1" />
<line x1="41.40" y1="252.10" x2="41.40" y2="405.00" stroke="#8a8a8a" stroke-width="1" />
<line x1="35.50" y1="251.60" x2="41.40" y2="251.60" stroke="#555" stroke-width="1" />
<text x="34.00" y="255.23" font-size="11.49" text-anchor="end" fill="#111" >12</text>
<line x1="35.50" y1="302.80" x2="41.40" y2="302.80" stroke="#555" stroke-width="1" />
<text x="34.00" y="306.43" font-size="11.49" text-anchor="end" fill="#111" >10</text>
<line x1="35.50" y1="354.00" x2="41.40" y2="354.00" stroke="#555" stroke-width="1" />
<text x="34.00" y="357.63" font-size="11.49" text-anchor="end" fill="#111" >8</text>
<line x1="35.50" y1="405.20" x2="41.40" y2="405.20" stroke="#555" stroke-width="1" />
<text x="34.00" y="408.83" font-size="11.49" text-anchor="end" fill="#111" >6</text>
<line x1="40.90" y1="405.40" x2="148.40" y2="405.40" stroke="#3a3a3a" stroke-width="1" />
<line x1="69.50" y1="405.40" x2="69.50" y2="411.00" stroke="#3a3a3a" stroke-width="1" />
<line x1="119.50" y1="405.40" x2="119.50" y2="411.00" stroke="#3a3a3a" stroke-width="1" />
<text x="69.50" y="420.63" font-size="11.49" text-anchor="middle" fill="#111" >Normal</text>
<text x="119.50" y="420.63" font-size="11.49" text-anchor="middle" fill="#111" >ESCC</text>
<text transform="translate(19.20,328.00) rotate(-90)" x="0" y="0" font-size="11.49" text-anchor="middle" fill="#111">IFIT3 mRNA expression</text>
<g stroke="#555" stroke-width="0.55"><line x1="69.5" y1="359.82" x2="119.5" y2="274.64"/><line x1="69.5" y1="352.44" x2="119.5" y2="286.93"/><line x1="69.5" y1="359.97" x2="119.5" y2="288.72"/><line x1="69.5" y1="353.31" x2="119.5" y2="297.68"/><line x1="69.5" y1="365.91" x2="119.5" y2="302.80"/><line x1="69.5" y1="360.14" x2="119.5" y2="319.44"/><line x1="69.5" y1="356.98" x2="119.5" y2="323.28"/><line x1="69.5" y1="366.05" x2="119.5" y2="326.86"/><line x1="69.5" y1="353.55" x2="119.5" y2="330.45"/><line x1="69.5" y1="349.15" x2="119.5" y2="372.04"/><line x1="69.5" y1="353.62" x2="119.5" y2="338.79"/><line x1="69.5" y1="369.78" x2="119.5" y2="357.79"/><line x1="69.5" y1="362.66" x2="119.5" y2="349.92"/><line x1="69.5" y1="360.56" x2="119.5" y2="370.66"/><line x1="69.5" y1="363.18" x2="119.5" y2="342.56"/><line x1="69.5" y1="348.08" x2="119.5" y2="370.84"/><line x1="69.5" y1="345.13" x2="119.5" y2="375.59"/><line x1="69.5" y1="347.47" x2="119.5" y2="337.51"/><line x1="69.5" y1="350.77" x2="119.5" y2="361.53"/><line x1="69.5" y1="360.84" x2="119.5" y2="339.53"/><line x1="69.5" y1="362.49" x2="119.5" y2="349.38"/><line x1="69.5" y1="356.46" x2="119.5" y2="348.94"/><line x1="69.5" y1="355.82" x2="119.5" y2="378.24"/><line x1="69.5" y1="354.76" x2="119.5" y2="369.69"/><line x1="69.5" y1="362.96" x2="119.5" y2="354.04"/><line x1="69.5" y1="361.69" x2="119.5" y2="373.21"/><line x1="69.5" y1="349.49" x2="119.5" y2="339.26"/><line x1="69.5" y1="364.04" x2="119.5" y2="373.31"/><line x1="69.5" y1="345.56" x2="119.5" y2="344.30"/><line x1="69.5" y1="350.75" x2="119.5" y2="378.64"/><line x1="69.5" y1="358.73" x2="119.5" y2="363.09"/><line x1="69.5" y1="361.07" x2="119.5" y2="355.66"/><line x1="69.5" y1="361.78" x2="119.5" y2="375.92"/><line x1="69.5" y1="369.12" x2="119.5" y2="360.85"/><line x1="69.5" y1="355.28" x2="119.5" y2="349.70"/><line x1="69.5" y1="347.71" x2="119.5" y2="374.64"/><line x1="69.5" y1="348.98" x2="119.5" y2="338.75"/><line x1="69.5" y1="344.02" x2="119.5" y2="356.53"/><line x1="69.5" y1="358.25" x2="119.5" y2="367.09"/><line x1="69.5" y1="364.73" x2="119.5" y2="357.87"/><line x1="69.5" y1="348.09" x2="119.5" y2="338.46"/><line x1="69.5" y1="350.95" x2="119.5" y2="341.41"/><line x1="69.5" y1="353.29" x2="119.5" y2="353.33"/><line x1="69.5" y1="360.82" x2="119.5" y2="373.85"/><line x1="69.5" y1="358.62" x2="119.5" y2="367.96"/><line x1="69.5" y1="347.00" x2="119.5" y2="369.93"/><line x1="69.5" y1="366.46" x2="119.5" y2="338.69"/><line x1="69.5" y1="348.35" x2="119.5" y2="336.77"/><line x1="69.5" y1="355.88" x2="119.5" y2="364.69"/><line x1="69.5" y1="347.99" x2="119.5" y2="377.87"/><line x1="69.5" y1="361.43" x2="119.5" y2="365.19"/><line x1="69.5" y1="362.98" x2="119.5" y2="346.85"/><line x1="69.5" y1="356.16" x2="119.5" y2="372.10"/><line x1="69.5" y1="332.50" x2="119.5" y2="351.44"/><line x1="69.5" y1="338.90" x2="119.5" y2="364.24"/></g>
<g fill="#000"><circle cx="69.5" cy="359.82" r="2.6"/><circle cx="119.5" cy="274.64" r="2.6"/><circle cx="69.5" cy="352.44" r="2.6"/><circle cx="119.5" cy="286.93" r="2.6"/><circle cx="69.5" cy="359.97" r="2.6"/><circle cx="119.5" cy="288.72" r="2.6"/><circle cx="69.5" cy="353.31" r="2.6"/><circle cx="119.5" cy="297.68" r="2.6"/><circle cx="69.5" cy="365.91" r="2.6"/><circle cx="119.5" cy="302.80" r="2.6"/><circle cx="69.5" cy="360.14" r="2.6"/><circle cx="119.5" cy="319.44" r="2.6"/><circle cx="69.5" cy="356.98" r="2.6"/><circle cx="119.5" cy="323.28" r="2.6"/><circle cx="69.5" cy="366.05" r="2.6"/><circle cx="119.5" cy="326.86" r="2.6"/><circle cx="69.5" cy="353.55" r="2.6"/><circle cx="119.5" cy="330.45" r="2.6"/><circle cx="69.5" cy="349.15" r="2.6"/><circle cx="119.5" cy="372.04" r="2.6"/><circle cx="69.5" cy="353.62" r="2.6"/><circle cx="119.5" cy="338.79" r="2.6"/><circle cx="69.5" cy="369.78" r="2.6"/><circle cx="119.5" cy="357.79" r="2.6"/><circle cx="69.5" cy="362.66" r="2.6"/><circle cx="119.5" cy="349.92" r="2.6"/><circle cx="69.5" cy="360.56" r="2.6"/><circle cx="119.5" cy="370.66" r="2.6"/><circle cx="69.5" cy="363.18" r="2.6"/><circle cx="119.5" cy="342.56" r="2.6"/><circle cx="69.5" cy="348.08" r="2.6"/><circle cx="119.5" cy="370.84" r="2.6"/><circle cx="69.5" cy="345.13" r="2.6"/><circle cx="119.5" cy="375.59" r="2.6"/><circle cx="69.5" cy="347.47" r="2.6"/><circle cx="119.5" cy="337.51" r="2.6"/><circle cx="69.5" cy="350.77" r="2.6"/><circle cx="119.5" cy="361.53" r="2.6"/><circle cx="69.5" cy="360.84" r="2.6"/><circle cx="119.5" cy="339.53" r="2.6"/><circle cx="69.5" cy="362.49" r="2.6"/><circle cx="119.5" cy="349.38" r="2.6"/><circle cx="69.5" cy="356.46" r="2.6"/><circle cx="119.5" cy="348.94" r="2.6"/><circle cx="69.5" cy="355.82" r="2.6"/><circle cx="119.5" cy="378.24" r="2.6"/><circle cx="69.5" cy="354.76" r="2.6"/><circle cx="119.5" cy="369.69" r="2.6"/><circle cx="69.5" cy="362.96" r="2.6"/><circle cx="119.5" cy="354.04" r="2.6"/><circle cx="69.5" cy="361.69" r="2.6"/><circle cx="119.5" cy="373.21" r="2.6"/><circle cx="69.5" cy="349.49" r="2.6"/><circle cx="119.5" cy="339.26" r="2.6"/><circle cx="69.5" cy="364.04" r="2.6"/><circle cx="119.5" cy="373.31" r="2.6"/><circle cx="69.5" cy="345.56" r="2.6"/><circle cx="119.5" cy="344.30" r="2.6"/><circle cx="69.5" cy="350.75" r="2.6"/><circle cx="119.5" cy="378.64" r="2.6"/><circle cx="69.5" cy="358.73" r="2.6"/><circle cx="119.5" cy="363.09" r="2.6"/><circle cx="69.5" cy="361.07" r="2.6"/><circle cx="119.5" cy="355.66" r="2.6"/><circle cx="69.5" cy="361.78" r="2.6"/><circle cx="119.5" cy="375.92" r="2.6"/><circle cx="69.5" cy="369.12" r="2.6"/><circle cx="119.5" cy="360.85" r="2.6"/><circle cx="69.5" cy="355.28" r="2.6"/><circle cx="119.5" cy="349.70" r="2.6"/><circle cx="69.5" cy="347.71" r="2.6"/><circle cx="119.5" cy="374.64" r="2.6"/><circle cx="69.5" cy="348.98" r="2.6"/><circle cx="119.5" cy="338.75" r="2.6"/><circle cx="69.5" cy="344.02" r="2.6"/><circle cx="119.5" cy="356.53" r="2.6"/><circle cx="69.5" cy="358.25" r="2.6"/><circle cx="119.5" cy="367.09" r="2.6"/><circle cx="69.5" cy="364.73" r="2.6"/><circle cx="119.5" cy="357.87" r="2.6"/><circle cx="69.5" cy="348.09" r="2.6"/><circle cx="119.5" cy="338.46" r="2.6"/><circle cx="69.5" cy="350.95" r="2.6"/><circle cx="119.5" cy="341.41" r="2.6"/><circle cx="69.5" cy="353.29" r="2.6"/><circle cx="119.5" cy="353.33" r="2.6"/><circle cx="69.5" cy="360.82" r="2.6"/><circle cx="119.5" cy="373.85" r="2.6"/><circle cx="69.5" cy="358.62" r="2.6"/><circle cx="119.5" cy="367.96" r="2.6"/><circle cx="69.5" cy="347.00" r="2.6"/><circle cx="119.5" cy="369.93" r="2.6"/><circle cx="69.5" cy="366.46" r="2.6"/><circle cx="119.5" cy="338.69" r="2.6"/><circle cx="69.5" cy="348.35" r="2.6"/><circle cx="119.5" cy="336.77" r="2.6"/><circle cx="69.5" cy="355.88" r="2.6"/><circle cx="119.5" cy="364.69" r="2.6"/><circle cx="69.5" cy="347.99" r="2.6"/><circle cx="119.5" cy="377.87" r="2.6"/><circle cx="69.5" cy="361.43" r="2.6"/><circle cx="119.5" cy="365.19" r="2.6"/><circle cx="69.5" cy="362.98" r="2.6"/><circle cx="119.5" cy="346.85" r="2.6"/><circle cx="69.5" cy="356.16" r="2.6"/><circle cx="119.5" cy="372.10" r="2.6"/><circle cx="69.5" cy="332.50" r="2.6"/><circle cx="119.5" cy="351.44" r="2.6"/><circle cx="69.5" cy="338.90" r="2.6"/><circle cx="119.5" cy="364.24" r="2.6"/></g>
<text x="175.90" y="224.22" font-size="13.06" text-anchor="start" fill="#111" >E</text>
<text x="304.00" y="242.63" font-size="11.49" text-anchor="middle" fill="#111" >TCGA-ESCA</text>
<line x1="188.50" y1="263.30" x2="188.50" y2="402.30" stroke="#333" stroke-width="1" />
<line x1="185.20" y1="263.30" x2="188.50" y2="263.30" stroke="#333" stroke-width="1" />
<text x="184.20" y="266.76" font-size="10.97" text-anchor="end" fill="#111" >125</text>
<line x1="185.20" y1="285.80" x2="188.50" y2="285.80" stroke="#333" stroke-width="1" />
<text x="184.20" y="289.26" font-size="10.97" text-anchor="end" fill="#111" >100</text>
<line x1="185.20" y1="308.30" x2="188.50" y2="308.30" stroke="#333" stroke-width="1" />
<text x="184.20" y="311.76" font-size="10.97" text-anchor="end" fill="#111" >75</text>
<line x1="185.20" y1="330.80" x2="188.50" y2="330.80" stroke="#333" stroke-width="1" />
<text x="184.20" y="334.26" font-size="10.97" text-anchor="end" fill="#111" >50</text>
<line x1="185.20" y1="353.30" x2="188.50" y2="353.30" stroke="#333" stroke-width="1" />
<text x="184.20" y="356.76" font-size="10.97" text-anchor="end" fill="#111" >25</text>
<line x1="185.20" y1="375.80" x2="188.50" y2="375.80" stroke="#333" stroke-width="1" />
<text x="184.20" y="379.26" font-size="10.97" text-anchor="end" fill="#111" >0</text>
<line x1="185.20" y1="398.30" x2="188.50" y2="398.30" stroke="#333" stroke-width="1" />
<text x="184.20" y="401.76" font-size="10.97" text-anchor="end" fill="#111" >-25</text>
<line x1="188.50" y1="398.00" x2="420.80" y2="398.00" stroke="#333" stroke-width="1" />
<line x1="235.30" y1="398.00" x2="235.30" y2="401.50" stroke="#333" stroke-width="1" />
<line x1="281.60" y1="398.00" x2="281.60" y2="401.50" stroke="#333" stroke-width="1" />
<line x1="328.00" y1="398.00" x2="328.00" y2="401.50" stroke="#333" stroke-width="1" />
<line x1="374.40" y1="398.00" x2="374.40" y2="401.50" stroke="#333" stroke-width="1" />
<text x="212.80" y="410.33" font-size="11.49" text-anchor="middle" fill="#111" >Normal</text>
<text x="212.80" y="422.43" font-size="11.49" text-anchor="middle" fill="#111" >(n=11)</text>
<text x="259.50" y="410.33" font-size="11.49" text-anchor="middle" fill="#111" >N0</text>
<text x="259.50" y="422.43" font-size="11.49" text-anchor="middle" fill="#111" >(n=76)</text>
<text x="307.80" y="410.33" font-size="11.49" text-anchor="middle" fill="#111" >N1</text>
<text x="307.80" y="422.43" font-size="11.49" text-anchor="middle" fill="#111" >(n=69)</text>
<text x="353.10" y="410.33" font-size="11.49" text-anchor="middle" fill="#111" >N2</text>
<text x="353.10" y="422.43" font-size="11.49" text-anchor="middle" fill="#111" >(n=12)</text>
<text x="400.60" y="410.33" font-size="11.49" text-anchor="middle" fill="#111" >N3</text>
<text x="400.60" y="422.43" font-size="11.49" text-anchor="middle" fill="#111" >(n=8)</text>
<text transform="translate(164.80,330.80) rotate(-90)" x="0" y="0" font-size="11.49" text-anchor="middle" fill="#111">IFIT3 mRNA expression</text>
<line x1="211.45" y1="361.70" x2="211.45" y2="368.10" stroke="#333" stroke-width="0.8" stroke-dasharray="3.5,2"/>
<line x1="211.45" y1="372.80" x2="211.45" y2="374.50" stroke="#333" stroke-width="0.8" stroke-dasharray="3.5,2"/>
<line x1="206.45" y1="361.70" x2="216.45" y2="361.70" stroke="#333" stroke-width="1" />
<line x1="206.45" y1="374.50" x2="216.45" y2="374.50" stroke="#333" stroke-width="1" />
<rect x="200.00" y="368.10" width="22.90" height="4.70" fill="#4f5ff2" stroke="none" stroke-width="0" />
<line x1="200.00" y1="370.30" x2="222.90" y2="370.30" stroke="#333" stroke-width="0.6" />
<line x1="258.30" y1="355.40" x2="258.30" y2="359.40" stroke="#333" stroke-width="0.8" stroke-dasharray="3.5,2"/>
<line x1="258.30" y1="370.10" x2="258.30" y2="372.50" stroke="#333" stroke-width="0.8" stroke-dasharray="3.5,2"/>
<line x1="253.30" y1="355.40" x2="263.30" y2="355.40" stroke="#333" stroke-width="1" />
<line x1="253.30" y1="372.50" x2="263.30" y2="372.50" stroke="#333" stroke-width="1" />
<rect x="247.00" y="359.40" width="22.60" height="10.70" fill="#ec8a2c" stroke="none" stroke-width="0" />
<line x1="247.00" y1="366.80" x2="269.60" y2="366.80" stroke="#333" stroke-width="0.9" />
<line x1="304.65" y1="270.00" x2="304.65" y2="329.50" stroke="#333" stroke-width="0.8" stroke-dasharray="3.5,2"/>
<line x1="304.65" y1="361.70" x2="304.65" y2="373.20" stroke="#333" stroke-width="0.8" stroke-dasharray="3.5,2"/>
<line x1="299.65" y1="270.00" x2="309.65" y2="270.00" stroke="#333" stroke-width="1" />
<line x1="299.65" y1="373.20" x2="309.65" y2="373.20" stroke="#333" stroke-width="1" />
<rect x="293.40" y="329.50" width="22.50" height="32.20" fill="#b0713a" stroke="none" stroke-width="0" />
<line x1="293.40" y1="348.30" x2="315.90" y2="348.30" stroke="#333" stroke-width="0.9" />
<line x1="351.20" y1="290.60" x2="351.20" y2="334.50" stroke="#333" stroke-width="0.8" stroke-dasharray="3.5,2"/>
<line x1="351.20" y1="363.40" x2="351.20" y2="373.50" stroke="#333" stroke-width="0.8" stroke-dasharray="3.5,2"/>
<line x1="346.20" y1="290.60" x2="356.20" y2="290.60" stroke="#333" stroke-width="1" />
<line x1="346.20" y1="373.50" x2="356.20" y2="373.50" stroke="#333" stroke-width="1" />
<rect x="339.80" y="334.50" width="22.80" height="28.90" fill="#aee83a" stroke="none" stroke-width="0" />
<line x1="339.80" y1="353.40" x2="362.60" y2="353.40" stroke="#333" stroke-width="0.9" />
<line x1="397.65" y1="344.60" x2="397.65" y2="353.00" stroke="#333" stroke-width="0.8" stroke-dasharray="3.5,2"/>
<line x1="397.65" y1="357.00" x2="397.65" y2="372.50" stroke="#333" stroke-width="0.8" stroke-dasharray="3.5,2"/>
<line x1="392.65" y1="344.60" x2="402.65" y2="344.60" stroke="#333" stroke-width="1" />
<line x1="392.65" y1="372.50" x2="402.65" y2="372.50" stroke="#333" stroke-width="1" />
<rect x="386.40" y="353.00" width="22.50" height="4.00" fill="#f03a1e" stroke="none" stroke-width="0" />
<line x1="386.40" y1="355.00" x2="408.90" y2="355.00" stroke="#333" stroke-width="0.6" />
<line x1="209.30" y1="254.20" x2="396.00" y2="254.20" stroke="#a3a3a3" stroke-width="1.1" />
<path d="M304.50,248.15L304.50,253.05M302.38,249.38L306.62,251.82M302.38,251.82L306.62,249.38" stroke="#111" stroke-width="1.05" fill="none"/><circle cx="304.50" cy="250.60" r="1.15" fill="#111"/>
<line x1="209.30" y1="261.00" x2="349.80" y2="261.00" stroke="#8f8f8f" stroke-width="1.1" />
<path d="M275.20,255.05L275.20,259.95M273.08,256.27L277.32,258.73M273.08,258.73L277.32,256.27M281.40,255.05L281.40,259.95M279.28,256.27L283.52,258.73M279.28,258.73L283.52,256.27" stroke="#111" stroke-width="1.05" fill="none"/><circle cx="275.20" cy="257.50" r="1.15" fill="#111"/><circle cx="281.40" cy="257.50" r="1.15" fill="#111"/>
<line x1="209.30" y1="267.50" x2="304.50" y2="267.50" stroke="#555" stroke-width="1.1" />
<path d="M256.20,262.15L256.20,267.05M254.08,263.38L258.32,265.83M254.08,265.83L258.32,263.38M262.40,262.15L262.40,267.05M260.28,263.38L264.52,265.83M260.28,265.83L264.52,263.38M268.60,262.15L268.60,267.05M266.48,263.38L270.72,265.83M266.48,265.83L270.72,263.38" stroke="#111" stroke-width="1.05" fill="none"/><circle cx="256.20" cy="264.60" r="1.15" fill="#111"/><circle cx="262.40" cy="264.60" r="1.15" fill="#111"/><circle cx="268.60" cy="264.60" r="1.15" fill="#111"/>
<line x1="412.40" y1="394.20" x2="412.40" y2="398.00" stroke="#333" stroke-width="1" />
<text x="448.70" y="223.93" font-size="13.06" text-anchor="start" fill="#111" >F</text>
<text x="567.80" y="242.63" font-size="11.49" text-anchor="middle" fill="#111" >TCGA-ESCA</text>
<line x1="459.50" y1="270.50" x2="459.50" y2="402.30" stroke="#333" stroke-width="1" />
<line x1="456.20" y1="270.50" x2="459.50" y2="270.50" stroke="#333" stroke-width="1" />
<text x="455.20" y="273.96" font-size="10.97" text-anchor="end" fill="#111" >125</text>
<line x1="456.20" y1="291.80" x2="459.50" y2="291.80" stroke="#333" stroke-width="1" />
<text x="455.20" y="295.26" font-size="10.97" text-anchor="end" fill="#111" >100</text>
<line x1="456.20" y1="313.10" x2="459.50" y2="313.10" stroke="#333" stroke-width="1" />
<text x="455.20" y="316.56" font-size="10.97" text-anchor="end" fill="#111" >75</text>
<line x1="456.20" y1="334.40" x2="459.50" y2="334.40" stroke="#333" stroke-width="1" />
<text x="455.20" y="337.86" font-size="10.97" text-anchor="end" fill="#111" >50</text>
<line x1="456.20" y1="355.70" x2="459.50" y2="355.70" stroke="#333" stroke-width="1" />
<text x="455.20" y="359.16" font-size="10.97" text-anchor="end" fill="#111" >25</text>
<line x1="456.20" y1="377.00" x2="459.50" y2="377.00" stroke="#333" stroke-width="1" />
<text x="455.20" y="380.46" font-size="10.97" text-anchor="end" fill="#111" >0</text>
<line x1="456.20" y1="398.30" x2="459.50" y2="398.30" stroke="#333" stroke-width="1" />
<text x="455.20" y="401.76" font-size="10.97" text-anchor="end" fill="#111" >-25</text>
<line x1="459.50" y1="398.00" x2="679.00" y2="398.00" stroke="#333" stroke-width="1" />
<line x1="503.00" y1="398.00" x2="503.00" y2="401.50" stroke="#333" stroke-width="1" />
<line x1="546.30" y1="398.00" x2="546.30" y2="401.50" stroke="#333" stroke-width="1" />
<line x1="590.30" y1="398.00" x2="590.30" y2="401.50" stroke="#333" stroke-width="1" />
<line x1="634.00" y1="398.00" x2="634.00" y2="401.50" stroke="#333" stroke-width="1" />
<text x="481.50" y="410.33" font-size="11.49" text-anchor="middle" fill="#111" >Normal</text>
<text x="481.50" y="422.43" font-size="11.49" text-anchor="middle" fill="#111" >(n=11)</text>
<text x="525.20" y="410.33" font-size="11.49" text-anchor="middle" fill="#111" >Stage1</text>
<text x="525.20" y="422.43" font-size="11.49" text-anchor="middle" fill="#111" >(n=13)</text>
<text x="568.60" y="410.33" font-size="11.49" text-anchor="middle" fill="#111" >Stage2</text>
<text x="568.60" y="422.43" font-size="11.49" text-anchor="middle" fill="#111" >(n=78)</text>
<text x="612.70" y="410.33" font-size="11.49" text-anchor="middle" fill="#111" >Stage3</text>
<text x="612.70" y="422.43" font-size="11.49" text-anchor="middle" fill="#111" >(n=55)</text>
<text x="656.00" y="410.33" font-size="11.49" text-anchor="middle" fill="#111" >Stage4</text>
<text x="656.00" y="422.43" font-size="11.49" text-anchor="middle" fill="#111" >(n=9)</text>
<text transform="translate(434.90,334.30) rotate(-90)" x="0" y="0" font-size="11.49" text-anchor="middle" fill="#111">IFIT3 mRNA expression</text>
<line x1="481.35" y1="364.10" x2="481.35" y2="369.80" stroke="#333" stroke-width="0.8" stroke-dasharray="3.5,2"/>
<line x1="481.35" y1="374.20" x2="481.35" y2="375.50" stroke="#333" stroke-width="0.8" stroke-dasharray="3.5,2"/>
<line x1="476.35" y1="364.10" x2="486.35" y2="364.10" stroke="#333" stroke-width="1" />
<line x1="476.35" y1="375.50" x2="486.35" y2="375.50" stroke="#333" stroke-width="1" />
<rect x="470.80" y="369.80" width="21.10" height="4.40" fill="#4f5ff2" stroke="none" stroke-width="0" />
<line x1="470.80" y1="372.00" x2="491.90" y2="372.00" stroke="#333" stroke-width="0.6" />
<line x1="525.35" y1="357.40" x2="525.35" y2="360.70" stroke="#333" stroke-width="0.8" stroke-dasharray="3.5,2"/>
<line x1="525.35" y1="371.50" x2="525.35" y2="373.50" stroke="#333" stroke-width="0.8" stroke-dasharray="3.5,2"/>
<line x1="520.35" y1="357.40" x2="530.35" y2="357.40" stroke="#333" stroke-width="1" />
<line x1="520.35" y1="373.50" x2="530.35" y2="373.50" stroke="#333" stroke-width="1" />
<rect x="514.80" y="360.70" width="21.10" height="10.80" fill="#ec8a2c" stroke="none" stroke-width="0" />
<line x1="514.80" y1="368.10" x2="535.90" y2="368.10" stroke="#333" stroke-width="0.9" />
<line x1="569.15" y1="276.80" x2="569.15" y2="332.90" stroke="#333" stroke-width="0.8" stroke-dasharray="3.5,2"/>
<line x1="569.15" y1="363.40" x2="569.15" y2="374.20" stroke="#333" stroke-width="0.8" stroke-dasharray="3.5,2"/>
<line x1="564.15" y1="276.80" x2="574.15" y2="276.80" stroke="#333" stroke-width="1" />
<line x1="564.15" y1="374.20" x2="574.15" y2="374.20" stroke="#333" stroke-width="1" />
<rect x="558.40" y="332.90" width="21.50" height="30.50" fill="#b0713a" stroke="none" stroke-width="0" />
<line x1="558.40" y1="350.70" x2="579.90" y2="350.70" stroke="#333" stroke-width="0.9" />
<line x1="612.85" y1="295.90" x2="612.85" y2="338.20" stroke="#333" stroke-width="0.8" stroke-dasharray="3.5,2"/>
<line x1="612.85" y1="364.80" x2="612.85" y2="375.20" stroke="#333" stroke-width="0.8" stroke-dasharray="3.5,2"/>
<line x1="607.85" y1="295.90" x2="617.85" y2="295.90" stroke="#333" stroke-width="1" />
<line x1="607.85" y1="375.20" x2="617.85" y2="375.20" stroke="#333" stroke-width="1" />
<rect x="602.10" y="338.20" width="21.50" height="26.60" fill="#aee83a" stroke="none" stroke-width="0" />
<line x1="602.10" y1="355.40" x2="623.60" y2="355.40" stroke="#333" stroke-width="0.9" />
<line x1="656.45" y1="347.30" x2="656.45" y2="355.40" stroke="#333" stroke-width="0.8" stroke-dasharray="3.5,2"/>
<line x1="656.45" y1="359.40" x2="656.45" y2="374.20" stroke="#333" stroke-width="0.8" stroke-dasharray="3.5,2"/>
<line x1="651.45" y1="347.30" x2="661.45" y2="347.30" stroke="#333" stroke-width="1" />
<line x1="651.45" y1="374.20" x2="661.45" y2="374.20" stroke="#333" stroke-width="1" />
<rect x="645.70" y="355.40" width="21.50" height="4.00" fill="#f03a1e" stroke="none" stroke-width="0" />
<line x1="645.70" y1="357.40" x2="667.20" y2="357.40" stroke="#333" stroke-width="0.6" />
<line x1="473.20" y1="259.40" x2="661.00" y2="259.40" stroke="#444" stroke-width="1.1" />
<path d="M568.60,253.45L568.60,258.35M566.48,254.68L570.72,257.12M566.48,257.12L570.72,254.68" stroke="#111" stroke-width="1.05" fill="none"/><circle cx="568.60" cy="255.90" r="1.15" fill="#111"/>
<line x1="473.20" y1="266.00" x2="613.50" y2="266.00" stroke="#444" stroke-width="1.1" />
<path d="M539.30,260.45L539.30,265.35M537.18,261.67L541.42,264.12M537.18,264.12L541.42,261.67M545.50,260.45L545.50,265.35M543.38,261.67L547.62,264.12M543.38,264.12L547.62,261.67" stroke="#111" stroke-width="1.05" fill="none"/><circle cx="539.30" cy="262.90" r="1.15" fill="#111"/><circle cx="545.50" cy="262.90" r="1.15" fill="#111"/>
<line x1="473.20" y1="272.90" x2="569.00" y2="272.90" stroke="#999" stroke-width="1.1" />
<path d="M519.90,267.45L519.90,272.35M517.78,268.67L522.02,271.12M517.78,271.12L522.02,268.67M526.10,267.45L526.10,272.35M523.98,268.67L528.22,271.12M523.98,271.12L528.22,268.67M532.30,267.45L532.30,272.35M530.18,268.67L534.42,271.12M530.18,271.12L534.42,268.67" stroke="#111" stroke-width="1.05" fill="none"/><circle cx="519.90" cy="269.90" r="1.15" fill="#111"/><circle cx="526.10" cy="269.90" r="1.15" fill="#111"/><circle cx="532.30" cy="269.90" r="1.15" fill="#111"/>
<defs><filter id="sb" x="0" y="0" width="100%" height="100%" color-interpolation-filters="sRGB"><feTurbulence type="fractalNoise" baseFrequency="0.55" numOctaves="2" seed="41"/><feColorMatrix type="matrix" values="0 0 0 0 0.549  0 0 0 0 0.392  0 0 0 0 0.361  2.6 0 0 0 -1.05"/></filter><filter id="sb2" x="0" y="0" width="100%" height="100%" color-interpolation-filters="sRGB"><feTurbulence type="fractalNoise" baseFrequency="0.55" numOctaves="2" seed="44"/><feColorMatrix type="matrix" values="0 0 0 0 0.549  0 0 0 0 0.392  0 0 0 0 0.361  2.6 0 0 0 -0.95"/></filter><filter id="sw" x="0" y="0" width="100%" height="100%" color-interpolation-filters="sRGB"><feTurbulence type="fractalNoise" baseFrequency="0.65" numOctaves="2" seed="42"/><feColorMatrix type="matrix" values="0 0 0 0 0.941  0 0 0 0 0.925  0 0 0 0 0.949  2.6 0 0 0 -1.05"/></filter><filter id="sp" x="0" y="0" width="100%" height="100%" color-interpolation-filters="sRGB"><feTurbulence type="fractalNoise" baseFrequency="0.6" numOctaves="2" seed="43"/><feColorMatrix type="matrix" values="0 0 0 0 0.549  0 0 0 0 0.529  0 0 0 0 0.765  2.6 0 0 0 -1.1"/></filter><filter id="tp" x="0" y="0" width="100%" height="100%" color-interpolation-filters="sRGB"><feTurbulence type="fractalNoise" baseFrequency="0.1" numOctaves="3" seed="51"/><feColorMatrix type="matrix" values="0 0 0 0 0.635  0 0 0 0 0.424  0 0 0 0 0.337  4.5 0 0 0 -1.9"/></filter><filter id="mp" x="0" y="0" width="100%" height="100%" color-interpolation-filters="sRGB"><feTurbulence type="fractalNoise" baseFrequency="0.06" numOctaves="3" seed="52"/><feColorMatrix type="matrix" values="0 0 0 0 0.588  0 0 0 0 0.384  0 0 0 0 0.306  4.5 0 0 0 -1.7"/></filter><filter id="ipb" x="0" y="0" width="100%" height="100%" color-interpolation-filters="sRGB"><feTurbulence type="fractalNoise" baseFrequency="0.12" numOctaves="2" seed="53"/><feColorMatrix type="matrix" values="0 0 0 0 0.620  0 0 0 0 0.416  0 0 0 0 0.345  5.5 0 0 0 -2.7"/></filter><radialGradient id="ringb" cx="0.5" cy="0.5" r="0.5"><stop offset="0.55" stop-color="#8a6660" stop-opacity="0"/><stop offset="1" stop-color="#8a6660" stop-opacity="0.3"/></radialGradient><filter id="bl4" x="-20%" y="-20%" width="140%" height="140%"><feGaussianBlur stdDeviation="3.5"/></filter><filter id="bl2" x="-20%" y="-20%" width="140%" height="140%"><feGaussianBlur stdDeviation="1.6"/></filter></defs>
<text x="3.70" y="473.52" font-size="13.06" text-anchor="start" fill="#111" >G</text>
<text x="108.00" y="490.23" font-size="11.49" text-anchor="middle" fill="#111" >IFIT3</text>
<line x1="12.80" y1="494.00" x2="203.00" y2="494.00" stroke="#555" stroke-width="1" />
<text x="61.00" y="504.03" font-size="11.49" text-anchor="middle" fill="#111" >Normal</text>
<text x="159.00" y="504.03" font-size="11.49" text-anchor="middle" fill="#111" >Tumor</text>
<rect x="12.90" y="508.20" width="191.30" height="95.40" fill="#f6f6f6" stroke="none" stroke-width="0" />
<clipPath id="clip61_555"><circle cx="61.2" cy="555.8" r="46.3"/></clipPath><g clip-path="url(#clip61_555)"><rect x="13.900000000000006" y="508.49999999999994" width="94.6" height="94.6" fill="#dcd9ec"/><g filter="url(#bl2)"><ellipse cx="79" cy="556" rx="6" ry="11" fill="#8e88c4" opacity="0.7" transform="rotate(15 79 556)"/><ellipse cx="100.5" cy="566" rx="4" ry="12" fill="#8e88c4" opacity="0.65"/><ellipse cx="90" cy="540" rx="4" ry="8" fill="#b4aed6" opacity="0.6"/><ellipse cx="24.6" cy="556" rx="3" ry="6" fill="#a08890" opacity="0.5"/><ellipse cx="19" cy="566" rx="2.5" ry="5" fill="#a08890" opacity="0.5"/><ellipse cx="44" cy="588" rx="3" ry="5" fill="#a08890" opacity="0.45"/><ellipse cx="30" cy="528" rx="3" ry="6" fill="#a08890" opacity="0.35"/><ellipse cx="24.6" cy="556" rx="1.8" ry="4" fill="#f4f0ee" opacity="0.9"/><ellipse cx="33" cy="530" rx="1.5" ry="3" fill="#f4f0ee" opacity="0.9"/></g><rect x="13.900000000000006" y="508.49999999999994" width="94.6" height="94.6" filter="url(#sp)" opacity="0.25"/><rect x="13.900000000000006" y="508.49999999999994" width="94.6" height="94.6" filter="url(#sw)" opacity="0.55"/><g filter="url(#bl2)" fill="none" stroke="#f7f6f9" stroke-linecap="round"><path d="M63,512 Q50,540 39,578" stroke-width="4" opacity="0.9"/><path d="M93,526 Q75,545 66,563 Q72,580 78,595" stroke-width="3.2" opacity="0.85"/><path d="M85,538 L84,548" stroke-width="4" opacity="0.9"/><path d="M30,545 Q45,548 58,560" stroke-width="1.5" opacity="0.7"/></g></g>
<clipPath id="clip157_555"><circle cx="157" cy="555.8" r="46.3"/></clipPath><g clip-path="url(#clip157_555)"><rect x="109.7" y="508.49999999999994" width="94.6" height="94.6" fill="#cdbfcc"/><g filter="url(#bl4)"><ellipse cx="150" cy="550" rx="12" ry="40" fill="#ddd0dc" opacity="0.8" transform="rotate(35 150 550)"/><ellipse cx="170" cy="565" rx="6" ry="30" fill="#ddd0dc" opacity="0.7" transform="rotate(40 170 565)"/><ellipse cx="135" cy="530" rx="8" ry="16" fill="#957066" opacity="0.6" transform="rotate(30 135 530)"/><ellipse cx="180" cy="540" rx="8" ry="18" fill="#957066" opacity="0.6" transform="rotate(30 180 540)"/><ellipse cx="160" cy="585" rx="12" ry="8" fill="#957066" opacity="0.6"/></g><rect x="109.7" y="508.49999999999994" width="94.6" height="94.6" filter="url(#tp)" opacity="0.85"/><rect x="109.7" y="508.49999999999994" width="94.6" height="94.6" filter="url(#sb)" opacity="0.5"/><rect x="109.7" y="508.49999999999994" width="94.6" height="94.6" filter="url(#sw)" opacity="0.5"/><circle cx="157" cy="555.8" r="46.3" fill="url(#ringb)"/></g>
<line x1="90.00" y1="599.60" x2="105.00" y2="599.60" stroke="#444" stroke-width="1.4" />
<line x1="185.60" y1="599.60" x2="201.70" y2="599.60" stroke="#444" stroke-width="1.4" />
<text x="3.40" y="646.62" font-size="13.06" text-anchor="start" fill="#111" >I</text>
<text x="108.20" y="683.43" font-size="11.49" text-anchor="middle" fill="#111" >IFIT3</text>
<line x1="12.80" y1="686.80" x2="203.50" y2="686.80" stroke="#555" stroke-width="1" />
<text x="61.00" y="696.93" font-size="11.49" text-anchor="middle" fill="#111" >Tumor</text>
<text x="159.00" y="696.93" font-size="11.49" text-anchor="middle" fill="#111" >Metastasis</text>
<rect x="12.90" y="700.60" width="191.30" height="96.40" fill="#f6f6f6" stroke="none" stroke-width="0" />
<clipPath id="clip60_749"><circle cx="60.9" cy="749.1" r="46.2"/></clipPath><g clip-path="url(#clip60_749)"><rect x="13.699999999999996" y="701.9" width="94.4" height="94.4" fill="#b4b0da"/><g filter="url(#bl4)"><ellipse cx="74" cy="716" rx="34" ry="15" fill="#957066" opacity="0.75"/><ellipse cx="96" cy="738" rx="9" ry="18" fill="#957066" opacity="0.45"/><ellipse cx="20" cy="768" rx="8" ry="14" fill="#957066" opacity="0.7"/><ellipse cx="58" cy="789" rx="46" ry="14" fill="#e6e0ea" opacity="0.9"/><ellipse cx="40" cy="772" rx="22" ry="8" fill="#e6e0ea" opacity="0.5"/><ellipse cx="48" cy="740" rx="10" ry="8" fill="#a49cd0" opacity="0.6"/></g><rect x="13.699999999999996" y="701.9" width="94.4" height="94.4" filter="url(#sb2)" opacity="0.6"/><rect x="13.699999999999996" y="701.9" width="94.4" height="94.4" filter="url(#sw)" opacity="0.6"/></g>
<clipPath id="clip156_748"><circle cx="156.7" cy="748.6" r="46.2"/></clipPath><g clip-path="url(#clip156_748)"><rect x="109.49999999999999" y="701.4" width="94.4" height="94.4" fill="#b6a2a6"/><g filter="url(#bl4)"><ellipse cx="180" cy="742" rx="16" ry="14" fill="#8a5a48" opacity="0.6"/><ellipse cx="152" cy="770" rx="20" ry="13" fill="#8a5a48" opacity="0.5"/><ellipse cx="140" cy="735" rx="12" ry="10" fill="#8a5a48" opacity="0.45"/><ellipse cx="170" cy="725" rx="16" ry="8" fill="#8a5a48" opacity="0.4"/><ellipse cx="126" cy="780" rx="14" ry="12" fill="#d6c8cc" opacity="0.7"/><ellipse cx="197" cy="760" rx="7" ry="26" fill="#d6c8cc" opacity="0.6"/><ellipse cx="170" cy="712" rx="18" ry="6" fill="#d6c8cc" opacity="0.6"/><ellipse cx="150" cy="706" rx="16" ry="5" fill="#f6f2f2" opacity="0.9"/></g><rect x="109.49999999999999" y="701.4" width="94.4" height="94.4" filter="url(#mp)" opacity="0.9"/><rect x="109.49999999999999" y="701.4" width="94.4" height="94.4" filter="url(#sb)" opacity="0.6"/><rect x="109.49999999999999" y="701.4" width="94.4" height="94.4" filter="url(#sw)" opacity="0.5"/><path d="M126,714 Q118,724 123,743 Q130,731 137,718 Z" fill="#f6f6f8"/><ellipse cx="119" cy="733" rx="8" ry="9" fill="#aaa8d6"/><ellipse cx="119" cy="733" rx="8" ry="9" fill="#ffffff" filter="url(#sw)" opacity="0.5"/></g>
<line x1="90.50" y1="793.80" x2="106.00" y2="793.80" stroke="#444" stroke-width="1.4" />
<line x1="185.60" y1="793.80" x2="201.70" y2="793.80" stroke="#444" stroke-width="1.4" />
<text x="206.00" y="472.52" font-size="13.06" text-anchor="start" fill="#111" >H</text>
<rect x="256.30" y="461.60" width="16.30" height="5.90" fill="#a2a2a6" stroke="none" stroke-width="0" />
<text x="276.20" y="468.13" font-size="11.49" text-anchor="start" fill="#111" >Positive</text>
<rect x="317.00" y="462.20" width="17.20" height="5.40" fill="#000" stroke="none" stroke-width="0" />
<text x="337.50" y="468.13" font-size="11.49" text-anchor="start" fill="#111" >Negative</text>
<text x="316.30" y="480.63" font-size="11.49" text-anchor="middle" fill="#111" ><tspan font-style="italic">p</tspan>&lt;0.0001</text>
<line x1="260.40" y1="482.40" x2="260.40" y2="607.20" stroke="#333" stroke-width="1" />
<line x1="256.60" y1="607.20" x2="260.40" y2="607.20" stroke="#333" stroke-width="1" />
<text x="255.30" y="610.83" font-size="11.49" text-anchor="end" fill="#111" >0</text>
<line x1="256.60" y1="582.24" x2="260.40" y2="582.24" stroke="#333" stroke-width="1" />
<text x="255.30" y="585.87" font-size="11.49" text-anchor="end" fill="#111" >20</text>
<line x1="256.60" y1="557.28" x2="260.40" y2="557.28" stroke="#333" stroke-width="1" />
<text x="255.30" y="560.91" font-size="11.49" text-anchor="end" fill="#111" >40</text>
<line x1="256.60" y1="532.32" x2="260.40" y2="532.32" stroke="#333" stroke-width="1" />
<text x="255.30" y="535.95" font-size="11.49" text-anchor="end" fill="#111" >60</text>
<line x1="256.60" y1="507.36" x2="260.40" y2="507.36" stroke="#333" stroke-width="1" />
<text x="255.30" y="510.99" font-size="11.49" text-anchor="end" fill="#111" >80</text>
<line x1="256.60" y1="482.40" x2="260.40" y2="482.40" stroke="#333" stroke-width="1" />
<text x="255.30" y="486.03" font-size="11.49" text-anchor="end" fill="#111" >100</text>
<line x1="260.40" y1="607.20" x2="373.60" y2="607.20" stroke="#333" stroke-width="1" />
<rect x="277.10" y="516.47" width="32.60" height="90.73" fill="#000" stroke="none" stroke-width="0" />
<rect x="277.10" y="482.40" width="32.60" height="34.07" fill="#a2a2a6" stroke="none" stroke-width="0" />
<text x="293.40" y="506.43" font-size="11.49" text-anchor="middle" fill="#222" >n=21</text>
<text x="293.40" y="567.03" font-size="11.49" text-anchor="middle" fill="#fff" >n=56</text>
<line x1="293.40" y1="607.20" x2="293.40" y2="612.20" stroke="#333" stroke-width="1" />
<text x="293.40" y="622.03" font-size="11.49" text-anchor="middle" fill="#111" >Normal</text>
<text x="293.40" y="635.23" font-size="11.49" text-anchor="middle" fill="#111" >(n=77)</text>
<rect x="325.00" y="587.61" width="33.00" height="19.59" fill="#000" stroke="none" stroke-width="0" />
<rect x="325.00" y="482.40" width="33.00" height="105.21" fill="#a2a2a6" stroke="none" stroke-width="0" />
<text x="341.50" y="538.63" font-size="11.49" text-anchor="middle" fill="#222" >n=134</text>
<text x="341.50" y="601.63" font-size="11.49" text-anchor="middle" fill="#fff" >n=25</text>
<line x1="341.50" y1="607.20" x2="341.50" y2="612.20" stroke="#333" stroke-width="1" />
<text x="341.50" y="622.03" font-size="11.49" text-anchor="middle" fill="#111" >Tumor</text>
<text x="341.50" y="635.23" font-size="11.49" text-anchor="middle" fill="#111" >(n=159)</text>
<text transform="translate(234.60,543.00) rotate(-90)" x="0" y="0" font-size="11.49" text-anchor="middle" fill="#111">Percentage of subjects (%)</text>
<text x="208.40" y="645.62" font-size="13.06" text-anchor="start" fill="#111" >J</text>
<rect x="230.00" y="657.30" width="16.70" height="5.60" fill="#a2a2a6" stroke="none" stroke-width="0" />
<text x="250.20" y="663.63" font-size="11.49" text-anchor="start" fill="#111" >Strong</text>
<rect x="284.00" y="657.30" width="16.70" height="5.60" fill="#5a5a5a" stroke="none" stroke-width="0" />
<text x="303.60" y="663.63" font-size="11.49" text-anchor="start" fill="#111" >Moderate</text>
<rect x="351.20" y="657.30" width="17.60" height="5.60" fill="#000" stroke="none" stroke-width="0" />
<text x="372.30" y="663.63" font-size="11.49" text-anchor="start" fill="#111" >Weak</text>
<text x="318.20" y="675.93" font-size="11.49" text-anchor="middle" fill="#111" ><tspan font-style="italic">p</tspan>&lt;0.0001</text>
<line x1="260.40" y1="677.60" x2="260.40" y2="803.10" stroke="#333" stroke-width="1" />
<line x1="256.60" y1="803.10" x2="260.40" y2="803.10" stroke="#333" stroke-width="1" />
<text x="255.30" y="806.73" font-size="11.49" text-anchor="end" fill="#111" >0</text>
<line x1="256.60" y1="778.00" x2="260.40" y2="778.00" stroke="#333" stroke-width="1" />
<text x="255.30" y="781.63" font-size="11.49" text-anchor="end" fill="#111" >20</text>
<line x1="256.60" y1="752.90" x2="260.40" y2="752.90" stroke="#333" stroke-width="1" />
<text x="255.30" y="756.53" font-size="11.49" text-anchor="end" fill="#111" >40</text>
<line x1="256.60" y1="727.80" x2="260.40" y2="727.80" stroke="#333" stroke-width="1" />
<text x="255.30" y="731.43" font-size="11.49" text-anchor="end" fill="#111" >60</text>
<line x1="256.60" y1="702.70" x2="260.40" y2="702.70" stroke="#333" stroke-width="1" />
<text x="255.30" y="706.33" font-size="11.49" text-anchor="end" fill="#111" >80</text>
<line x1="256.60" y1="677.60" x2="260.40" y2="677.60" stroke="#333" stroke-width="1" />
<text x="255.30" y="681.23" font-size="11.49" text-anchor="end" fill="#111" >100</text>
<line x1="260.40" y1="803.10" x2="373.60" y2="803.10" stroke="#333" stroke-width="1" />
<rect x="276.50" y="722.53" width="32.10" height="80.57" fill="#000" stroke="none" stroke-width="0" />
<rect x="276.50" y="690.90" width="32.10" height="31.63" fill="#5a5a5a" stroke="none" stroke-width="0" />
<rect x="276.50" y="677.60" width="32.10" height="13.30" fill="#a2a2a6" stroke="none" stroke-width="0" />
<text x="292.55" y="689.13" font-size="11.49" text-anchor="middle" fill="#222" >n=17</text>
<text x="292.55" y="710.13" font-size="11.49" text-anchor="middle" fill="#222" >n=40</text>
<text x="292.55" y="762.93" font-size="11.49" text-anchor="middle" fill="#fff" >n=102</text>
<line x1="292.55" y1="803.10" x2="292.55" y2="808.10" stroke="#333" stroke-width="1" />
<text x="292.55" y="817.93" font-size="11.49" text-anchor="middle" fill="#111" >Tumor</text>
<text x="292.55" y="831.13" font-size="11.49" text-anchor="middle" fill="#111" >(n=159)</text>
<rect x="325.00" y="752.90" width="32.10" height="50.20" fill="#000" stroke="none" stroke-width="0" />
<rect x="325.00" y="731.44" width="32.10" height="21.46" fill="#5a5a5a" stroke="none" stroke-width="0" />
<rect x="325.00" y="677.60" width="32.10" height="53.84" fill="#a2a2a6" stroke="none" stroke-width="0" />
<text x="341.05" y="711.03" font-size="11.49" text-anchor="middle" fill="#222" >n=15</text>
<text x="341.05" y="746.93" font-size="11.49" text-anchor="middle" fill="#222" >n=6</text>
<text x="341.05" y="778.73" font-size="11.49" text-anchor="middle" fill="#fff" >n=14</text>
<line x1="341.05" y1="803.10" x2="341.05" y2="808.10" stroke="#333" stroke-width="1" />
<text x="341.05" y="817.93" font-size="11.49" text-anchor="middle" fill="#111" >Metastasis</text>
<text x="341.05" y="831.13" font-size="11.49" text-anchor="middle" fill="#111" >(n=35)</text>
<text transform="translate(234.30,738.00) rotate(-90)" x="0" y="0" font-size="11.49" text-anchor="middle" fill="#111">Percentage of subjects (%)</text>
<text x="422.00" y="473.02" font-size="13.06" text-anchor="start" fill="#111" >K</text>
<circle cx="476.90" cy="453.10" r="3" fill="#7fd6de" stroke="none" stroke-width="0"/>
<text x="482.40" y="456.73" font-size="11.49" text-anchor="start" fill="#111" >Normal</text>
<circle cx="523.60" cy="453.10" r="3" fill="#2b2bea" stroke="none" stroke-width="0"/>
<text x="529.10" y="456.73" font-size="11.49" text-anchor="start" fill="#111" >Tumor</text>
<circle cx="566.20" cy="453.10" r="3" fill="#e8332a" stroke="none" stroke-width="0"/>
<text x="571.70" y="456.73" font-size="11.49" text-anchor="start" fill="#111" >Metastasis</text>
<line x1="455.40" y1="614.10" x2="637.40" y2="614.10" stroke="#ebebeb" stroke-width="0.8" />
<line x1="455.40" y1="582.60" x2="637.40" y2="582.60" stroke="#ebebeb" stroke-width="0.8" />
<line x1="455.40" y1="551.10" x2="637.40" y2="551.10" stroke="#ebebeb" stroke-width="0.8" />
<line x1="455.40" y1="519.60" x2="637.40" y2="519.60" stroke="#ebebeb" stroke-width="0.8" />
<line x1="455.40" y1="488.10" x2="637.40" y2="488.10" stroke="#ebebeb" stroke-width="0.8" />
<line x1="546.30" y1="460.50" x2="546.30" y2="636.40" stroke="#ececec" stroke-width="0.8" />
<line x1="452.10" y1="614.10" x2="455.40" y2="614.10" stroke="#333" stroke-width="1" />
<text x="450.80" y="617.73" font-size="11.49" text-anchor="end" fill="#111" >0</text>
<line x1="452.10" y1="582.60" x2="455.40" y2="582.60" stroke="#333" stroke-width="1" />
<text x="450.80" y="586.23" font-size="11.49" text-anchor="end" fill="#111" >5</text>
<line x1="452.10" y1="551.10" x2="455.40" y2="551.10" stroke="#333" stroke-width="1" />
<text x="450.80" y="554.73" font-size="11.49" text-anchor="end" fill="#111" >10</text>
<line x1="452.10" y1="519.60" x2="455.40" y2="519.60" stroke="#333" stroke-width="1" />
<text x="450.80" y="523.23" font-size="11.49" text-anchor="end" fill="#111" >15</text>
<line x1="452.10" y1="488.10" x2="455.40" y2="488.10" stroke="#333" stroke-width="1" />
<text x="450.80" y="491.73" font-size="11.49" text-anchor="end" fill="#111" >20</text>
<text transform="translate(437.60,551.60) rotate(-90)" x="0" y="0" font-size="11.00" text-anchor="middle" fill="#111">IFIT3 Staining</text>
<line x1="451.40" y1="460.50" x2="455.40" y2="460.50" stroke="#333" stroke-width="1" />
<line x1="546.30" y1="636.40" x2="546.30" y2="640.00" stroke="#333" stroke-width="1" />
<text x="546.30" y="651.63" font-size="11.49" text-anchor="middle" fill="#111" >Group</text>
<path d="M546.60,522.50 C546.90,525.42 547.35,533.75 547.80,540.00 C548.25,546.25 548.58,554.72 549.30,560.00 C550.02,565.28 551.02,568.05 552.10,571.70 C553.18,575.35 554.22,578.98 555.80,581.90 C557.38,584.82 559.73,586.52 561.60,589.20 C563.47,591.88 565.78,595.57 567.00,598.00 C568.22,600.43 568.95,601.62 568.90,603.80 C568.85,605.98 568.28,608.67 566.70,611.10 C565.12,613.53 561.83,615.97 559.40,618.40 C556.97,620.83 554.23,623.77 552.10,625.70 C549.97,627.63 547.62,629.28 546.60,630.00 C545.58,630.72 547.02,630.72 546.00,630.00 C544.98,629.28 542.63,627.63 540.50,625.70 C538.37,623.77 535.63,620.83 533.20,618.40 C530.77,615.97 527.48,613.53 525.90,611.10 C524.32,608.67 523.75,605.98 523.70,603.80 C523.65,601.62 524.38,600.43 525.60,598.00 C526.82,595.57 529.13,591.88 531.00,589.20 C532.87,586.52 535.22,584.82 536.80,581.90 C538.38,578.98 539.42,575.35 540.50,571.70 C541.58,568.05 542.58,565.28 543.30,560.00 C544.02,554.72 544.35,546.25 544.80,540.00 C545.25,533.75 545.70,525.42 546.00,522.50 C546.30,519.58 546.30,519.58 546.60,522.50 Z" fill="#7a7af6" stroke="#333" stroke-width="0.6" />
<path d="M602.70,538.20 C603.63,538.93 606.33,540.82 607.70,542.60 C609.07,544.38 610.05,546.80 610.90,548.90 C611.75,551.00 612.58,553.42 612.80,555.20 C613.02,556.98 612.73,558.23 612.20,559.60 C611.67,560.97 609.30,562.03 609.60,563.40 C609.90,564.77 612.87,566.02 614.00,567.80 C615.13,569.58 616.15,572.02 616.40,574.10 C616.65,576.18 616.10,578.42 615.50,580.30 C614.90,582.18 613.57,584.03 612.80,585.40 C612.03,586.77 610.33,587.25 610.90,588.50 C611.47,589.75 614.63,591.32 616.20,592.90 C617.77,594.48 618.98,596.32 620.30,598.00 C621.62,599.68 623.37,601.65 624.10,603.00 C624.83,604.35 625.02,604.83 624.70,606.10 C624.38,607.37 623.30,609.02 622.20,610.60 C621.10,612.18 619.72,613.93 618.10,615.60 C616.48,617.27 614.48,618.92 612.50,620.60 C610.52,622.28 607.83,624.55 606.20,625.70 C604.57,626.85 603.38,627.20 602.70,627.50 C602.02,627.80 602.78,627.80 602.10,627.50 C601.42,627.20 600.23,626.85 598.60,625.70 C596.97,624.55 594.28,622.28 592.30,620.60 C590.32,618.92 588.32,617.27 586.70,615.60 C585.08,613.93 583.70,612.18 582.60,610.60 C581.50,609.02 580.42,607.37 580.10,606.10 C579.78,604.83 579.97,604.35 580.70,603.00 C581.43,601.65 583.18,599.68 584.50,598.00 C585.82,596.32 587.03,594.48 588.60,592.90 C590.17,591.32 593.33,589.75 593.90,588.50 C594.47,587.25 592.77,586.77 592.00,585.40 C591.23,584.03 589.90,582.18 589.30,580.30 C588.70,578.42 588.15,576.18 588.40,574.10 C588.65,572.02 589.67,569.58 590.80,567.80 C591.93,566.02 594.90,564.77 595.20,563.40 C595.50,562.03 593.13,560.97 592.60,559.60 C592.07,558.23 591.78,556.98 592.00,555.20 C592.22,553.42 593.05,551.00 593.90,548.90 C594.75,546.80 595.73,544.38 597.10,542.60 C598.47,540.82 601.17,538.93 602.10,538.20 C603.03,537.47 601.77,537.47 602.70,538.20 Z" fill="#ef7676" stroke="#333" stroke-width="0.6" />
<path d="M490.50,598.50 C490.97,598.67 492.18,599.08 492.70,599.50 C493.22,599.92 493.45,600.42 493.60,601.00 C493.75,601.58 493.77,602.42 493.60,603.00 C493.43,603.58 492.83,604.08 492.60,604.50 C492.37,604.92 492.27,604.42 492.20,605.50 C492.13,606.58 491.53,609.87 492.20,611.00 C492.87,612.13 494.20,611.97 496.20,612.30 C498.20,612.63 501.87,612.78 504.20,613.00 C506.53,613.22 508.77,613.40 510.20,613.60 C511.63,613.80 512.80,613.98 512.80,614.20 C512.80,614.42 511.63,614.68 510.20,614.90 C508.77,615.12 506.53,615.30 504.20,615.50 C501.87,615.70 498.48,615.92 496.20,616.10 C493.92,616.28 491.55,616.52 490.50,616.60 C489.45,616.68 490.95,616.68 489.90,616.60 C488.85,616.52 486.48,616.28 484.20,616.10 C481.92,615.92 478.53,615.70 476.20,615.50 C473.87,615.30 471.63,615.12 470.20,614.90 C468.77,614.68 467.60,614.42 467.60,614.20 C467.60,613.98 468.77,613.80 470.20,613.60 C471.63,613.40 473.87,613.22 476.20,613.00 C478.53,612.78 482.20,612.63 484.20,612.30 C486.20,611.97 487.53,612.13 488.20,611.00 C488.87,609.87 488.27,606.58 488.20,605.50 C488.13,604.42 488.03,604.92 487.80,604.50 C487.57,604.08 486.97,603.58 486.80,603.00 C486.63,602.42 486.65,601.58 486.80,601.00 C486.95,600.42 487.18,599.92 487.70,599.50 C488.22,599.08 489.43,598.67 489.90,598.50 C490.37,598.33 490.03,598.33 490.50,598.50 Z" fill="#a8eef2" stroke="#222" stroke-width="0.7" />
<g fill="#111"><circle cx="560.1" cy="613.9" r="0.55"/><circle cx="525.6" cy="614.1" r="0.55"/><circle cx="526.9" cy="614.1" r="0.55"/><circle cx="560.1" cy="614.2" r="0.55"/><circle cx="544.4" cy="613.7" r="0.55"/><circle cx="546.9" cy="613.8" r="0.55"/><circle cx="553.3" cy="613.8" r="0.55"/><circle cx="550.0" cy="614.0" r="0.55"/><circle cx="540.3" cy="614.2" r="0.55"/><circle cx="530.2" cy="613.8" r="0.55"/><circle cx="567.5" cy="614.0" r="0.55"/><circle cx="562.7" cy="614.4" r="0.55"/><circle cx="545.4" cy="613.8" r="0.55"/><circle cx="526.8" cy="614.4" r="0.55"/><circle cx="527.9" cy="614.1" r="0.55"/><circle cx="548.0" cy="613.8" r="0.55"/><circle cx="544.8" cy="613.8" r="0.55"/><circle cx="548.0" cy="614.1" r="0.55"/><circle cx="539.9" cy="613.9" r="0.55"/><circle cx="541.7" cy="613.9" r="0.55"/><circle cx="528.4" cy="613.9" r="0.55"/><circle cx="564.1" cy="614.1" r="0.55"/><circle cx="565.0" cy="613.7" r="0.55"/><circle cx="567.6" cy="614.1" r="0.55"/><circle cx="560.3" cy="614.2" r="0.55"/><circle cx="555.4" cy="613.9" r="0.55"/><circle cx="558.3" cy="607.5" r="0.55"/><circle cx="535.0" cy="607.4" r="0.55"/><circle cx="541.2" cy="607.8" r="0.55"/><circle cx="536.3" cy="608.1" r="0.55"/><circle cx="526.3" cy="607.9" r="0.55"/><circle cx="533.5" cy="607.9" r="0.55"/><circle cx="559.9" cy="608.0" r="0.55"/><circle cx="525.3" cy="607.6" r="0.55"/><circle cx="551.1" cy="608.2" r="0.55"/><circle cx="524.3" cy="607.9" r="0.55"/><circle cx="555.5" cy="608.1" r="0.55"/><circle cx="538.7" cy="608.0" r="0.55"/><circle cx="544.5" cy="608.1" r="0.55"/><circle cx="522.8" cy="608.2" r="0.55"/><circle cx="542.1" cy="607.7" r="0.55"/><circle cx="526.5" cy="607.6" r="0.55"/><circle cx="557.5" cy="607.9" r="0.55"/><circle cx="529.6" cy="607.7" r="0.55"/><circle cx="529.0" cy="607.6" r="0.55"/><circle cx="532.8" cy="607.7" r="0.55"/><circle cx="569.1" cy="608.2" r="0.55"/><circle cx="560.3" cy="607.8" r="0.55"/><circle cx="546.2" cy="608.0" r="0.55"/><circle cx="565.9" cy="608.0" r="0.55"/><circle cx="552.8" cy="604.4" r="0.55"/><circle cx="552.3" cy="604.9" r="0.55"/><circle cx="560.1" cy="604.3" r="0.55"/><circle cx="556.7" cy="604.5" r="0.55"/><circle cx="530.1" cy="605.0" r="0.55"/><circle cx="554.6" cy="604.8" r="0.55"/><circle cx="528.8" cy="604.9" r="0.55"/><circle cx="567.3" cy="605.0" r="0.55"/><circle cx="558.1" cy="604.9" r="0.55"/><circle cx="560.8" cy="604.7" r="0.55"/><circle cx="543.2" cy="604.9" r="0.55"/><circle cx="560.0" cy="604.9" r="0.55"/><circle cx="536.7" cy="605.0" r="0.55"/><circle cx="547.8" cy="605.0" r="0.55"/><circle cx="527.9" cy="605.0" r="0.55"/><circle cx="560.1" cy="604.5" r="0.55"/><circle cx="562.5" cy="604.4" r="0.55"/><circle cx="531.8" cy="604.6" r="0.55"/><circle cx="533.7" cy="604.6" r="0.55"/><circle cx="565.9" cy="604.8" r="0.55"/><circle cx="556.4" cy="604.6" r="0.55"/><circle cx="559.9" cy="604.9" r="0.55"/><circle cx="555.1" cy="601.9" r="0.55"/><circle cx="561.9" cy="601.4" r="0.55"/><circle cx="526.5" cy="601.6" r="0.55"/><circle cx="562.4" cy="601.4" r="0.55"/><circle cx="550.9" cy="601.8" r="0.55"/><circle cx="560.4" cy="601.1" r="0.55"/><circle cx="545.8" cy="601.1" r="0.55"/><circle cx="527.6" cy="601.7" r="0.55"/><circle cx="542.4" cy="601.6" r="0.55"/><circle cx="544.3" cy="601.4" r="0.55"/><circle cx="532.6" cy="601.4" r="0.55"/><circle cx="562.8" cy="601.6" r="0.55"/><circle cx="536.3" cy="601.2" r="0.55"/><circle cx="535.3" cy="601.7" r="0.55"/><circle cx="543.5" cy="601.6" r="0.55"/><circle cx="561.0" cy="601.2" r="0.55"/><circle cx="555.1" cy="601.1" r="0.55"/><circle cx="561.8" cy="601.2" r="0.55"/><circle cx="535.3" cy="601.9" r="0.55"/><circle cx="539.7" cy="601.3" r="0.55"/><circle cx="565.0" cy="595.3" r="0.55"/><circle cx="565.2" cy="595.1" r="0.55"/><circle cx="546.3" cy="595.6" r="0.55"/><circle cx="546.6" cy="595.6" r="0.55"/><circle cx="531.4" cy="595.5" r="0.55"/><circle cx="530.1" cy="595.2" r="0.55"/><circle cx="522.3" cy="594.9" r="0.55"/><circle cx="567.7" cy="595.2" r="0.55"/><circle cx="561.2" cy="595.0" r="0.55"/><circle cx="539.2" cy="594.9" r="0.55"/><circle cx="548.8" cy="595.5" r="0.55"/><circle cx="547.0" cy="595.1" r="0.55"/><circle cx="566.9" cy="595.5" r="0.55"/><circle cx="554.3" cy="594.9" r="0.55"/><circle cx="552.3" cy="595.2" r="0.55"/><circle cx="568.3" cy="595.1" r="0.55"/><circle cx="551.5" cy="589.0" r="0.55"/><circle cx="542.3" cy="588.9" r="0.55"/><circle cx="551.9" cy="589.2" r="0.55"/><circle cx="546.2" cy="588.8" r="0.55"/><circle cx="561.5" cy="588.5" r="0.55"/><circle cx="557.0" cy="589.0" r="0.55"/><circle cx="548.1" cy="588.9" r="0.55"/><circle cx="554.3" cy="589.2" r="0.55"/><circle cx="553.6" cy="589.1" r="0.55"/><circle cx="531.4" cy="588.8" r="0.55"/><circle cx="534.7" cy="583.0" r="0.55"/><circle cx="558.8" cy="582.3" r="0.55"/><circle cx="549.1" cy="582.7" r="0.55"/><circle cx="531.8" cy="582.5" r="0.55"/><circle cx="554.2" cy="582.7" r="0.55"/><circle cx="539.3" cy="582.8" r="0.55"/><circle cx="539.6" cy="576.3" r="0.55"/><circle cx="543.8" cy="576.7" r="0.55"/><circle cx="551.1" cy="576.5" r="0.55"/><circle cx="551.9" cy="576.2" r="0.55"/><circle cx="561.1" cy="570.2" r="0.55"/><circle cx="552.4" cy="569.8" r="0.55"/><circle cx="535.5" cy="563.8" r="0.55"/><circle cx="556.7" cy="563.9" r="0.55"/><circle cx="541.4" cy="557.1" r="0.55"/><circle cx="546.8" cy="557.7" r="0.55"/><circle cx="535.5" cy="551.3" r="0.55"/><circle cx="535.8" cy="538.3" r="0.55"/><circle cx="591.7" cy="613.9" r="0.55"/><circle cx="599.6" cy="614.5" r="0.55"/><circle cx="613.5" cy="613.8" r="0.55"/><circle cx="597.8" cy="614.5" r="0.55"/><circle cx="595.1" cy="614.0" r="0.55"/><circle cx="600.9" cy="613.8" r="0.55"/><circle cx="596.6" cy="604.6" r="0.55"/><circle cx="599.7" cy="605.0" r="0.55"/><circle cx="596.8" cy="604.4" r="0.55"/><circle cx="612.2" cy="604.6" r="0.55"/><circle cx="610.5" cy="604.8" r="0.55"/><circle cx="609.1" cy="601.4" r="0.55"/><circle cx="594.0" cy="601.7" r="0.55"/><circle cx="601.7" cy="601.5" r="0.55"/><circle cx="606.5" cy="601.7" r="0.55"/><circle cx="597.0" cy="595.1" r="0.55"/><circle cx="612.4" cy="595.2" r="0.55"/><circle cx="597.3" cy="595.3" r="0.55"/><circle cx="596.6" cy="589.1" r="0.55"/><circle cx="591.4" cy="589.2" r="0.55"/><circle cx="604.0" cy="588.8" r="0.55"/><circle cx="613.0" cy="582.4" r="0.55"/><circle cx="596.2" cy="582.3" r="0.55"/><circle cx="603.6" cy="582.8" r="0.55"/><circle cx="606.7" cy="576.2" r="0.55"/><circle cx="609.8" cy="576.0" r="0.55"/><circle cx="597.8" cy="576.4" r="0.55"/><circle cx="613.6" cy="570.1" r="0.55"/><circle cx="607.0" cy="570.2" r="0.55"/><circle cx="599.9" cy="564.1" r="0.55"/><circle cx="608.2" cy="563.6" r="0.55"/><circle cx="599.8" cy="557.6" r="0.55"/><circle cx="598.8" cy="557.1" r="0.55"/><circle cx="611.3" cy="551.1" r="0.55"/><circle cx="602.9" cy="551.2" r="0.55"/><circle cx="612.0" cy="550.8" r="0.55"/><circle cx="598.5" cy="550.8" r="0.55"/><circle cx="486.9" cy="607.8" r="0.55"/><circle cx="503.6" cy="607.9" r="0.55"/><circle cx="493.2" cy="607.7" r="0.55"/><circle cx="493.0" cy="607.6" r="0.55"/><circle cx="503.3" cy="608.0" r="0.55"/><circle cx="503.1" cy="607.5" r="0.55"/><circle cx="496.7" cy="608.0" r="0.55"/><circle cx="490.2" cy="608.1" r="0.55"/><circle cx="505.4" cy="604.8" r="0.55"/><circle cx="502.4" cy="604.8" r="0.55"/><circle cx="504.6" cy="604.4" r="0.55"/><circle cx="498.0" cy="604.8" r="0.55"/><circle cx="494.5" cy="604.5" r="0.55"/><circle cx="473.8" cy="604.7" r="0.55"/><circle cx="502.5" cy="604.5" r="0.55"/><circle cx="479.3" cy="601.3" r="0.55"/><circle cx="474.8" cy="601.6" r="0.55"/><circle cx="508.2" cy="601.7" r="0.55"/><circle cx="484.9" cy="601.7" r="0.55"/><circle cx="473.9" cy="601.8" r="0.55"/><circle cx="483.6" cy="601.1" r="0.55"/><circle cx="495.1" cy="601.2" r="0.55"/><circle cx="481.7" cy="601.1" r="0.55"/><circle cx="488.0" cy="614.1" r="0.55"/><circle cx="502.5" cy="613.7" r="0.55"/><circle cx="503.3" cy="613.8" r="0.55"/><circle cx="479.2" cy="614.2" r="0.55"/><circle cx="483.8" cy="614.0" r="0.55"/><circle cx="492.9" cy="613.9" r="0.55"/><circle cx="501.9" cy="613.9" r="0.55"/><circle cx="503.8" cy="614.3" r="0.55"/><circle cx="491.7" cy="613.7" r="0.55"/><circle cx="501.3" cy="613.7" r="0.55"/><circle cx="490.4" cy="614.0" r="0.55"/><circle cx="472.7" cy="614.2" r="0.55"/><circle cx="499.2" cy="614.2" r="0.55"/><circle cx="486.2" cy="614.1" r="0.55"/><circle cx="493.8" cy="613.9" r="0.55"/><circle cx="504.9" cy="614.5" r="0.55"/><circle cx="502.4" cy="614.5" r="0.55"/><circle cx="483.4" cy="614.5" r="0.55"/><circle cx="473.1" cy="614.1" r="0.55"/><circle cx="475.5" cy="614.1" r="0.55"/><circle cx="497.5" cy="614.3" r="0.55"/><circle cx="488.4" cy="614.0" r="0.55"/><circle cx="477.8" cy="614.0" r="0.55"/><circle cx="481.5" cy="613.9" r="0.55"/><circle cx="499.6" cy="614.1" r="0.55"/><circle cx="487.7" cy="613.9" r="0.55"/><circle cx="498.3" cy="613.9" r="0.55"/><circle cx="480.8" cy="614.1" r="0.55"/><circle cx="498.2" cy="614.5" r="0.55"/><circle cx="500.1" cy="614.5" r="0.55"/><circle cx="507.0" cy="614.3" r="0.55"/><circle cx="499.0" cy="613.8" r="0.55"/><circle cx="478.4" cy="613.7" r="0.55"/><circle cx="504.7" cy="614.3" r="0.55"/><circle cx="495.4" cy="613.9" r="0.55"/><circle cx="484.4" cy="613.8" r="0.55"/><circle cx="495.5" cy="614.5" r="0.55"/><circle cx="482.4" cy="613.7" r="0.55"/><circle cx="477.2" cy="614.0" r="0.55"/><circle cx="506.2" cy="614.3" r="0.55"/></g>
<line x1="546.30" y1="523.00" x2="546.30" y2="630.00" stroke="#222" stroke-width="0.8" />
<rect x="544.00" y="593.10" width="5.00" height="14.30" fill="#9db0f5" stroke="#333" stroke-width="0.6" />
<line x1="602.40" y1="550.10" x2="602.40" y2="614.30" stroke="#222" stroke-width="0.9" />
<rect x="600.20" y="571.30" width="4.50" height="32.30" fill="#f03535" stroke="#333" stroke-width="0.6" />
<rect x="488.90" y="601.00" width="2.60" height="13.00" fill="#a8eef2" stroke="#333" stroke-width="0.5" />
<rect x="455.4" y="460.5" width="182.0" height="175.89999999999998" fill="none" stroke="#333" stroke-width="1"/>
<path d="M490.20,488.80 L490.20,485.80 L602.40,485.80 L602.40,488.80" fill="none" stroke="#333" stroke-width="1" />
<path d="M546.30,502.10 L546.30,499.30 L602.40,499.30 L602.40,502.10" fill="none" stroke="#333" stroke-width="1" />
<path d="M490.20,515.30 L490.20,512.40 L546.30,512.40 L546.30,515.30" fill="none" stroke="#333" stroke-width="1" />
<text x="546.40" y="482.43" font-size="11.49" text-anchor="middle" fill="#111" ><tspan font-style="italic">p</tspan>&lt;0.0001</text>
<text x="574.60" y="496.23" font-size="11.49" text-anchor="middle" fill="#111" ><tspan font-style="italic">p</tspan>&lt;0.01</text>
<text x="518.40" y="509.43" font-size="11.49" text-anchor="middle" fill="#111" ><tspan font-style="italic">p</tspan>&lt;0.0001</text>
<text x="422.50" y="660.52" font-size="13.06" text-anchor="start" fill="#111" >L</text>
<line x1="458.90" y1="675.00" x2="458.90" y2="799.40" stroke="#333" stroke-width="1" />
<line x1="456.40" y1="793.10" x2="458.90" y2="793.10" stroke="#333" stroke-width="1" />
<text x="457.30" y="796.73" font-size="11.49" text-anchor="end" fill="#111" >0.00</text>
<line x1="456.40" y1="764.62" x2="458.90" y2="764.62" stroke="#333" stroke-width="1" />
<text x="457.30" y="768.25" font-size="11.49" text-anchor="end" fill="#111" >0.25</text>
<line x1="456.40" y1="736.15" x2="458.90" y2="736.15" stroke="#333" stroke-width="1" />
<text x="457.30" y="739.78" font-size="11.49" text-anchor="end" fill="#111" >0.50</text>
<line x1="456.40" y1="707.67" x2="458.90" y2="707.67" stroke="#333" stroke-width="1" />
<text x="457.30" y="711.30" font-size="11.49" text-anchor="end" fill="#111" >0.75</text>
<line x1="456.40" y1="679.20" x2="458.90" y2="679.20" stroke="#333" stroke-width="1" />
<text x="457.30" y="682.83" font-size="11.49" text-anchor="end" fill="#111" >1.00</text>
<line x1="458.90" y1="799.40" x2="630.00" y2="799.40" stroke="#333" stroke-width="1" />
<line x1="466.60" y1="799.40" x2="466.60" y2="802.20" stroke="#333" stroke-width="1" />
<text x="466.60" y="810.63" font-size="11.49" text-anchor="middle" fill="#111" >0</text>
<line x1="518.20" y1="799.40" x2="518.20" y2="802.20" stroke="#333" stroke-width="1" />
<text x="518.20" y="810.63" font-size="11.49" text-anchor="middle" fill="#111" >1000</text>
<line x1="569.80" y1="799.40" x2="569.80" y2="802.20" stroke="#333" stroke-width="1" />
<text x="569.80" y="810.63" font-size="11.49" text-anchor="middle" fill="#111" >2000</text>
<line x1="621.40" y1="799.40" x2="621.40" y2="802.20" stroke="#333" stroke-width="1" />
<text x="621.40" y="810.63" font-size="11.49" text-anchor="middle" fill="#111" >3000</text>
<text x="546.10" y="821.83" font-size="11.49" text-anchor="middle" fill="#111" >OS. time (days)</text>
<text transform="translate(433.20,729.90) rotate(-90)" x="0" y="0" font-size="11.00" text-anchor="middle" fill="#111">Survival probability</text>
<path d="M466.57,680.55 L470.95,680.55 L470.95,681.57 L473.14,681.57 H473.87 V683.76 H474.01 V685.71 H474.16 V687.65 H474.31 V689.60 H474.82 V691.79 H475.33 V693.98 H476.79 V696.90 H478.25 V699.09 H479.71 V702.01 H481.17 V704.93 H481.90 V707.85 H483.36 V710.77 H484.82 V712.23 H486.28 V715.15 H486.64 V716.97 H487.01 V718.80 H489.20 V721.72 H489.56 V723.91 H489.93 V726.09 H491.39 V727.55 H495.04 V729.01 H497.96 V729.74 H500.88 V730.47 H503.07 V732.66 H505.26 V734.12 H506.72 V736.31 H508.91 V739.23 H511.09 V741.42 H513.28 V742.88 H517.66 V744.34 H520.58 V745.80 H522.77 V747.26 H528.61 V747.99 H531.53 V750.18 H533.72 V751.64 H535.91 V753.83 H538.83 V756.02 H556.35 V756.75 H558.54 V758.21 H560.00 V759.67 H561.00 V760.20 L604.00,760.20 L604.00,764.30 L630.30,764.30" fill="none" stroke="#3d68c0" stroke-width="1.1" />
<path d="M466.57,680.55 L467.59,680.55 H467.74 V682.35 H467.88 V684.15 H468.03 V685.95 H470.22 V686.68 H470.95 V689.60 H471.68 V692.15 H472.41 V694.71 H473.87 V697.63 H474.11 V699.57 H474.36 V701.52 H474.60 V703.47 H476.06 V705.66 H476.30 V707.60 H476.55 V709.55 H476.79 V711.50 H478.25 V713.69 H479.71 V716.61 H480.80 V718.43 H481.90 V720.26 H482.63 V722.08 H483.36 V723.91 H484.09 V726.46 H484.82 V729.01 H486.28 V731.93 H487.01 V734.12 H487.74 V736.31 H489.93 V739.23 H492.85 V742.15 H493.94 V743.98 H495.04 V745.80 H500.15 V747.26 H501.61 V750.18 H503.80 V752.37 H506.72 V753.83 H510.36 V756.02 H513.28 V758.21 H515.47 V761.13 H516.20 V763.08 H516.93 V765.02 H517.66 V766.97 L528.61,766.97 H531.53 V769.16 H533.72 V772.08 L543.94,772.08 H544.67 V773.91 H545.40 V775.73 H556.35 V777.19 H557.08 V779.38 L560.00,779.38 L574.80,779.60 H576.20 V782.30 L615.00,782.30" fill="none" stroke="#de3a40" stroke-width="1.1" />
<text x="477.40" y="686.83" font-size="11.49" text-anchor="start" fill="#111" >IFIT3 Expression:</text>
<rect x="563.00" y="681.70" width="5.80" height="3.00" fill="#de3a40" stroke="none" stroke-width="0" />
<text x="571.70" y="686.83" font-size="11.49" text-anchor="start" fill="#d8343a" >High</text>
<rect x="598.30" y="681.70" width="5.80" height="3.00" fill="#3d68c0" stroke="none" stroke-width="0" />
<text x="607.20" y="686.83" font-size="11.49" text-anchor="start" fill="#3d68c0" >Low</text>
<text x="610.70" y="761.23" font-size="11.49" text-anchor="start" fill="#3d68c0" >n=64</text>
<text x="594.70" y="779.33" font-size="11.49" text-anchor="start" fill="#d8343a" >n=46</text>
<text x="468.30" y="774.93" font-size="11.49" text-anchor="start" fill="#111" >HR=1.69</text>
<text x="468.30" y="785.73" font-size="11.49" text-anchor="start" fill="#111" ><tspan font-style="italic">p</tspan> = 0.013</text>
</svg></body></html>
